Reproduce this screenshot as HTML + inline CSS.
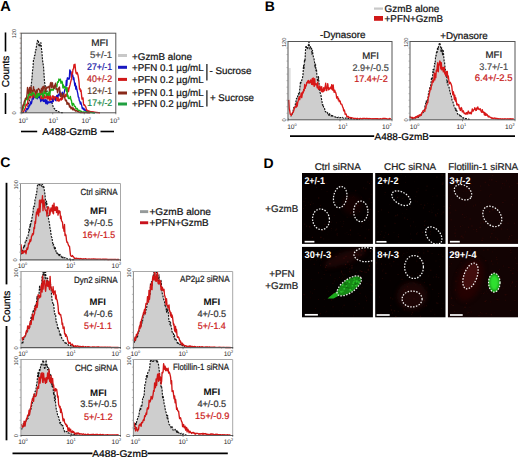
<!DOCTYPE html>
<html><head><meta charset="utf-8"><style>
html,body{margin:0;padding:0;background:#fff;}
svg{display:block;}
text{font-family:'Liberation Sans',sans-serif;text-rendering:geometricPrecision;}
</style></head><body>
<svg width="520" height="457" viewBox="0 0 520 457">
<rect width="520" height="457" fill="#fff"/>
<text x="0.20" y="10.60" font-size="14.6" fill="#000" font-weight="bold" >A</text>
<path d="M22.00,112.80 L22.50,112.75 L23.00,112.68 L23.50,112.55 L24.00,112.46 L24.50,112.34 L25.00,112.26 L25.50,112.20 L26.00,111.96 L26.50,111.88 L27.00,110.52 L27.50,107.64 L28.00,106.51 L28.50,103.21 L29.00,101.98 L29.50,99.81 L30.00,94.16 L30.50,94.34 L31.00,86.98 L31.50,82.57 L32.00,78.27 L32.50,71.23 L33.00,67.51 L33.50,59.57 L34.00,59.44 L34.50,55.55 L35.00,55.21 L35.50,49.91 L36.00,49.92 L36.50,45.63 L37.00,43.50 L37.50,40.42 L38.00,42.02 L38.50,41.47 L39.00,46.57 L39.50,44.15 L40.00,45.85 L40.50,43.03 L41.00,42.77 L41.50,49.01 L42.00,52.91 L42.50,60.07 L43.00,63.29 L43.50,66.56 L44.00,73.88 L44.50,81.70 L45.00,84.39 L45.50,89.53 L46.00,90.02 L46.50,91.11 L47.00,90.82 L47.50,94.32 L48.00,95.64 L48.50,96.69 L49.00,96.01 L49.50,99.78 L50.00,100.83 L50.50,101.42 L51.00,102.36 L51.50,103.12 L52.00,102.69 L52.50,103.92 L53.00,106.28 L53.50,107.18 L54.00,108.12 L54.50,109.01 L55.00,109.16 L55.50,110.39 L56.00,110.72 L56.50,110.49 L57.00,110.70 L57.50,111.01 L58.00,111.65 L58.50,111.78 L59.00,112.04 L59.50,112.36 L60.00,112.49 L60.50,112.49 L61.00,112.53 L61.50,112.60 L62.00,112.63 L62.50,112.69 L63.00,112.74 L63.50,112.78 L64.00,112.80 L64.00,112.80 L22.00,112.80 Z" fill="#cecece" stroke="none"/>
<path d="M22.00,112.80 L22.50,112.75 L23.00,112.68 L23.50,112.55 L24.00,112.46 L24.50,112.34 L25.00,112.26 L25.50,112.20 L26.00,111.96 L26.50,111.88 L27.00,110.52 L27.50,107.64 L28.00,106.51 L28.50,103.21 L29.00,101.98 L29.50,99.81 L30.00,94.16 L30.50,94.34 L31.00,86.98 L31.50,82.57 L32.00,78.27 L32.50,71.23 L33.00,67.51 L33.50,59.57 L34.00,59.44 L34.50,55.55 L35.00,55.21 L35.50,49.91 L36.00,49.92 L36.50,45.63 L37.00,43.50 L37.50,40.42 L38.00,42.02 L38.50,41.47 L39.00,46.57 L39.50,44.15 L40.00,45.85 L40.50,43.03 L41.00,42.77 L41.50,49.01 L42.00,52.91 L42.50,60.07 L43.00,63.29 L43.50,66.56 L44.00,73.88 L44.50,81.70 L45.00,84.39 L45.50,89.53 L46.00,90.02 L46.50,91.11 L47.00,90.82 L47.50,94.32 L48.00,95.64 L48.50,96.69 L49.00,96.01 L49.50,99.78 L50.00,100.83 L50.50,101.42 L51.00,102.36 L51.50,103.12 L52.00,102.69 L52.50,103.92 L53.00,106.28 L53.50,107.18 L54.00,108.12 L54.50,109.01 L55.00,109.16 L55.50,110.39 L56.00,110.72 L56.50,110.49 L57.00,110.70 L57.50,111.01 L58.00,111.65 L58.50,111.78 L59.00,112.04 L59.50,112.36 L60.00,112.49 L60.50,112.49 L61.00,112.53 L61.50,112.60 L62.00,112.63 L62.50,112.69 L63.00,112.74 L63.50,112.78 L64.00,112.80" fill="none" stroke="#151515" stroke-width="1.15" stroke-dasharray="2 1.1" stroke-linejoin="round"/>
<path d="M24.80,111.64 L25.30,111.07 L25.80,110.74 L26.30,109.65 L26.80,108.55 L27.30,108.39 L27.80,109.11 L28.30,108.16 L28.80,107.48 L29.30,104.97 L29.80,105.68 L30.30,103.75 L30.80,101.79 L31.30,103.84 L31.80,101.91 L32.30,97.73 L32.80,98.68 L33.30,99.06 L33.80,95.03 L34.30,97.65 L34.80,94.80 L35.30,94.04 L35.80,97.92 L36.30,95.26 L36.80,96.98 L37.30,98.76 L37.80,97.03 L38.30,97.56 L38.80,97.37 L39.30,94.28 L39.80,97.88 L40.30,98.94 L40.80,101.58 L41.30,99.04 L41.80,100.30 L42.30,99.29 L42.80,99.42 L43.30,101.28 L43.80,99.61 L44.30,101.62 L44.80,100.63 L45.30,99.59 L45.80,103.51 L46.30,102.96 L46.80,99.98 L47.30,104.16 L47.80,101.93 L48.30,102.99 L48.80,101.79 L49.30,102.61 L49.80,102.53 L50.30,101.66 L50.80,101.94 L51.30,102.83 L51.80,101.28 L52.30,102.00 L52.80,98.48 L53.30,101.49 L53.80,97.76 L54.30,97.99 L54.80,96.84 L55.30,99.73 L55.80,100.57 L56.30,96.69 L56.80,95.37 L57.30,96.07 L57.80,98.64 L58.30,94.30 L58.80,95.08 L59.30,94.79 L59.80,90.94 L60.30,96.13 L60.80,94.97 L61.30,95.91 L61.80,95.99 L62.30,92.10 L62.80,96.00 L63.30,96.06 L63.80,93.73 L64.30,92.15 L64.80,89.56 L65.30,88.46 L65.80,88.02 L66.30,80.47 L66.80,85.36 L67.30,78.07 L67.80,77.80 L68.30,78.69 L68.80,79.26 L69.30,78.92 L69.80,69.82 L70.30,71.05 L70.80,71.43 L71.30,77.29 L71.80,76.04 L72.30,73.92 L72.80,75.45 L73.30,79.65 L73.80,77.56 L74.30,81.69 L74.80,85.75 L75.30,83.07 L75.80,89.19 L76.30,86.11 L76.80,89.28 L77.30,91.38 L77.80,93.62 L78.30,97.21 L78.80,97.38 L79.30,100.76 L79.80,101.23 L80.30,103.95 L80.80,102.10 L81.30,104.12 L81.80,105.87 L82.30,108.68 L82.80,108.03 L83.30,109.32 L83.80,108.21 L84.30,110.24 L84.80,109.47 L85.30,110.03 L85.80,110.91 L86.30,111.04 L86.80,111.29 L87.30,111.68 L87.80,111.57 L88.30,111.09 L88.80,111.44 L89.30,111.72 L89.80,111.79 L90.30,112.03 L90.80,112.03 L91.30,111.99 L91.80,112.18 L92.30,112.47 L92.80,112.45 L93.30,112.61 L93.80,112.70 L94.30,112.73 L94.80,112.78" fill="none" stroke="#1010c8" stroke-width="1.35" stroke-linejoin="round"/>
<path d="M23.00,112.06 L23.50,111.52 L24.00,110.71 L24.50,110.02 L25.00,108.48 L25.50,108.24 L26.00,104.23 L26.50,104.83 L27.00,105.22 L27.50,103.36 L28.00,99.89 L28.50,99.21 L29.00,96.06 L29.50,96.42 L30.00,97.84 L30.50,97.14 L31.00,95.62 L31.50,92.41 L32.00,93.57 L32.50,97.71 L33.00,94.14 L33.50,95.53 L34.00,93.86 L34.50,96.46 L35.00,97.56 L35.50,94.81 L36.00,91.73 L36.50,93.39 L37.00,94.84 L37.50,97.40 L38.00,94.86 L38.50,93.60 L39.00,93.46 L39.50,94.81 L40.00,95.31 L40.50,91.87 L41.00,98.55 L41.50,97.68 L42.00,98.80 L42.50,96.02 L43.00,95.63 L43.50,98.61 L44.00,94.97 L44.50,95.38 L45.00,98.05 L45.50,96.77 L46.00,97.87 L46.50,96.85 L47.00,95.81 L47.50,98.92 L48.00,93.57 L48.50,98.41 L49.00,97.09 L49.50,100.01 L50.00,95.41 L50.50,96.16 L51.00,99.91 L51.50,99.25 L52.00,98.58 L52.50,95.82 L53.00,95.83 L53.50,96.36 L54.00,99.71 L54.50,99.47 L55.00,96.94 L55.50,97.16 L56.00,97.17 L56.50,97.50 L57.00,100.80 L57.50,99.07 L58.00,97.56 L58.50,101.06 L59.00,99.07 L59.50,100.82 L60.00,100.10 L60.50,98.46 L61.00,97.84 L61.50,99.97 L62.00,97.55 L62.50,99.06 L63.00,95.56 L63.50,96.21 L64.00,96.68 L64.50,97.04 L65.00,94.95 L65.50,96.55 L66.00,94.21 L66.50,96.12 L67.00,95.43 L67.50,91.34 L68.00,87.88 L68.50,91.68 L69.00,88.73 L69.50,86.78 L70.00,84.94 L70.50,82.69 L71.00,80.81 L71.50,78.66 L72.00,72.24 L72.50,73.55 L73.00,69.18 L73.50,68.83 L74.00,64.61 L74.50,67.01 L75.00,64.16 L75.50,69.81 L76.00,72.87 L76.50,73.85 L77.00,72.38 L77.50,73.57 L78.00,75.22 L78.50,78.06 L79.00,81.96 L79.50,89.19 L80.00,88.54 L80.50,91.40 L81.00,90.13 L81.50,94.67 L82.00,99.19 L82.50,98.70 L83.00,97.92 L83.50,104.05 L84.00,105.20 L84.50,104.82 L85.00,105.90 L85.50,106.24 L86.00,107.66 L86.50,110.25 L87.00,109.84 L87.50,111.22 L88.00,111.24 L88.50,110.99 L89.00,110.82 L89.50,111.73 L90.00,111.49 L90.50,111.60 L91.00,111.67 L91.50,112.11 L92.00,111.86 L92.50,111.79 L93.00,111.95 L93.50,111.84 L94.00,112.14 L94.50,112.13 L95.00,112.15 L95.50,112.38 L96.00,112.45 L96.50,112.33 L97.00,112.51 L97.50,112.54 L98.00,112.67 L98.50,112.70 L99.00,112.72 L99.50,112.76 L100.00,112.80" fill="none" stroke="#d81818" stroke-width="1.35" stroke-linejoin="round"/>
<path d="M22.40,110.23 L22.90,109.69 L23.40,107.75 L23.90,106.75 L24.40,104.27 L24.90,104.10 L25.40,99.83 L25.90,99.82 L26.40,99.32 L26.90,97.08 L27.40,99.89 L27.90,98.37 L28.40,93.83 L28.90,95.68 L29.40,91.66 L29.90,93.34 L30.40,95.06 L30.90,94.99 L31.40,94.49 L31.90,95.54 L32.40,91.07 L32.90,92.15 L33.40,93.77 L33.90,93.37 L34.40,94.13 L34.90,95.44 L35.40,97.24 L35.90,97.42 L36.40,97.80 L36.90,93.33 L37.40,97.77 L37.90,95.68 L38.40,93.79 L38.90,95.82 L39.40,93.09 L39.90,95.10 L40.40,94.92 L40.90,94.12 L41.40,94.35 L41.90,92.29 L42.40,93.62 L42.90,97.02 L43.40,96.95 L43.90,91.64 L44.40,91.30 L44.90,93.33 L45.40,88.27 L45.90,92.53 L46.40,95.71 L46.90,93.06 L47.40,93.95 L47.90,93.31 L48.40,95.38 L48.90,92.30 L49.40,91.06 L49.90,95.30 L50.40,89.96 L50.90,89.28 L51.40,89.08 L51.90,90.62 L52.40,89.32 L52.90,89.35 L53.40,90.14 L53.90,86.91 L54.40,88.67 L54.90,86.87 L55.40,86.51 L55.90,85.46 L56.40,84.94 L56.90,86.85 L57.40,82.41 L57.90,81.61 L58.40,82.16 L58.90,78.99 L59.40,80.11 L59.90,80.62 L60.40,79.11 L60.90,83.28 L61.40,82.60 L61.90,81.14 L62.40,82.56 L62.90,87.88 L63.40,84.89 L63.90,87.98 L64.40,86.53 L64.90,86.76 L65.40,87.63 L65.90,89.82 L66.40,91.22 L66.90,87.43 L67.40,96.61 L67.90,95.17 L68.40,98.47 L68.90,98.10 L69.40,98.48 L69.90,97.60 L70.40,96.49 L70.90,99.94 L71.40,100.00 L71.90,103.90 L72.40,105.57 L72.90,103.42 L73.40,103.48 L73.90,104.40 L74.40,106.34 L74.90,106.33 L75.40,106.51 L75.90,108.97 L76.40,108.45 L76.90,108.32 L77.40,108.75 L77.90,110.50 L78.40,110.19 L78.90,110.95 L79.40,110.50 L79.90,110.49 L80.40,111.12 L80.90,111.62 L81.40,111.30 L81.90,111.96 L82.40,112.17 L82.90,112.16 L83.40,112.19 L83.90,111.81 L84.40,112.13 L84.90,112.26 L85.40,111.94 L85.90,112.07 L86.40,112.11 L86.90,112.25 L87.40,112.25 L87.90,112.31 L88.40,112.44 L88.90,112.28 L89.40,112.35 L89.90,112.41 L90.40,112.46 L90.90,112.50 L91.40,112.66 L91.90,112.68 L92.40,112.64 L92.90,112.70 L93.40,112.72 L93.90,112.75 L94.40,112.78 L94.90,112.80" fill="none" stroke="#18b018" stroke-width="1.35" stroke-linejoin="round"/>
<path d="M21.50,112.25 L22.00,111.36 L22.50,107.70 L23.00,104.92 L23.50,105.73 L24.00,102.92 L24.50,101.00 L25.00,99.94 L25.50,98.23 L26.00,98.52 L26.50,98.36 L27.00,94.03 L27.50,87.52 L28.00,90.79 L28.50,93.69 L29.00,91.33 L29.50,87.51 L30.00,87.69 L30.50,92.70 L31.00,86.91 L31.50,90.53 L32.00,91.00 L32.50,90.35 L33.00,91.80 L33.50,86.66 L34.00,90.55 L34.50,89.62 L35.00,92.40 L35.50,91.99 L36.00,92.45 L36.50,89.83 L37.00,92.87 L37.50,90.26 L38.00,89.39 L38.50,88.55 L39.00,89.35 L39.50,89.73 L40.00,92.29 L40.50,90.95 L41.00,91.16 L41.50,88.46 L42.00,92.78 L42.50,86.95 L43.00,90.86 L43.50,87.15 L44.00,86.12 L44.50,87.60 L45.00,88.79 L45.50,91.64 L46.00,87.63 L46.50,89.16 L47.00,86.80 L47.50,87.82 L48.00,87.33 L48.50,86.66 L49.00,86.22 L49.50,90.89 L50.00,86.19 L50.50,82.97 L51.00,82.37 L51.50,87.47 L52.00,83.61 L52.50,82.74 L53.00,87.75 L53.50,88.55 L54.00,88.10 L54.50,85.21 L55.00,86.43 L55.50,83.08 L56.00,89.24 L56.50,88.23 L57.00,88.82 L57.50,92.70 L58.00,91.27 L58.50,88.21 L59.00,87.74 L59.50,87.07 L60.00,93.07 L60.50,96.41 L61.00,93.17 L61.50,94.01 L62.00,96.64 L62.50,97.50 L63.00,96.51 L63.50,93.11 L64.00,96.53 L64.50,96.73 L65.00,98.84 L65.50,100.86 L66.00,100.22 L66.50,100.21 L67.00,104.33 L67.50,102.54 L68.00,102.77 L68.50,104.50 L69.00,103.42 L69.50,107.11 L70.00,105.88 L70.50,106.94 L71.00,108.74 L71.50,107.82 L72.00,107.08 L72.50,109.72 L73.00,108.35 L73.50,108.01 L74.00,110.03 L74.50,109.30 L75.00,110.05 L75.50,111.10 L76.00,110.97 L76.50,110.31 L77.00,111.10 L77.50,111.33 L78.00,111.67 L78.50,111.78 L79.00,112.21 L79.50,112.24 L80.00,112.46 L80.50,112.48 L81.00,112.60 L81.50,112.45 L82.00,112.59 L82.50,112.51 L83.00,112.59 L83.50,112.58 L84.00,112.61 L84.50,112.66 L85.00,112.64 L85.50,112.64 L86.00,112.66 L86.50,112.68 L87.00,112.74 L87.50,112.75 L88.00,112.77 L88.50,112.77 L89.00,112.78 L89.50,112.79 L90.00,112.80" fill="none" stroke="#8a2a1a" stroke-width="1.35" stroke-linejoin="round"/>
<rect x="21.20" y="33.20" width="94.60" height="79.60" fill="none" stroke="#555" stroke-width="1" />
<line x1="19.70" y1="33.20" x2="21.20" y2="33.20" stroke="#7a5a4a" stroke-width="0.6" />
<line x1="19.70" y1="38.18" x2="21.20" y2="38.18" stroke="#7a5a4a" stroke-width="0.6" />
<line x1="19.70" y1="43.15" x2="21.20" y2="43.15" stroke="#7a5a4a" stroke-width="0.6" />
<line x1="19.70" y1="48.12" x2="21.20" y2="48.12" stroke="#7a5a4a" stroke-width="0.6" />
<line x1="19.70" y1="53.10" x2="21.20" y2="53.10" stroke="#7a5a4a" stroke-width="0.6" />
<line x1="19.70" y1="58.08" x2="21.20" y2="58.08" stroke="#7a5a4a" stroke-width="0.6" />
<line x1="19.70" y1="63.05" x2="21.20" y2="63.05" stroke="#7a5a4a" stroke-width="0.6" />
<line x1="19.70" y1="68.03" x2="21.20" y2="68.03" stroke="#7a5a4a" stroke-width="0.6" />
<line x1="19.70" y1="73.00" x2="21.20" y2="73.00" stroke="#7a5a4a" stroke-width="0.6" />
<line x1="19.70" y1="77.97" x2="21.20" y2="77.97" stroke="#7a5a4a" stroke-width="0.6" />
<line x1="19.70" y1="82.95" x2="21.20" y2="82.95" stroke="#7a5a4a" stroke-width="0.6" />
<line x1="19.70" y1="87.92" x2="21.20" y2="87.92" stroke="#7a5a4a" stroke-width="0.6" />
<line x1="19.70" y1="92.90" x2="21.20" y2="92.90" stroke="#7a5a4a" stroke-width="0.6" />
<line x1="19.70" y1="97.88" x2="21.20" y2="97.88" stroke="#7a5a4a" stroke-width="0.6" />
<line x1="19.70" y1="102.85" x2="21.20" y2="102.85" stroke="#7a5a4a" stroke-width="0.6" />
<line x1="19.70" y1="107.83" x2="21.20" y2="107.83" stroke="#7a5a4a" stroke-width="0.6" />
<line x1="19.70" y1="112.80" x2="21.20" y2="112.80" stroke="#7a5a4a" stroke-width="0.6" />
<text x="16.30" y="38.30" font-size="5.6" fill="#333" transform="rotate(-90 16.30 38.30)" >120</text>
<text x="16.30" y="114.60" font-size="5.6" fill="#333" transform="rotate(-90 16.30 114.60)" >0</text>
<text x="18.40" y="123.20" font-size="6.6" fill="#2a2a2a" >10</text>
<text x="25.80" y="119.80" font-size="3.9" fill="#2a2a2a" >0</text>
<line x1="21.20" y1="112.80" x2="21.20" y2="114.30" stroke="#2a2a2a" stroke-width="0.5" />
<text x="48.53" y="123.20" font-size="6.6" fill="#2a2a2a" >10</text>
<text x="55.93" y="119.80" font-size="3.9" fill="#2a2a2a" >1</text>
<line x1="52.73" y1="112.80" x2="52.73" y2="114.30" stroke="#2a2a2a" stroke-width="0.5" />
<text x="81.47" y="123.20" font-size="6.6" fill="#2a2a2a" >10</text>
<text x="88.87" y="119.80" font-size="3.9" fill="#2a2a2a" >2</text>
<line x1="84.27" y1="112.80" x2="84.27" y2="114.30" stroke="#2a2a2a" stroke-width="0.5" />
<text x="109.80" y="123.20" font-size="6.6" fill="#2a2a2a" >10</text>
<text x="117.20" y="119.80" font-size="3.9" fill="#2a2a2a" >3</text>
<line x1="115.80" y1="112.80" x2="115.80" y2="114.30" stroke="#2a2a2a" stroke-width="0.5" />
<text x="91.20" y="46.40" font-size="9.6" fill="#222" textLength="17.20" lengthAdjust="spacingAndGlyphs" stroke="#222" stroke-width="0.22">MFI</text>
<text x="90.00" y="58.20" font-size="9.6" fill="#4a4a4a" textLength="22.20" lengthAdjust="spacingAndGlyphs" stroke="#4a4a4a" stroke-width="0.22">5+/-1</text>
<text x="87.00" y="70.30" font-size="9.6" fill="#2020a8" textLength="25.20" lengthAdjust="spacingAndGlyphs" stroke="#2020a8" stroke-width="0.22">27+/-1</text>
<text x="87.00" y="82.30" font-size="9.6" fill="#c02828" textLength="25.20" lengthAdjust="spacingAndGlyphs" stroke="#c02828" stroke-width="0.22">40+/-2</text>
<text x="87.30" y="94.10" font-size="9.6" fill="#5a3828" textLength="24.90" lengthAdjust="spacingAndGlyphs" stroke="#5a3828" stroke-width="0.22">12+/-1</text>
<text x="87.30" y="105.80" font-size="9.6" fill="#208a48" textLength="24.90" lengthAdjust="spacingAndGlyphs" stroke="#208a48" stroke-width="0.22">17+/-2</text>
<rect x="118.00" y="54.00" width="9.00" height="3.00" fill="#c8c8c8" stroke="none" stroke-width="1" />
<rect x="118.00" y="65.80" width="9.00" height="3.00" fill="#1818c0" stroke="none" stroke-width="1" />
<rect x="118.00" y="77.90" width="9.00" height="3.00" fill="#d01818" stroke="none" stroke-width="1" />
<rect x="118.00" y="91.50" width="9.00" height="3.00" fill="#8a2a1a" stroke="none" stroke-width="1" />
<rect x="118.00" y="102.50" width="9.00" height="3.00" fill="#20a040" stroke="none" stroke-width="1" />
<text x="132.00" y="59.80" font-size="9.8" fill="#111" textLength="60.00" lengthAdjust="spacingAndGlyphs" stroke="#111" stroke-width="0.22">+GzmB alone</text>
<text x="132.00" y="70.90" font-size="9.8" fill="#111" textLength="71.70" lengthAdjust="spacingAndGlyphs" stroke="#111" stroke-width="0.22">+PFN 0.1 µg/mL</text>
<text x="132.00" y="83.00" font-size="9.8" fill="#111" textLength="71.70" lengthAdjust="spacingAndGlyphs" stroke="#111" stroke-width="0.22">+PFN 0.2 µg/mL</text>
<text x="132.00" y="96.00" font-size="9.8" fill="#111" textLength="71.70" lengthAdjust="spacingAndGlyphs" stroke="#111" stroke-width="0.22">+PFN 0.1 µg/mL</text>
<text x="132.00" y="107.30" font-size="9.8" fill="#111" textLength="71.70" lengthAdjust="spacingAndGlyphs" stroke="#111" stroke-width="0.22">+PFN 0.2 µg/mL</text>
<line x1="206.90" y1="64.00" x2="206.90" y2="80.50" stroke="#111" stroke-width="1.2" />
<line x1="206.90" y1="90.30" x2="206.90" y2="106.40" stroke="#111" stroke-width="1.2" />
<text x="209.40" y="74.20" font-size="9.8" fill="#111" textLength="42.00" lengthAdjust="spacingAndGlyphs" stroke="#111" stroke-width="0.22">- Sucrose</text>
<text x="210.00" y="100.60" font-size="9.8" fill="#111" textLength="44.00" lengthAdjust="spacingAndGlyphs" stroke="#111" stroke-width="0.22">+ Sucrose</text>
<text x="9.00" y="71.50" font-size="10" fill="#000" text-anchor="middle" transform="rotate(-90 9.00 71.50)" stroke="#000" stroke-width="0.22">Counts</text>
<line x1="5.50" y1="32.50" x2="5.50" y2="51.50" stroke="#000" stroke-width="1.6" />
<line x1="5.50" y1="93.00" x2="5.50" y2="114.00" stroke="#000" stroke-width="1.6" />
<text x="42.30" y="135.00" font-size="10.0" fill="#000" textLength="55.00" lengthAdjust="spacingAndGlyphs" stroke="#000" stroke-width="0.22">A488-GzmB</text>
<line x1="21.00" y1="131.50" x2="37.20" y2="131.50" stroke="#000" stroke-width="1.6" />
<line x1="100.50" y1="131.50" x2="114.00" y2="131.50" stroke="#000" stroke-width="1.6" />
<text x="264.80" y="11.20" font-size="14" fill="#000" font-weight="bold" >B</text>
<rect x="374.00" y="7.50" width="9.00" height="2.20" fill="#c8c8c8" stroke="none" stroke-width="1" />
<rect x="374.00" y="16.00" width="9.00" height="4.80" fill="#d01818" stroke="none" stroke-width="1" />
<text x="384.60" y="11.60" font-size="9.8" fill="#111" textLength="54.60" lengthAdjust="spacingAndGlyphs" stroke="#111" stroke-width="0.22">GzmB alone</text>
<text x="384.60" y="21.60" font-size="9.8" fill="#111" textLength="58.40" lengthAdjust="spacingAndGlyphs" stroke="#111" stroke-width="0.22">+PFN+GzmB</text>
<text x="320.00" y="37.50" font-size="9.8" fill="#111" textLength="45.50" lengthAdjust="spacingAndGlyphs" stroke="#111" stroke-width="0.22">-Dynasore</text>
<text x="440.20" y="38.50" font-size="9.8" fill="#111" textLength="47.50" lengthAdjust="spacingAndGlyphs" stroke="#111" stroke-width="0.22">+Dynasore</text>
<path d="M288.50,119.49 L289.00,118.68 L289.50,118.33 L290.00,117.15 L290.50,116.36 L291.00,115.82 L291.50,114.53 L292.00,114.28 L292.50,113.31 L293.00,111.54 L293.50,108.62 L294.00,107.26 L294.50,108.65 L295.00,106.69 L295.50,103.41 L296.00,101.73 L296.50,98.30 L297.00,98.67 L297.50,96.84 L298.00,95.00 L298.50,93.60 L299.00,94.72 L299.50,91.86 L300.00,86.67 L300.50,81.52 L301.00,82.91 L301.50,81.21 L302.00,79.53 L302.50,77.98 L303.00,74.87 L303.50,65.48 L304.00,68.49 L304.50,59.52 L305.00,61.48 L305.50,50.22 L306.00,45.71 L306.50,47.25 L307.00,47.77 L307.50,49.15 L308.00,47.57 L308.50,44.31 L309.00,42.10 L309.50,46.92 L310.00,49.31 L310.50,46.70 L311.00,47.31 L311.50,47.55 L312.00,54.23 L312.50,50.34 L313.00,55.26 L313.50,57.28 L314.00,58.74 L314.50,61.96 L315.00,67.51 L315.50,64.12 L316.00,70.61 L316.50,68.94 L317.00,77.27 L317.50,80.44 L318.00,80.81 L318.50,76.68 L319.00,83.10 L319.50,86.85 L320.00,92.35 L320.50,93.70 L321.00,95.47 L321.50,99.06 L322.00,101.56 L322.50,105.27 L323.00,104.55 L323.50,106.79 L324.00,108.07 L324.50,108.04 L325.00,111.20 L325.50,111.44 L326.00,112.16 L326.50,111.76 L327.00,112.10 L327.50,112.32 L328.00,114.84 L328.50,114.51 L329.00,115.39 L329.50,113.51 L330.00,115.20 L330.50,115.20 L331.00,115.95 L331.50,115.48 L332.00,116.83 L332.50,115.51 L333.00,116.31 L333.50,116.66 L334.00,116.97 L334.50,116.81 L335.00,116.85 L335.50,117.07 L336.00,117.33 L336.50,116.71 L337.00,117.23 L337.50,117.58 L338.00,117.63 L338.50,117.21 L339.00,117.69 L339.50,117.82 L340.00,117.57 L340.50,117.65 L341.00,117.45 L341.50,117.68 L342.00,117.75 L342.50,117.32 L343.00,117.88 L343.50,118.24 L344.00,118.19 L344.50,118.12 L345.00,117.91 L345.50,118.24 L346.00,118.19 L346.50,118.15 L347.00,118.47 L347.50,118.03 L348.00,118.51 L348.50,118.11 L349.00,118.50 L349.50,118.46 L350.00,118.35 L350.50,118.64 L351.00,118.56 L351.50,118.66 L352.00,118.86 L352.50,118.58 L353.00,118.53 L353.50,118.73 L354.00,118.94 L354.50,118.82 L355.00,118.89 L355.50,119.19 L356.00,119.17 L356.50,119.17 L357.00,119.34 L357.50,119.26 L358.00,119.38 L358.50,119.35 L359.00,119.43 L359.50,119.52 L360.00,119.55 L360.00,119.80 L288.50,119.80 Z" fill="#cecece" stroke="none"/>
<path d="M288.50,119.49 L289.00,118.68 L289.50,118.33 L290.00,117.15 L290.50,116.36 L291.00,115.82 L291.50,114.53 L292.00,114.28 L292.50,113.31 L293.00,111.54 L293.50,108.62 L294.00,107.26 L294.50,108.65 L295.00,106.69 L295.50,103.41 L296.00,101.73 L296.50,98.30 L297.00,98.67 L297.50,96.84 L298.00,95.00 L298.50,93.60 L299.00,94.72 L299.50,91.86 L300.00,86.67 L300.50,81.52 L301.00,82.91 L301.50,81.21 L302.00,79.53 L302.50,77.98 L303.00,74.87 L303.50,65.48 L304.00,68.49 L304.50,59.52 L305.00,61.48 L305.50,50.22 L306.00,45.71 L306.50,47.25 L307.00,47.77 L307.50,49.15 L308.00,47.57 L308.50,44.31 L309.00,42.10 L309.50,46.92 L310.00,49.31 L310.50,46.70 L311.00,47.31 L311.50,47.55 L312.00,54.23 L312.50,50.34 L313.00,55.26 L313.50,57.28 L314.00,58.74 L314.50,61.96 L315.00,67.51 L315.50,64.12 L316.00,70.61 L316.50,68.94 L317.00,77.27 L317.50,80.44 L318.00,80.81 L318.50,76.68 L319.00,83.10 L319.50,86.85 L320.00,92.35 L320.50,93.70 L321.00,95.47 L321.50,99.06 L322.00,101.56 L322.50,105.27 L323.00,104.55 L323.50,106.79 L324.00,108.07 L324.50,108.04 L325.00,111.20 L325.50,111.44 L326.00,112.16 L326.50,111.76 L327.00,112.10 L327.50,112.32 L328.00,114.84 L328.50,114.51 L329.00,115.39 L329.50,113.51 L330.00,115.20 L330.50,115.20 L331.00,115.95 L331.50,115.48 L332.00,116.83 L332.50,115.51 L333.00,116.31 L333.50,116.66 L334.00,116.97 L334.50,116.81 L335.00,116.85 L335.50,117.07 L336.00,117.33 L336.50,116.71 L337.00,117.23 L337.50,117.58 L338.00,117.63 L338.50,117.21 L339.00,117.69 L339.50,117.82 L340.00,117.57 L340.50,117.65 L341.00,117.45 L341.50,117.68 L342.00,117.75 L342.50,117.32 L343.00,117.88 L343.50,118.24 L344.00,118.19 L344.50,118.12 L345.00,117.91 L345.50,118.24 L346.00,118.19 L346.50,118.15 L347.00,118.47 L347.50,118.03 L348.00,118.51 L348.50,118.11 L349.00,118.50 L349.50,118.46 L350.00,118.35 L350.50,118.64 L351.00,118.56 L351.50,118.66 L352.00,118.86 L352.50,118.58 L353.00,118.53 L353.50,118.73 L354.00,118.94 L354.50,118.82 L355.00,118.89 L355.50,119.19 L356.00,119.17 L356.50,119.17 L357.00,119.34 L357.50,119.26 L358.00,119.38 L358.50,119.35 L359.00,119.43 L359.50,119.52 L360.00,119.55" fill="none" stroke="#151515" stroke-width="1.15" stroke-dasharray="2 1.1" stroke-linejoin="round"/>
<rect x="288.50" y="68.00" width="2.20" height="52.00" fill="#dedede" stroke="none" stroke-width="1" />
<path d="M288.70,99.86 L289.20,108.61 L289.70,110.72 L290.20,114.08 L290.70,114.54 L291.20,115.48 L291.70,114.41 L292.20,113.27 L292.70,112.39 L293.20,112.30 L293.70,110.80 L294.20,109.06 L294.70,107.11 L295.20,106.88 L295.70,106.14 L296.20,107.26 L296.70,102.67 L297.20,106.10 L297.70,102.58 L298.20,100.74 L298.70,98.55 L299.20,96.55 L299.70,99.70 L300.20,96.65 L300.70,96.44 L301.20,93.01 L301.70,97.69 L302.20,94.81 L302.70,91.88 L303.20,92.99 L303.70,89.44 L304.20,90.75 L304.70,84.54 L305.20,88.40 L305.70,85.78 L306.20,85.80 L306.70,82.67 L307.20,82.41 L307.70,80.94 L308.20,83.02 L308.70,80.48 L309.20,81.30 L309.70,82.99 L310.20,82.70 L310.70,80.01 L311.20,81.44 L311.70,84.44 L312.20,78.64 L312.70,84.62 L313.20,77.93 L313.70,83.43 L314.20,86.40 L314.70,78.78 L315.20,84.99 L315.70,84.22 L316.20,83.80 L316.70,84.99 L317.20,87.74 L317.70,82.14 L318.20,88.10 L318.70,89.46 L319.20,88.56 L319.70,85.95 L320.20,86.79 L320.70,89.86 L321.20,91.20 L321.70,86.69 L322.20,91.85 L322.70,89.37 L323.20,91.69 L323.70,87.74 L324.20,90.95 L324.70,88.48 L325.20,86.78 L325.70,83.06 L326.20,90.41 L326.70,90.50 L327.20,88.12 L327.70,83.57 L328.20,86.97 L328.70,89.76 L329.20,89.31 L329.70,88.52 L330.20,87.30 L330.70,87.15 L331.20,88.92 L331.70,84.67 L332.20,89.55 L332.70,90.13 L333.20,84.89 L333.70,90.39 L334.20,92.40 L334.70,90.22 L335.20,91.99 L335.70,92.56 L336.20,94.50 L336.70,98.12 L337.20,97.31 L337.70,96.78 L338.20,99.94 L338.70,98.78 L339.20,101.58 L339.70,100.60 L340.20,101.12 L340.70,103.81 L341.20,104.05 L341.70,104.10 L342.20,105.39 L342.70,107.16 L343.20,107.83 L343.70,110.80 L344.20,109.86 L344.70,111.29 L345.20,114.31 L345.70,113.94 L346.20,114.20 L346.70,116.38 L347.20,117.05 L347.70,116.53 L348.20,116.44 L348.70,117.33 L349.20,117.72 L349.70,117.48 L350.20,117.83 L350.70,117.47 L351.20,117.87 L351.70,117.61 L352.20,117.92 L352.70,118.04 L353.20,118.18 L353.70,118.31 L354.20,118.72 L354.70,118.33 L355.20,118.40 L355.70,118.43 L356.20,118.93 L356.70,118.62 L357.20,118.30 L357.70,118.84 L358.20,118.87 L358.70,118.83 L359.20,118.52 L359.70,118.78 L360.20,118.49 L360.70,118.38 L361.20,118.87 L361.70,118.85 L362.20,118.44 L362.70,118.89 L363.20,118.32 L363.70,118.51 L364.20,118.32 L364.70,118.43 L365.20,118.42 L365.70,118.79 L366.20,118.52 L366.70,118.45 L367.20,118.45 L367.70,118.54 L368.20,118.90 L368.70,118.74 L369.20,118.42 L369.70,118.80 L370.20,118.70 L370.70,118.65 L371.20,118.70 L371.70,118.79 L372.20,118.88 L372.70,118.70 L373.20,118.79 L373.70,118.68 L374.20,118.79 L374.70,118.64 L375.20,118.66 L375.70,118.73 L376.20,118.86 L376.70,118.59 L377.20,118.99 L377.70,118.73 L378.20,118.95 L378.70,118.86 L379.20,119.02 L379.70,118.86 L380.20,118.71 L380.70,118.70 L381.20,118.82 L381.70,118.91 L382.20,118.96 L382.70,118.54 L383.20,118.51 L383.70,118.54 L384.20,118.53 L384.70,118.51 L385.20,118.49 L385.70,118.63 L386.20,118.56 L386.70,118.89 L387.20,118.85 L387.70,119.06 L388.20,119.06 L388.70,118.94 L389.20,119.05 L389.70,118.52 L390.20,118.64 L390.70,119.04" fill="none" stroke="#d81818" stroke-width="1.35" stroke-linejoin="round"/>
<path d="M411.60,118.81 L412.10,118.90 L412.60,118.81 L413.10,118.78 L413.60,118.28 L414.10,118.14 L414.60,117.90 L415.10,117.77 L415.60,118.02 L416.10,117.30 L416.60,117.52 L417.10,117.05 L417.60,116.99 L418.10,117.03 L418.60,117.43 L419.10,116.93 L419.60,115.57 L420.10,115.29 L420.60,114.22 L421.10,115.10 L421.60,114.25 L422.10,113.58 L422.60,113.08 L423.10,112.45 L423.60,111.79 L424.10,110.62 L424.60,108.64 L425.10,105.68 L425.60,103.80 L426.10,101.01 L426.60,102.39 L427.10,100.94 L427.60,99.50 L428.10,97.02 L428.60,92.26 L429.10,91.36 L429.60,88.82 L430.10,86.77 L430.60,85.92 L431.10,82.14 L431.60,77.30 L432.10,79.95 L432.60,75.65 L433.10,69.22 L433.60,72.50 L434.10,68.47 L434.60,63.42 L435.10,63.94 L435.60,56.12 L436.10,55.87 L436.60,51.14 L437.10,52.36 L437.60,47.27 L438.10,49.49 L438.60,45.93 L439.10,44.41 L439.60,42.71 L440.10,44.20 L440.60,46.21 L441.10,52.29 L441.60,47.74 L442.10,48.81 L442.60,55.42 L443.10,49.59 L443.60,54.64 L444.10,60.79 L444.60,62.73 L445.10,68.31 L445.60,71.19 L446.10,75.50 L446.60,74.73 L447.10,82.64 L447.60,80.30 L448.10,85.46 L448.60,86.37 L449.10,87.37 L449.60,90.09 L450.10,92.00 L450.60,94.36 L451.10,95.29 L451.60,97.29 L452.10,100.32 L452.60,101.13 L453.10,102.54 L453.60,104.31 L454.10,106.18 L454.60,106.91 L455.10,108.18 L455.60,110.47 L456.10,108.85 L456.60,110.13 L457.10,111.72 L457.60,114.25 L458.10,114.19 L458.60,113.98 L459.10,114.33 L459.60,115.02 L460.10,116.40 L460.60,115.52 L461.10,116.43 L461.60,116.68 L462.10,117.04 L462.60,117.84 L463.10,117.56 L463.60,118.17 L464.10,118.19 L464.60,118.47 L465.10,118.29 L465.60,118.66 L466.10,118.51 L466.60,118.73 L467.10,118.89 L467.60,119.11 L468.10,119.24 L468.60,119.16 L469.10,119.29 L469.60,119.45 L469.60,119.80 L411.60,119.80 Z" fill="#cecece" stroke="none"/>
<path d="M411.60,118.81 L412.10,118.90 L412.60,118.81 L413.10,118.78 L413.60,118.28 L414.10,118.14 L414.60,117.90 L415.10,117.77 L415.60,118.02 L416.10,117.30 L416.60,117.52 L417.10,117.05 L417.60,116.99 L418.10,117.03 L418.60,117.43 L419.10,116.93 L419.60,115.57 L420.10,115.29 L420.60,114.22 L421.10,115.10 L421.60,114.25 L422.10,113.58 L422.60,113.08 L423.10,112.45 L423.60,111.79 L424.10,110.62 L424.60,108.64 L425.10,105.68 L425.60,103.80 L426.10,101.01 L426.60,102.39 L427.10,100.94 L427.60,99.50 L428.10,97.02 L428.60,92.26 L429.10,91.36 L429.60,88.82 L430.10,86.77 L430.60,85.92 L431.10,82.14 L431.60,77.30 L432.10,79.95 L432.60,75.65 L433.10,69.22 L433.60,72.50 L434.10,68.47 L434.60,63.42 L435.10,63.94 L435.60,56.12 L436.10,55.87 L436.60,51.14 L437.10,52.36 L437.60,47.27 L438.10,49.49 L438.60,45.93 L439.10,44.41 L439.60,42.71 L440.10,44.20 L440.60,46.21 L441.10,52.29 L441.60,47.74 L442.10,48.81 L442.60,55.42 L443.10,49.59 L443.60,54.64 L444.10,60.79 L444.60,62.73 L445.10,68.31 L445.60,71.19 L446.10,75.50 L446.60,74.73 L447.10,82.64 L447.60,80.30 L448.10,85.46 L448.60,86.37 L449.10,87.37 L449.60,90.09 L450.10,92.00 L450.60,94.36 L451.10,95.29 L451.60,97.29 L452.10,100.32 L452.60,101.13 L453.10,102.54 L453.60,104.31 L454.10,106.18 L454.60,106.91 L455.10,108.18 L455.60,110.47 L456.10,108.85 L456.60,110.13 L457.10,111.72 L457.60,114.25 L458.10,114.19 L458.60,113.98 L459.10,114.33 L459.60,115.02 L460.10,116.40 L460.60,115.52 L461.10,116.43 L461.60,116.68 L462.10,117.04 L462.60,117.84 L463.10,117.56 L463.60,118.17 L464.10,118.19 L464.60,118.47 L465.10,118.29 L465.60,118.66 L466.10,118.51 L466.60,118.73 L467.10,118.89 L467.60,119.11 L468.10,119.24 L468.60,119.16 L469.10,119.29 L469.60,119.45" fill="none" stroke="#151515" stroke-width="1.15" stroke-dasharray="2 1.1" stroke-linejoin="round"/>
<path d="M409.80,116.37 L410.30,117.41 L410.80,117.45 L411.30,118.00 L411.80,117.28 L412.30,117.45 L412.80,118.14 L413.30,118.15 L413.80,117.70 L414.30,117.99 L414.80,117.48 L415.30,117.79 L415.80,116.63 L416.30,116.52 L416.80,117.43 L417.30,116.21 L417.80,115.75 L418.30,116.67 L418.80,116.11 L419.30,114.78 L419.80,115.59 L420.30,115.76 L420.80,114.19 L421.30,115.07 L421.80,112.75 L422.30,112.71 L422.80,111.01 L423.30,110.66 L423.80,110.70 L424.30,110.24 L424.80,111.51 L425.30,107.78 L425.80,108.64 L426.30,104.58 L426.80,104.57 L427.30,102.37 L427.80,102.49 L428.30,97.49 L428.80,96.26 L429.30,93.73 L429.80,91.33 L430.30,88.09 L430.80,89.57 L431.30,86.28 L431.80,85.13 L432.30,81.06 L432.80,80.28 L433.30,82.05 L433.80,80.30 L434.30,72.93 L434.80,79.84 L435.30,73.70 L435.80,77.65 L436.30,70.11 L436.80,71.37 L437.30,66.14 L437.80,62.70 L438.30,71.71 L438.80,64.38 L439.30,64.74 L439.80,61.02 L440.30,62.29 L440.80,68.90 L441.30,62.61 L441.80,69.90 L442.30,68.89 L442.80,67.49 L443.30,71.85 L443.80,67.96 L444.30,67.11 L444.80,73.87 L445.30,73.33 L445.80,76.04 L446.30,71.32 L446.80,74.54 L447.30,71.51 L447.80,78.23 L448.30,75.90 L448.80,80.04 L449.30,83.85 L449.80,82.44 L450.30,82.29 L450.80,83.68 L451.30,84.60 L451.80,86.47 L452.30,91.13 L452.80,94.76 L453.30,91.61 L453.80,94.08 L454.30,99.29 L454.80,95.08 L455.30,101.00 L455.80,97.75 L456.30,101.10 L456.80,104.92 L457.30,103.88 L457.80,104.77 L458.30,105.81 L458.80,104.53 L459.30,108.47 L459.80,107.96 L460.30,110.46 L460.80,109.82 L461.30,107.55 L461.80,108.85 L462.30,111.85 L462.80,111.92 L463.30,110.79 L463.80,112.34 L464.30,113.65 L464.80,113.46 L465.30,113.34 L465.80,114.29 L466.30,112.69 L466.80,113.81 L467.30,112.39 L467.80,114.05 L468.30,111.05 L468.80,112.38 L469.30,112.88 L469.80,113.66 L470.30,112.32 L470.80,113.09 L471.30,113.90 L471.80,111.59 L472.30,108.94 L472.80,111.18 L473.30,111.09 L473.80,109.75 L474.30,109.70 L474.80,107.68 L475.30,108.75 L475.80,110.47 L476.30,110.45 L476.80,107.83 L477.30,109.14 L477.80,107.01 L478.30,108.94 L478.80,108.72 L479.30,109.69 L479.80,109.06 L480.30,108.78 L480.80,110.55 L481.30,111.81 L481.80,112.28 L482.30,109.65 L482.80,112.06 L483.30,112.38 L483.80,112.00 L484.30,114.74 L484.80,112.62 L485.30,115.26 L485.80,113.46 L486.30,115.21 L486.80,114.29 L487.30,114.69 L487.80,116.02 L488.30,116.96 L488.80,116.05 L489.30,116.58 L489.80,117.03 L490.30,117.51 L490.80,117.44 L491.30,117.68 L491.80,118.36 L492.30,118.09 L492.80,117.94 L493.30,118.44 L493.80,118.66 L494.30,118.22 L494.80,117.95 L495.30,118.28 L495.80,118.81 L496.30,118.37 L496.80,118.47 L497.30,118.91 L497.80,118.57 L498.30,119.04 L498.80,118.74 L499.30,118.84 L499.80,118.95 L500.30,118.71 L500.80,119.05 L501.30,118.88 L501.80,119.05 L502.30,119.05 L502.80,118.71 L503.30,119.09 L503.80,119.09 L504.30,118.80 L504.80,118.98 L505.30,118.79 L505.80,118.96 L506.30,119.07 L506.80,118.89 L507.30,118.97 L507.80,118.78 L508.30,119.14 L508.80,119.03 L509.30,119.13 L509.80,118.78 L510.30,119.10 L510.80,118.79 L511.30,119.01 L511.80,118.87 L512.30,119.18 L512.80,118.81 L513.30,118.98 L513.80,118.99" fill="none" stroke="#d81818" stroke-width="1.35" stroke-linejoin="round"/>
<rect x="288.00" y="41.50" width="104.00" height="78.30" fill="none" stroke="#555" stroke-width="1" />
<line x1="286.50" y1="41.50" x2="288.00" y2="41.50" stroke="#888" stroke-width="0.6" />
<line x1="286.50" y1="48.02" x2="288.00" y2="48.02" stroke="#888" stroke-width="0.6" />
<line x1="286.50" y1="54.55" x2="288.00" y2="54.55" stroke="#888" stroke-width="0.6" />
<line x1="286.50" y1="61.08" x2="288.00" y2="61.08" stroke="#888" stroke-width="0.6" />
<line x1="286.50" y1="67.60" x2="288.00" y2="67.60" stroke="#888" stroke-width="0.6" />
<line x1="286.50" y1="74.12" x2="288.00" y2="74.12" stroke="#888" stroke-width="0.6" />
<line x1="286.50" y1="80.65" x2="288.00" y2="80.65" stroke="#888" stroke-width="0.6" />
<line x1="286.50" y1="87.18" x2="288.00" y2="87.18" stroke="#888" stroke-width="0.6" />
<line x1="286.50" y1="93.70" x2="288.00" y2="93.70" stroke="#888" stroke-width="0.6" />
<line x1="286.50" y1="100.22" x2="288.00" y2="100.22" stroke="#888" stroke-width="0.6" />
<line x1="286.50" y1="106.75" x2="288.00" y2="106.75" stroke="#888" stroke-width="0.6" />
<line x1="286.50" y1="113.27" x2="288.00" y2="113.27" stroke="#888" stroke-width="0.6" />
<line x1="286.50" y1="119.80" x2="288.00" y2="119.80" stroke="#888" stroke-width="0.6" />
<text x="286.00" y="47.00" font-size="5.6" fill="#333" transform="rotate(-90 286.00 47.00)" >120</text>
<text x="286.00" y="121.60" font-size="5.6" fill="#333" transform="rotate(-90 286.00 121.60)" >0</text>
<text x="287.20" y="128.90" font-size="6.6" fill="#2a2a2a" >10</text>
<text x="294.60" y="125.50" font-size="3.9" fill="#2a2a2a" >0</text>
<line x1="288.00" y1="119.80" x2="288.00" y2="121.30" stroke="#2a2a2a" stroke-width="0.5" />
<text x="338.00" y="128.90" font-size="6.6" fill="#2a2a2a" >10</text>
<text x="345.40" y="125.50" font-size="3.9" fill="#2a2a2a" >1</text>
<line x1="340.00" y1="119.80" x2="340.00" y2="121.30" stroke="#2a2a2a" stroke-width="0.5" />
<text x="382.10" y="128.90" font-size="6.6" fill="#2a2a2a" >10</text>
<text x="389.50" y="125.50" font-size="3.9" fill="#2a2a2a" >2</text>
<line x1="392.00" y1="119.80" x2="392.00" y2="121.30" stroke="#2a2a2a" stroke-width="0.5" />
<rect x="410.00" y="41.50" width="105.00" height="78.30" fill="none" stroke="#555" stroke-width="1" />
<line x1="408.50" y1="41.50" x2="410.00" y2="41.50" stroke="#888" stroke-width="0.6" />
<line x1="408.50" y1="48.02" x2="410.00" y2="48.02" stroke="#888" stroke-width="0.6" />
<line x1="408.50" y1="54.55" x2="410.00" y2="54.55" stroke="#888" stroke-width="0.6" />
<line x1="408.50" y1="61.08" x2="410.00" y2="61.08" stroke="#888" stroke-width="0.6" />
<line x1="408.50" y1="67.60" x2="410.00" y2="67.60" stroke="#888" stroke-width="0.6" />
<line x1="408.50" y1="74.12" x2="410.00" y2="74.12" stroke="#888" stroke-width="0.6" />
<line x1="408.50" y1="80.65" x2="410.00" y2="80.65" stroke="#888" stroke-width="0.6" />
<line x1="408.50" y1="87.18" x2="410.00" y2="87.18" stroke="#888" stroke-width="0.6" />
<line x1="408.50" y1="93.70" x2="410.00" y2="93.70" stroke="#888" stroke-width="0.6" />
<line x1="408.50" y1="100.22" x2="410.00" y2="100.22" stroke="#888" stroke-width="0.6" />
<line x1="408.50" y1="106.75" x2="410.00" y2="106.75" stroke="#888" stroke-width="0.6" />
<line x1="408.50" y1="113.27" x2="410.00" y2="113.27" stroke="#888" stroke-width="0.6" />
<line x1="408.50" y1="119.80" x2="410.00" y2="119.80" stroke="#888" stroke-width="0.6" />
<text x="408.00" y="47.00" font-size="5.6" fill="#333" transform="rotate(-90 408.00 47.00)" >120</text>
<text x="408.00" y="121.60" font-size="5.6" fill="#333" transform="rotate(-90 408.00 121.60)" >0</text>
<text x="409.80" y="128.90" font-size="6.6" fill="#2a2a2a" >10</text>
<text x="417.20" y="125.50" font-size="3.9" fill="#2a2a2a" >0</text>
<line x1="410.00" y1="119.80" x2="410.00" y2="121.30" stroke="#2a2a2a" stroke-width="0.5" />
<text x="456.50" y="128.90" font-size="6.6" fill="#2a2a2a" >10</text>
<text x="463.90" y="125.50" font-size="3.9" fill="#2a2a2a" >1</text>
<line x1="462.50" y1="119.80" x2="462.50" y2="121.30" stroke="#2a2a2a" stroke-width="0.5" />
<text x="505.00" y="128.90" font-size="6.6" fill="#2a2a2a" >10</text>
<text x="512.40" y="125.50" font-size="3.9" fill="#2a2a2a" >2</text>
<line x1="515.00" y1="119.80" x2="515.00" y2="121.30" stroke="#2a2a2a" stroke-width="0.5" />
<text x="362.30" y="58.80" font-size="9.6" fill="#1a1a1a" textLength="16.60" lengthAdjust="spacingAndGlyphs" stroke="#1a1a1a" stroke-width="0.22">MFI</text>
<text x="485.60" y="57.90" font-size="9.6" fill="#1a1a1a" textLength="16.60" lengthAdjust="spacingAndGlyphs" stroke="#1a1a1a" stroke-width="0.22">MFI</text>
<text x="352.40" y="70.50" font-size="9.6" fill="#4a4a4a" textLength="36.40" lengthAdjust="spacingAndGlyphs" stroke="#4a4a4a" stroke-width="0.22">2.9+/-0.5</text>
<text x="354.20" y="82.10" font-size="9.6" fill="#c82020" textLength="33.50" lengthAdjust="spacingAndGlyphs" stroke="#c82020" stroke-width="0.22">17.4+/-2</text>
<text x="479.30" y="69.60" font-size="9.6" fill="#4a4a4a" textLength="28.70" lengthAdjust="spacingAndGlyphs" stroke="#4a4a4a" stroke-width="0.22">3.7+/-1</text>
<text x="474.80" y="80.90" font-size="9.6" fill="#c82020" textLength="37.70" lengthAdjust="spacingAndGlyphs" stroke="#c82020" stroke-width="0.22">6.4+/-2.5</text>
<line x1="290.00" y1="136.20" x2="515.00" y2="136.20" stroke="#000" stroke-width="1.8" />
<rect x="374.20" y="131.00" width="55.20" height="11.00" fill="#fff" stroke="none" stroke-width="1" />
<text x="374.60" y="139.80" font-size="9.8" fill="#000" textLength="54.30" lengthAdjust="spacingAndGlyphs" stroke="#000" stroke-width="0.22">A488-GzmB</text>
<text x="0.20" y="167.20" font-size="14" fill="#000" font-weight="bold" >C</text>
<path d="M21.00,254.09 L21.50,253.85 L22.00,253.34 L22.50,251.44 L23.00,249.02 L23.50,247.32 L24.00,245.51 L24.50,247.48 L25.00,243.18 L25.50,241.20 L26.00,240.12 L26.50,240.85 L27.00,237.05 L27.50,236.57 L28.00,235.99 L28.50,233.77 L29.00,228.88 L29.50,230.76 L30.00,224.53 L30.50,226.14 L31.00,221.03 L31.50,222.51 L32.00,217.81 L32.50,214.97 L33.00,212.86 L33.50,206.34 L34.00,206.39 L34.50,206.48 L35.00,199.75 L35.50,198.93 L36.00,194.64 L36.50,194.45 L37.00,189.76 L37.50,185.14 L38.00,185.43 L38.50,185.80 L39.00,184.00 L39.50,185.71 L40.00,184.00 L40.50,184.00 L41.00,184.84 L41.50,186.14 L42.00,184.00 L42.50,184.00 L43.00,187.15 L43.50,185.82 L44.00,187.63 L44.50,191.66 L45.00,194.38 L45.50,200.94 L46.00,205.07 L46.50,201.09 L47.00,204.70 L47.50,213.21 L48.00,213.13 L48.50,218.61 L49.00,221.06 L49.50,223.67 L50.00,228.08 L50.50,229.52 L51.00,234.19 L51.50,237.00 L52.00,237.70 L52.50,241.47 L53.00,245.21 L53.50,244.40 L54.00,246.04 L54.50,249.36 L55.00,246.70 L55.50,248.93 L56.00,251.38 L56.50,253.22 L57.00,252.65 L57.50,254.36 L58.00,253.83 L58.50,254.95 L59.00,253.75 L59.50,256.22 L60.00,254.31 L60.50,256.09 L61.00,255.97 L61.50,257.13 L62.00,256.40 L62.50,257.73 L63.00,256.68 L63.50,257.75 L64.00,257.84 L64.50,257.79 L65.00,257.67 L65.50,258.09 L66.00,258.36 L66.50,258.41 L67.00,258.57 L67.50,259.06 L68.00,259.02 L68.50,258.94 L69.00,259.13 L69.50,259.18 L70.00,259.07 L70.50,259.28 L71.00,259.35 L71.50,259.32 L72.00,259.44 L72.50,259.59 L73.00,259.62 L73.50,259.65 L74.00,259.72 L74.50,259.77 L75.00,259.80 L75.00,259.80 L21.00,259.80 Z" fill="#cecece" stroke="none"/>
<path d="M21.00,254.09 L21.50,253.85 L22.00,253.34 L22.50,251.44 L23.00,249.02 L23.50,247.32 L24.00,245.51 L24.50,247.48 L25.00,243.18 L25.50,241.20 L26.00,240.12 L26.50,240.85 L27.00,237.05 L27.50,236.57 L28.00,235.99 L28.50,233.77 L29.00,228.88 L29.50,230.76 L30.00,224.53 L30.50,226.14 L31.00,221.03 L31.50,222.51 L32.00,217.81 L32.50,214.97 L33.00,212.86 L33.50,206.34 L34.00,206.39 L34.50,206.48 L35.00,199.75 L35.50,198.93 L36.00,194.64 L36.50,194.45 L37.00,189.76 L37.50,185.14 L38.00,185.43 L38.50,185.80 L39.00,184.00 L39.50,185.71 L40.00,184.00 L40.50,184.00 L41.00,184.84 L41.50,186.14 L42.00,184.00 L42.50,184.00 L43.00,187.15 L43.50,185.82 L44.00,187.63 L44.50,191.66 L45.00,194.38 L45.50,200.94 L46.00,205.07 L46.50,201.09 L47.00,204.70 L47.50,213.21 L48.00,213.13 L48.50,218.61 L49.00,221.06 L49.50,223.67 L50.00,228.08 L50.50,229.52 L51.00,234.19 L51.50,237.00 L52.00,237.70 L52.50,241.47 L53.00,245.21 L53.50,244.40 L54.00,246.04 L54.50,249.36 L55.00,246.70 L55.50,248.93 L56.00,251.38 L56.50,253.22 L57.00,252.65 L57.50,254.36 L58.00,253.83 L58.50,254.95 L59.00,253.75 L59.50,256.22 L60.00,254.31 L60.50,256.09 L61.00,255.97 L61.50,257.13 L62.00,256.40 L62.50,257.73 L63.00,256.68 L63.50,257.75 L64.00,257.84 L64.50,257.79 L65.00,257.67 L65.50,258.09 L66.00,258.36 L66.50,258.41 L67.00,258.57 L67.50,259.06 L68.00,259.02 L68.50,258.94 L69.00,259.13 L69.50,259.18 L70.00,259.07 L70.50,259.28 L71.00,259.35 L71.50,259.32 L72.00,259.44 L72.50,259.59 L73.00,259.62 L73.50,259.65 L74.00,259.72 L74.50,259.77 L75.00,259.80" fill="none" stroke="#151515" stroke-width="1.15" stroke-dasharray="2 1.1" stroke-linejoin="round"/>
<path d="M21.00,244.25 L21.50,249.96 L22.00,253.53 L22.50,251.53 L23.00,253.35 L23.50,251.81 L24.00,250.77 L24.50,251.67 L25.00,252.23 L25.50,250.68 L26.00,253.73 L26.50,250.16 L27.00,247.86 L27.50,249.45 L28.00,247.65 L28.50,243.27 L29.00,244.09 L29.50,242.59 L30.00,239.68 L30.50,241.51 L31.00,240.27 L31.50,236.32 L32.00,235.77 L32.50,233.63 L33.00,234.81 L33.50,233.62 L34.00,227.53 L34.50,228.70 L35.00,221.47 L35.50,223.25 L36.00,216.86 L36.50,212.12 L37.00,214.08 L37.50,209.64 L38.00,208.74 L38.50,215.90 L39.00,210.57 L39.50,200.14 L40.00,211.96 L40.50,203.01 L41.00,199.96 L41.50,201.09 L42.00,202.71 L42.50,195.67 L43.00,210.64 L43.50,201.23 L44.00,199.98 L44.50,205.97 L45.00,209.20 L45.50,210.26 L46.00,210.82 L46.50,211.35 L47.00,216.07 L47.50,207.93 L48.00,207.27 L48.50,206.85 L49.00,208.82 L49.50,215.44 L50.00,214.16 L50.50,210.49 L51.00,207.82 L51.50,208.65 L52.00,211.62 L52.50,205.11 L53.00,213.15 L53.50,213.69 L54.00,203.11 L54.50,210.38 L55.00,207.91 L55.50,210.44 L56.00,206.68 L56.50,212.52 L57.00,206.99 L57.50,207.67 L58.00,215.15 L58.50,212.51 L59.00,210.69 L59.50,212.76 L60.00,211.30 L60.50,218.47 L61.00,216.04 L61.50,220.87 L62.00,221.20 L62.50,222.39 L63.00,228.08 L63.50,227.04 L64.00,231.28 L64.50,224.42 L65.00,235.58 L65.50,234.20 L66.00,235.51 L66.50,240.36 L67.00,242.40 L67.50,242.09 L68.00,243.81 L68.50,245.37 L69.00,246.16 L69.50,246.42 L70.00,250.85 L70.50,255.06 L71.00,255.91 L71.50,256.42 L72.00,256.23 L72.50,255.57 L73.00,256.68 L73.50,256.77 L74.00,257.55 L74.50,258.65 L75.00,258.28 L75.50,258.61 L76.00,258.40 L76.50,258.26 L77.00,258.80 L77.50,258.61 L78.00,258.38 L78.50,258.53 L79.00,258.82 L79.50,259.06 L80.00,258.48 L80.50,258.57 L81.00,259.02 L81.50,258.83 L82.00,258.79 L82.50,259.24 L83.00,259.07 L83.50,258.81 L84.00,259.27 L84.50,258.98 L85.00,258.74 L85.50,258.75 L86.00,258.83 L86.50,259.26 L87.00,259.14 L87.50,259.20 L88.00,259.15 L88.50,259.20 L89.00,258.97 L89.50,259.02 L90.00,259.05 L90.50,259.21 L91.00,259.02 L91.50,259.24 L92.00,258.96 L92.50,259.10 L93.00,259.15 L93.50,258.92 L94.00,258.93 L94.50,259.22 L95.00,258.99 L95.50,259.14 L96.00,259.37 L96.50,259.24 L97.00,259.26 L97.50,259.25 L98.00,259.10 L98.50,259.07 L99.00,259.12 L99.50,259.09 L100.00,259.11 L100.50,259.25 L101.00,259.28 L101.50,259.36 L102.00,259.30 L102.50,259.13 L103.00,259.25 L103.50,259.25 L104.00,259.18 L104.50,259.49 L105.00,259.22 L105.50,259.41 L106.00,259.23 L106.50,259.35 L107.00,259.26 L107.50,259.51 L108.00,259.44 L108.50,259.49 L109.00,259.55 L109.50,259.34 L110.00,259.38 L110.50,259.42 L111.00,259.48 L111.50,259.53 L112.00,259.44 L112.50,259.41 L113.00,259.54 L113.50,259.37 L114.00,259.46 L114.50,259.37 L115.00,259.49 L115.50,259.45 L116.00,259.36 L116.50,259.55 L117.00,259.59 L117.50,259.48 L118.00,259.38 L118.50,259.60 L119.00,259.46" fill="none" stroke="#d01616" stroke-width="1.35" stroke-linejoin="round"/>
<line x1="20.50" y1="183.50" x2="120.50" y2="183.50" stroke="#a8a8a8" stroke-width="1" />
<line x1="120.50" y1="183.50" x2="120.50" y2="259.80" stroke="#a8a8a8" stroke-width="1" />
<line x1="20.50" y1="183.50" x2="20.50" y2="259.80" stroke="#8a8a8a" stroke-width="1" />
<line x1="20.00" y1="259.80" x2="121.00" y2="259.80" stroke="#5a5a5a" stroke-width="1.2" />
<line x1="19.00" y1="183.50" x2="20.50" y2="183.50" stroke="#999" stroke-width="0.6" />
<line x1="19.00" y1="191.13" x2="20.50" y2="191.13" stroke="#999" stroke-width="0.6" />
<line x1="19.00" y1="198.76" x2="20.50" y2="198.76" stroke="#999" stroke-width="0.6" />
<line x1="19.00" y1="206.39" x2="20.50" y2="206.39" stroke="#999" stroke-width="0.6" />
<line x1="19.00" y1="214.02" x2="20.50" y2="214.02" stroke="#999" stroke-width="0.6" />
<line x1="19.00" y1="221.65" x2="20.50" y2="221.65" stroke="#999" stroke-width="0.6" />
<line x1="19.00" y1="229.28" x2="20.50" y2="229.28" stroke="#999" stroke-width="0.6" />
<line x1="19.00" y1="236.91" x2="20.50" y2="236.91" stroke="#999" stroke-width="0.6" />
<line x1="19.00" y1="244.54" x2="20.50" y2="244.54" stroke="#999" stroke-width="0.6" />
<line x1="19.00" y1="252.17" x2="20.50" y2="252.17" stroke="#999" stroke-width="0.6" />
<line x1="19.00" y1="259.80" x2="20.50" y2="259.80" stroke="#999" stroke-width="0.6" />
<text x="17.90" y="189.50" font-size="5.6" fill="#333" transform="rotate(-90 17.90 189.50)" >100</text>
<text x="17.30" y="261.60" font-size="5.6" fill="#333" transform="rotate(-90 17.30 261.60)" >0</text>
<text x="17.70" y="268.40" font-size="6.6" fill="#2a2a2a" >10</text>
<text x="25.10" y="265.00" font-size="3.9" fill="#2a2a2a" >0</text>
<line x1="20.50" y1="259.80" x2="20.50" y2="261.30" stroke="#2a2a2a" stroke-width="0.5" />
<text x="65.90" y="268.40" font-size="6.6" fill="#2a2a2a" >10</text>
<text x="73.30" y="265.00" font-size="3.9" fill="#2a2a2a" >1</text>
<line x1="70.50" y1="259.80" x2="70.50" y2="261.30" stroke="#2a2a2a" stroke-width="0.5" />
<text x="111.50" y="268.40" font-size="6.6" fill="#2a2a2a" >10</text>
<text x="118.90" y="265.00" font-size="3.9" fill="#2a2a2a" >2</text>
<line x1="120.50" y1="259.80" x2="120.50" y2="261.30" stroke="#2a2a2a" stroke-width="0.5" />
<text x="80.50" y="194.60" font-size="9.0" fill="#222" textLength="37.10" lengthAdjust="spacingAndGlyphs" stroke="#222" stroke-width="0.22">Ctrl siRNA</text>
<text x="90.10" y="214.40" font-size="9.4" fill="#111" font-weight="bold" textLength="16.70" lengthAdjust="spacingAndGlyphs" >MFI</text>
<text x="84.00" y="225.80" font-size="9.4" fill="#333" textLength="28.90" lengthAdjust="spacingAndGlyphs" stroke="#333" stroke-width="0.22">3+/-0.5</text>
<text x="82.60" y="238.00" font-size="9.4" fill="#cc2020" textLength="32.60" lengthAdjust="spacingAndGlyphs" stroke="#cc2020" stroke-width="0.22">16+/-1.5</text>
<path d="M21.60,343.78 L22.10,342.11 L22.60,343.28 L23.10,341.98 L23.60,339.29 L24.10,337.53 L24.60,337.18 L25.10,336.01 L25.60,334.32 L26.10,333.07 L26.60,332.88 L27.10,331.61 L27.60,331.12 L28.10,330.43 L28.60,327.69 L29.10,328.55 L29.60,327.59 L30.10,323.07 L30.60,321.14 L31.10,317.16 L31.60,318.54 L32.10,314.60 L32.60,313.33 L33.10,310.96 L33.60,309.89 L34.10,311.49 L34.60,307.12 L35.10,305.66 L35.60,306.53 L36.10,305.02 L36.60,301.26 L37.10,296.35 L37.60,301.12 L38.10,297.93 L38.60,294.38 L39.10,292.96 L39.60,285.46 L40.10,289.85 L40.60,289.58 L41.10,288.02 L41.60,286.78 L42.10,276.78 L42.60,280.13 L43.10,272.00 L43.60,274.88 L44.10,272.00 L44.60,272.00 L45.10,278.21 L45.60,272.00 L46.10,279.11 L46.60,282.59 L47.10,280.70 L47.60,277.97 L48.10,282.41 L48.60,281.81 L49.10,285.99 L49.60,283.94 L50.10,282.16 L50.60,284.47 L51.10,289.21 L51.60,295.15 L52.10,300.27 L52.60,302.20 L53.10,304.61 L53.60,304.31 L54.10,308.98 L54.60,314.20 L55.10,313.97 L55.60,314.02 L56.10,321.98 L56.60,321.94 L57.10,323.58 L57.60,328.30 L58.10,327.11 L58.60,328.89 L59.10,330.47 L59.60,333.06 L60.10,335.31 L60.60,334.07 L61.10,335.72 L61.60,337.84 L62.10,338.97 L62.60,339.63 L63.10,340.57 L63.60,340.60 L64.10,341.11 L64.60,341.97 L65.10,342.66 L65.60,344.29 L66.10,342.95 L66.60,343.44 L67.10,343.62 L67.60,343.85 L68.10,345.08 L68.60,345.11 L69.10,345.47 L69.60,345.98 L70.10,345.69 L70.60,345.51 L71.10,345.84 L71.60,346.22 L72.10,346.43 L72.60,346.63 L73.10,346.41 L73.60,346.32 L74.10,346.64 L74.60,346.93 L75.10,346.72 L75.60,347.10 L76.10,347.17 L76.60,347.16 L77.10,347.24 L77.60,347.28 L78.10,347.39 L78.60,347.49 L79.10,347.61 L79.60,347.67 L79.60,347.70 L21.60,347.70 Z" fill="#cecece" stroke="none"/>
<path d="M21.60,343.78 L22.10,342.11 L22.60,343.28 L23.10,341.98 L23.60,339.29 L24.10,337.53 L24.60,337.18 L25.10,336.01 L25.60,334.32 L26.10,333.07 L26.60,332.88 L27.10,331.61 L27.60,331.12 L28.10,330.43 L28.60,327.69 L29.10,328.55 L29.60,327.59 L30.10,323.07 L30.60,321.14 L31.10,317.16 L31.60,318.54 L32.10,314.60 L32.60,313.33 L33.10,310.96 L33.60,309.89 L34.10,311.49 L34.60,307.12 L35.10,305.66 L35.60,306.53 L36.10,305.02 L36.60,301.26 L37.10,296.35 L37.60,301.12 L38.10,297.93 L38.60,294.38 L39.10,292.96 L39.60,285.46 L40.10,289.85 L40.60,289.58 L41.10,288.02 L41.60,286.78 L42.10,276.78 L42.60,280.13 L43.10,272.00 L43.60,274.88 L44.10,272.00 L44.60,272.00 L45.10,278.21 L45.60,272.00 L46.10,279.11 L46.60,282.59 L47.10,280.70 L47.60,277.97 L48.10,282.41 L48.60,281.81 L49.10,285.99 L49.60,283.94 L50.10,282.16 L50.60,284.47 L51.10,289.21 L51.60,295.15 L52.10,300.27 L52.60,302.20 L53.10,304.61 L53.60,304.31 L54.10,308.98 L54.60,314.20 L55.10,313.97 L55.60,314.02 L56.10,321.98 L56.60,321.94 L57.10,323.58 L57.60,328.30 L58.10,327.11 L58.60,328.89 L59.10,330.47 L59.60,333.06 L60.10,335.31 L60.60,334.07 L61.10,335.72 L61.60,337.84 L62.10,338.97 L62.60,339.63 L63.10,340.57 L63.60,340.60 L64.10,341.11 L64.60,341.97 L65.10,342.66 L65.60,344.29 L66.10,342.95 L66.60,343.44 L67.10,343.62 L67.60,343.85 L68.10,345.08 L68.60,345.11 L69.10,345.47 L69.60,345.98 L70.10,345.69 L70.60,345.51 L71.10,345.84 L71.60,346.22 L72.10,346.43 L72.60,346.63 L73.10,346.41 L73.60,346.32 L74.10,346.64 L74.60,346.93 L75.10,346.72 L75.60,347.10 L76.10,347.17 L76.60,347.16 L77.10,347.24 L77.60,347.28 L78.10,347.39 L78.60,347.49 L79.10,347.61 L79.60,347.67" fill="none" stroke="#151515" stroke-width="1.15" stroke-dasharray="2 1.1" stroke-linejoin="round"/>
<path d="M21.60,337.89 L22.10,337.74 L22.60,340.10 L23.10,337.85 L23.60,336.97 L24.10,337.24 L24.60,336.51 L25.10,335.53 L25.60,335.38 L26.10,331.88 L26.60,330.35 L27.10,332.07 L27.60,326.38 L28.10,325.71 L28.60,327.19 L29.10,328.79 L29.60,327.22 L30.10,321.79 L30.60,323.41 L31.10,324.48 L31.60,319.50 L32.10,318.26 L32.60,314.00 L33.10,319.88 L33.60,315.86 L34.10,314.77 L34.60,313.56 L35.10,306.77 L35.60,310.09 L36.10,306.80 L36.60,302.56 L37.10,307.25 L37.60,304.61 L38.10,294.70 L38.60,295.10 L39.10,295.24 L39.60,297.90 L40.10,295.97 L40.60,296.89 L41.10,286.43 L41.60,284.23 L42.10,292.01 L42.60,275.86 L43.10,289.18 L43.60,282.00 L44.10,283.54 L44.60,280.10 L45.10,288.03 L45.60,291.27 L46.10,286.68 L46.60,282.41 L47.10,280.07 L47.60,286.21 L48.10,286.35 L48.60,281.64 L49.10,287.55 L49.60,289.49 L50.10,276.31 L50.60,286.34 L51.10,287.01 L51.60,290.22 L52.10,290.37 L52.60,292.64 L53.10,286.71 L53.60,294.64 L54.10,291.48 L54.60,291.81 L55.10,290.91 L55.60,298.73 L56.10,294.93 L56.60,299.59 L57.10,299.82 L57.60,302.98 L58.10,306.38 L58.60,313.47 L59.10,312.67 L59.60,314.65 L60.10,314.35 L60.60,314.39 L61.10,316.94 L61.60,319.10 L62.10,324.55 L62.60,323.20 L63.10,328.52 L63.60,327.54 L64.10,327.08 L64.60,333.90 L65.10,333.39 L65.60,336.28 L66.10,334.74 L66.60,336.06 L67.10,336.80 L67.60,339.90 L68.10,341.22 L68.60,343.32 L69.10,343.43 L69.60,342.64 L70.10,342.50 L70.60,344.15 L71.10,344.84 L71.60,344.68 L72.10,344.09 L72.60,345.35 L73.10,345.72 L73.60,345.46 L74.10,346.16 L74.60,346.30 L75.10,346.74 L75.60,345.67 L76.10,346.75 L76.60,346.51 L77.10,345.88 L77.60,345.95 L78.10,346.20 L78.60,346.48 L79.10,346.48 L79.60,346.35 L80.10,346.80 L80.60,346.52 L81.10,346.62 L81.60,346.75 L82.10,346.89 L82.60,346.37 L83.10,346.35 L83.60,346.69 L84.10,346.99 L84.60,347.06 L85.10,346.84 L85.60,346.62 L86.10,346.97 L86.60,347.12 L87.10,347.08 L87.60,346.76 L88.10,346.71 L88.60,346.97 L89.10,346.86 L89.60,346.91 L90.10,347.14 L90.60,347.16 L91.10,347.06 L91.60,347.24 L92.10,347.14 L92.60,346.86 L93.10,346.99 L93.60,346.95 L94.10,347.30 L94.60,347.03 L95.10,346.97 L95.60,347.25 L96.10,347.31 L96.60,347.04 L97.10,347.01 L97.60,347.04 L98.10,346.93 L98.60,347.20 L99.10,346.94 L99.60,347.37 L100.10,347.30 L100.60,347.13 L101.10,347.22 L101.60,347.33 L102.10,347.06 L102.60,347.29 L103.10,347.36 L103.60,347.25 L104.10,347.38 L104.60,347.18 L105.10,347.11 L105.60,347.20 L106.10,347.45 L106.60,347.26 L107.10,347.26 L107.60,347.20 L108.10,347.31 L108.60,347.28 L109.10,347.35 L109.60,347.24 L110.10,347.28 L110.60,347.27 L111.10,347.50 L111.60,347.47 L112.10,347.35 L112.60,347.38 L113.10,347.37 L113.60,347.43 L114.10,347.45 L114.60,347.49 L115.10,347.48 L115.60,347.38 L116.10,347.49 L116.60,347.39 L117.10,347.47 L117.60,347.41 L118.10,347.47 L118.60,347.44" fill="none" stroke="#d01616" stroke-width="1.35" stroke-linejoin="round"/>
<line x1="21.00" y1="271.50" x2="120.50" y2="271.50" stroke="#a8a8a8" stroke-width="1" />
<line x1="120.50" y1="271.50" x2="120.50" y2="347.70" stroke="#a8a8a8" stroke-width="1" />
<line x1="21.00" y1="271.50" x2="21.00" y2="347.70" stroke="#8a8a8a" stroke-width="1" />
<line x1="20.50" y1="347.70" x2="121.00" y2="347.70" stroke="#5a5a5a" stroke-width="1.2" />
<line x1="19.50" y1="271.50" x2="21.00" y2="271.50" stroke="#999" stroke-width="0.6" />
<line x1="19.50" y1="279.12" x2="21.00" y2="279.12" stroke="#999" stroke-width="0.6" />
<line x1="19.50" y1="286.74" x2="21.00" y2="286.74" stroke="#999" stroke-width="0.6" />
<line x1="19.50" y1="294.36" x2="21.00" y2="294.36" stroke="#999" stroke-width="0.6" />
<line x1="19.50" y1="301.98" x2="21.00" y2="301.98" stroke="#999" stroke-width="0.6" />
<line x1="19.50" y1="309.60" x2="21.00" y2="309.60" stroke="#999" stroke-width="0.6" />
<line x1="19.50" y1="317.22" x2="21.00" y2="317.22" stroke="#999" stroke-width="0.6" />
<line x1="19.50" y1="324.84" x2="21.00" y2="324.84" stroke="#999" stroke-width="0.6" />
<line x1="19.50" y1="332.46" x2="21.00" y2="332.46" stroke="#999" stroke-width="0.6" />
<line x1="19.50" y1="340.08" x2="21.00" y2="340.08" stroke="#999" stroke-width="0.6" />
<line x1="19.50" y1="347.70" x2="21.00" y2="347.70" stroke="#999" stroke-width="0.6" />
<text x="18.40" y="277.50" font-size="5.6" fill="#333" transform="rotate(-90 18.40 277.50)" >100</text>
<text x="17.80" y="349.50" font-size="5.6" fill="#333" transform="rotate(-90 17.80 349.50)" >0</text>
<text x="18.20" y="356.30" font-size="6.6" fill="#2a2a2a" >10</text>
<text x="25.60" y="352.90" font-size="3.9" fill="#2a2a2a" >0</text>
<line x1="21.00" y1="347.70" x2="21.00" y2="349.20" stroke="#2a2a2a" stroke-width="0.5" />
<text x="66.15" y="356.30" font-size="6.6" fill="#2a2a2a" >10</text>
<text x="73.55" y="352.90" font-size="3.9" fill="#2a2a2a" >1</text>
<line x1="70.75" y1="347.70" x2="70.75" y2="349.20" stroke="#2a2a2a" stroke-width="0.5" />
<text x="111.50" y="356.30" font-size="6.6" fill="#2a2a2a" >10</text>
<text x="118.90" y="352.90" font-size="3.9" fill="#2a2a2a" >2</text>
<line x1="120.50" y1="347.70" x2="120.50" y2="349.20" stroke="#2a2a2a" stroke-width="0.5" />
<text x="73.90" y="282.60" font-size="9.0" fill="#222" textLength="43.70" lengthAdjust="spacingAndGlyphs" stroke="#222" stroke-width="0.22">Dyn2 siRNA</text>
<text x="89.60" y="305.00" font-size="9.4" fill="#111" font-weight="bold" textLength="16.30" lengthAdjust="spacingAndGlyphs" >MFI</text>
<text x="83.70" y="317.30" font-size="9.4" fill="#333" textLength="28.90" lengthAdjust="spacingAndGlyphs" stroke="#333" stroke-width="0.22">4+/-0.6</text>
<text x="84.00" y="329.00" font-size="9.4" fill="#cc2020" textLength="28.00" lengthAdjust="spacingAndGlyphs" stroke="#cc2020" stroke-width="0.22">5+/-1.1</text>
<path d="M134.00,341.52 L134.50,342.19 L135.00,339.74 L135.50,340.35 L136.00,338.00 L136.50,336.48 L137.00,337.05 L137.50,337.17 L138.00,333.86 L138.50,331.06 L139.00,331.49 L139.50,328.57 L140.00,325.98 L140.50,324.47 L141.00,325.85 L141.50,320.81 L142.00,323.13 L142.50,321.55 L143.00,317.62 L143.50,314.29 L144.00,314.97 L144.50,312.61 L145.00,311.63 L145.50,313.10 L146.00,309.59 L146.50,309.30 L147.00,304.60 L147.50,302.65 L148.00,301.15 L148.50,301.14 L149.00,296.75 L149.50,294.50 L150.00,295.18 L150.50,283.18 L151.00,289.38 L151.50,281.61 L152.00,286.32 L152.50,280.81 L153.00,277.19 L153.50,274.59 L154.00,272.00 L154.50,272.00 L155.00,272.00 L155.50,272.00 L156.00,272.00 L156.50,272.00 L157.00,277.56 L157.50,275.66 L158.00,279.90 L158.50,281.06 L159.00,274.87 L159.50,282.69 L160.00,283.88 L160.50,286.24 L161.00,280.38 L161.50,285.11 L162.00,292.09 L162.50,294.70 L163.00,296.23 L163.50,299.11 L164.00,300.10 L164.50,301.23 L165.00,305.73 L165.50,304.75 L166.00,307.30 L166.50,312.21 L167.00,308.20 L167.50,311.71 L168.00,309.67 L168.50,315.28 L169.00,321.40 L169.50,321.22 L170.00,324.56 L170.50,322.18 L171.00,326.05 L171.50,327.45 L172.00,331.50 L172.50,332.79 L173.00,332.52 L173.50,334.10 L174.00,337.14 L174.50,335.07 L175.00,339.62 L175.50,340.17 L176.00,339.30 L176.50,340.78 L177.00,341.40 L177.50,343.92 L178.00,342.71 L178.50,343.62 L179.00,343.22 L179.50,343.31 L180.00,344.68 L180.50,344.38 L181.00,344.95 L181.50,345.53 L182.00,345.11 L182.50,345.39 L183.00,346.21 L183.50,346.60 L184.00,345.88 L184.50,346.28 L185.00,346.73 L185.50,346.69 L186.00,346.86 L186.50,346.69 L187.00,347.01 L187.50,346.70 L188.00,347.00 L188.50,347.23 L189.00,347.20 L189.50,347.32 L190.00,347.42 L190.50,347.50 L191.00,347.61 L191.50,347.66 L192.00,347.70 L192.00,347.70 L134.00,347.70 Z" fill="#cecece" stroke="none"/>
<path d="M134.00,341.52 L134.50,342.19 L135.00,339.74 L135.50,340.35 L136.00,338.00 L136.50,336.48 L137.00,337.05 L137.50,337.17 L138.00,333.86 L138.50,331.06 L139.00,331.49 L139.50,328.57 L140.00,325.98 L140.50,324.47 L141.00,325.85 L141.50,320.81 L142.00,323.13 L142.50,321.55 L143.00,317.62 L143.50,314.29 L144.00,314.97 L144.50,312.61 L145.00,311.63 L145.50,313.10 L146.00,309.59 L146.50,309.30 L147.00,304.60 L147.50,302.65 L148.00,301.15 L148.50,301.14 L149.00,296.75 L149.50,294.50 L150.00,295.18 L150.50,283.18 L151.00,289.38 L151.50,281.61 L152.00,286.32 L152.50,280.81 L153.00,277.19 L153.50,274.59 L154.00,272.00 L154.50,272.00 L155.00,272.00 L155.50,272.00 L156.00,272.00 L156.50,272.00 L157.00,277.56 L157.50,275.66 L158.00,279.90 L158.50,281.06 L159.00,274.87 L159.50,282.69 L160.00,283.88 L160.50,286.24 L161.00,280.38 L161.50,285.11 L162.00,292.09 L162.50,294.70 L163.00,296.23 L163.50,299.11 L164.00,300.10 L164.50,301.23 L165.00,305.73 L165.50,304.75 L166.00,307.30 L166.50,312.21 L167.00,308.20 L167.50,311.71 L168.00,309.67 L168.50,315.28 L169.00,321.40 L169.50,321.22 L170.00,324.56 L170.50,322.18 L171.00,326.05 L171.50,327.45 L172.00,331.50 L172.50,332.79 L173.00,332.52 L173.50,334.10 L174.00,337.14 L174.50,335.07 L175.00,339.62 L175.50,340.17 L176.00,339.30 L176.50,340.78 L177.00,341.40 L177.50,343.92 L178.00,342.71 L178.50,343.62 L179.00,343.22 L179.50,343.31 L180.00,344.68 L180.50,344.38 L181.00,344.95 L181.50,345.53 L182.00,345.11 L182.50,345.39 L183.00,346.21 L183.50,346.60 L184.00,345.88 L184.50,346.28 L185.00,346.73 L185.50,346.69 L186.00,346.86 L186.50,346.69 L187.00,347.01 L187.50,346.70 L188.00,347.00 L188.50,347.23 L189.00,347.20 L189.50,347.32 L190.00,347.42 L190.50,347.50 L191.00,347.61 L191.50,347.66 L192.00,347.70" fill="none" stroke="#151515" stroke-width="1.15" stroke-dasharray="2 1.1" stroke-linejoin="round"/>
<path d="M134.00,341.29 L134.50,340.16 L135.00,337.07 L135.50,340.05 L136.00,336.87 L136.50,334.07 L137.00,335.71 L137.50,334.40 L138.00,331.93 L138.50,331.06 L139.00,328.77 L139.50,326.07 L140.00,328.67 L140.50,321.99 L141.00,326.84 L141.50,319.51 L142.00,318.74 L142.50,316.30 L143.00,314.93 L143.50,312.69 L144.00,311.80 L144.50,309.31 L145.00,314.27 L145.50,307.30 L146.00,303.52 L146.50,304.15 L147.00,303.46 L147.50,296.75 L148.00,296.73 L148.50,302.16 L149.00,290.38 L149.50,299.24 L150.00,293.47 L150.50,285.35 L151.00,289.26 L151.50,282.77 L152.00,289.60 L152.50,279.39 L153.00,276.17 L153.50,279.50 L154.00,280.01 L154.50,272.00 L155.00,272.65 L155.50,281.01 L156.00,276.80 L156.50,281.30 L157.00,274.87 L157.50,272.71 L158.00,282.89 L158.50,283.95 L159.00,283.11 L159.50,280.24 L160.00,283.56 L160.50,281.03 L161.00,289.92 L161.50,286.08 L162.00,290.03 L162.50,287.57 L163.00,290.76 L163.50,289.64 L164.00,289.31 L164.50,295.32 L165.00,296.39 L165.50,299.25 L166.00,304.65 L166.50,298.64 L167.00,305.43 L167.50,305.47 L168.00,308.20 L168.50,306.30 L169.00,304.85 L169.50,311.27 L170.00,311.07 L170.50,315.92 L171.00,312.71 L171.50,317.41 L172.00,314.85 L172.50,316.86 L173.00,321.00 L173.50,325.02 L174.00,324.18 L174.50,330.25 L175.00,331.41 L175.50,326.30 L176.00,332.62 L176.50,329.46 L177.00,335.16 L177.50,337.41 L178.00,336.63 L178.50,337.58 L179.00,337.89 L179.50,340.71 L180.00,340.44 L180.50,342.74 L181.00,342.07 L181.50,344.75 L182.00,344.41 L182.50,343.19 L183.00,345.05 L183.50,344.67 L184.00,345.50 L184.50,345.41 L185.00,346.06 L185.50,345.65 L186.00,345.61 L186.50,346.35 L187.00,346.69 L187.50,346.25 L188.00,346.48 L188.50,346.38 L189.00,346.10 L189.50,345.99 L190.00,346.47 L190.50,346.03 L191.00,346.36 L191.50,346.71 L192.00,346.37 L192.50,346.46 L193.00,346.97 L193.50,346.68 L194.00,346.67 L194.50,346.44 L195.00,346.91 L195.50,346.66 L196.00,346.94 L196.50,347.13 L197.00,347.07 L197.50,346.71 L198.00,347.18 L198.50,347.04 L199.00,346.78 L199.50,346.73 L200.00,346.86 L200.50,347.05 L201.00,347.00 L201.50,346.75 L202.00,347.26 L202.50,346.80 L203.00,347.21 L203.50,347.03 L204.00,347.19 L204.50,347.21 L205.00,347.15 L205.50,347.00 L206.00,347.08 L206.50,346.94 L207.00,346.97 L207.50,346.87 L208.00,347.04 L208.50,347.29 L209.00,347.22 L209.50,346.94 L210.00,347.07 L210.50,347.12 L211.00,347.17 L211.50,347.17 L212.00,347.31 L212.50,347.07 L213.00,347.25 L213.50,347.26 L214.00,347.04 L214.50,347.10 L215.00,347.10 L215.50,347.29 L216.00,347.38 L216.50,347.40 L217.00,347.39 L217.50,347.31 L218.00,347.34 L218.50,347.36 L219.00,347.26 L219.50,347.33 L220.00,347.24 L220.50,347.31 L221.00,347.33 L221.50,347.49 L222.00,347.31 L222.50,347.39 L223.00,347.29 L223.50,347.31 L224.00,347.42 L224.50,347.44 L225.00,347.43 L225.50,347.54 L226.00,347.44 L226.50,347.48 L227.00,347.53 L227.50,347.40 L228.00,347.52 L228.50,347.41 L229.00,347.55 L229.50,347.53 L230.00,347.54 L230.50,347.55 L231.00,347.43" fill="none" stroke="#d01616" stroke-width="1.35" stroke-linejoin="round"/>
<line x1="133.40" y1="271.50" x2="232.70" y2="271.50" stroke="#a8a8a8" stroke-width="1" />
<line x1="232.70" y1="271.50" x2="232.70" y2="347.70" stroke="#a8a8a8" stroke-width="1" />
<line x1="133.40" y1="271.50" x2="133.40" y2="347.70" stroke="#8a8a8a" stroke-width="1" />
<line x1="132.90" y1="347.70" x2="233.20" y2="347.70" stroke="#5a5a5a" stroke-width="1.2" />
<line x1="131.90" y1="271.50" x2="133.40" y2="271.50" stroke="#999" stroke-width="0.6" />
<line x1="131.90" y1="279.12" x2="133.40" y2="279.12" stroke="#999" stroke-width="0.6" />
<line x1="131.90" y1="286.74" x2="133.40" y2="286.74" stroke="#999" stroke-width="0.6" />
<line x1="131.90" y1="294.36" x2="133.40" y2="294.36" stroke="#999" stroke-width="0.6" />
<line x1="131.90" y1="301.98" x2="133.40" y2="301.98" stroke="#999" stroke-width="0.6" />
<line x1="131.90" y1="309.60" x2="133.40" y2="309.60" stroke="#999" stroke-width="0.6" />
<line x1="131.90" y1="317.22" x2="133.40" y2="317.22" stroke="#999" stroke-width="0.6" />
<line x1="131.90" y1="324.84" x2="133.40" y2="324.84" stroke="#999" stroke-width="0.6" />
<line x1="131.90" y1="332.46" x2="133.40" y2="332.46" stroke="#999" stroke-width="0.6" />
<line x1="131.90" y1="340.08" x2="133.40" y2="340.08" stroke="#999" stroke-width="0.6" />
<line x1="131.90" y1="347.70" x2="133.40" y2="347.70" stroke="#999" stroke-width="0.6" />
<text x="130.80" y="277.50" font-size="5.6" fill="#333" transform="rotate(-90 130.80 277.50)" >100</text>
<text x="130.20" y="349.50" font-size="5.6" fill="#333" transform="rotate(-90 130.20 349.50)" >0</text>
<text x="130.60" y="356.30" font-size="6.6" fill="#2a2a2a" >10</text>
<text x="138.00" y="352.90" font-size="3.9" fill="#2a2a2a" >0</text>
<line x1="133.40" y1="347.70" x2="133.40" y2="349.20" stroke="#2a2a2a" stroke-width="0.5" />
<text x="178.45" y="356.30" font-size="6.6" fill="#2a2a2a" >10</text>
<text x="185.85" y="352.90" font-size="3.9" fill="#2a2a2a" >1</text>
<line x1="183.05" y1="347.70" x2="183.05" y2="349.20" stroke="#2a2a2a" stroke-width="0.5" />
<text x="223.70" y="356.30" font-size="6.6" fill="#2a2a2a" >10</text>
<text x="231.10" y="352.90" font-size="3.9" fill="#2a2a2a" >2</text>
<line x1="232.70" y1="347.70" x2="232.70" y2="349.20" stroke="#2a2a2a" stroke-width="0.5" />
<text x="180.00" y="282.30" font-size="9.0" fill="#222" textLength="49.60" lengthAdjust="spacingAndGlyphs" stroke="#222" stroke-width="0.22">AP2µ2 siRNA</text>
<text x="203.40" y="305.00" font-size="9.4" fill="#111" font-weight="bold" textLength="16.80" lengthAdjust="spacingAndGlyphs" >MFI</text>
<text x="197.40" y="317.30" font-size="9.4" fill="#333" textLength="28.70" lengthAdjust="spacingAndGlyphs" stroke="#333" stroke-width="0.22">4+/-0.5</text>
<text x="197.80" y="328.70" font-size="9.4" fill="#cc2020" textLength="28.00" lengthAdjust="spacingAndGlyphs" stroke="#cc2020" stroke-width="0.22">5+/-1.4</text>
<path d="M21.60,429.60 L22.10,427.38 L22.60,427.58 L23.10,423.90 L23.60,423.86 L24.10,426.09 L24.60,421.80 L25.10,423.54 L25.60,420.59 L26.10,420.97 L26.60,419.24 L27.10,419.49 L27.60,418.98 L28.10,418.39 L28.60,415.02 L29.10,416.04 L29.60,411.83 L30.10,408.74 L30.60,410.45 L31.10,408.21 L31.60,405.73 L32.10,403.39 L32.60,401.68 L33.10,397.73 L33.60,395.21 L34.10,394.47 L34.60,396.22 L35.10,391.29 L35.60,391.00 L36.10,388.18 L36.60,384.55 L37.10,381.91 L37.60,375.57 L38.10,372.26 L38.60,376.96 L39.10,372.59 L39.60,368.54 L40.10,370.23 L40.60,366.58 L41.10,364.17 L41.60,365.70 L42.10,364.34 L42.60,361.86 L43.10,360.40 L43.60,360.37 L44.10,365.53 L44.60,369.31 L45.10,367.65 L45.60,364.06 L46.10,360.00 L46.60,366.35 L47.10,364.46 L47.60,369.77 L48.10,369.91 L48.60,367.86 L49.10,371.21 L49.60,372.84 L50.10,376.45 L50.60,373.62 L51.10,383.22 L51.60,383.45 L52.10,386.61 L52.60,383.45 L53.10,387.81 L53.60,394.21 L54.10,391.78 L54.60,400.73 L55.10,395.40 L55.60,403.24 L56.10,407.87 L56.60,411.28 L57.10,411.28 L57.60,415.43 L58.10,416.46 L58.60,416.73 L59.10,419.39 L59.60,420.65 L60.10,424.22 L60.60,422.25 L61.10,425.00 L61.60,424.36 L62.10,425.77 L62.60,425.28 L63.10,426.24 L63.60,429.82 L64.10,429.91 L64.60,431.84 L65.10,431.56 L65.60,431.29 L66.10,431.51 L66.60,431.74 L67.10,431.66 L67.60,431.80 L68.10,432.93 L68.60,432.73 L69.10,433.20 L69.60,433.73 L70.10,433.53 L70.60,433.89 L71.10,433.97 L71.60,434.09 L72.10,434.36 L72.60,434.06 L73.10,434.32 L73.60,434.24 L74.10,434.62 L74.60,434.53 L75.10,434.92 L75.60,434.81 L76.10,434.97 L76.60,435.02 L77.10,435.18 L77.60,435.23 L78.10,435.29 L78.60,435.31 L79.10,435.40 L79.60,435.47 L79.60,435.50 L21.60,435.50 Z" fill="#cecece" stroke="none"/>
<path d="M21.60,429.60 L22.10,427.38 L22.60,427.58 L23.10,423.90 L23.60,423.86 L24.10,426.09 L24.60,421.80 L25.10,423.54 L25.60,420.59 L26.10,420.97 L26.60,419.24 L27.10,419.49 L27.60,418.98 L28.10,418.39 L28.60,415.02 L29.10,416.04 L29.60,411.83 L30.10,408.74 L30.60,410.45 L31.10,408.21 L31.60,405.73 L32.10,403.39 L32.60,401.68 L33.10,397.73 L33.60,395.21 L34.10,394.47 L34.60,396.22 L35.10,391.29 L35.60,391.00 L36.10,388.18 L36.60,384.55 L37.10,381.91 L37.60,375.57 L38.10,372.26 L38.60,376.96 L39.10,372.59 L39.60,368.54 L40.10,370.23 L40.60,366.58 L41.10,364.17 L41.60,365.70 L42.10,364.34 L42.60,361.86 L43.10,360.40 L43.60,360.37 L44.10,365.53 L44.60,369.31 L45.10,367.65 L45.60,364.06 L46.10,360.00 L46.60,366.35 L47.10,364.46 L47.60,369.77 L48.10,369.91 L48.60,367.86 L49.10,371.21 L49.60,372.84 L50.10,376.45 L50.60,373.62 L51.10,383.22 L51.60,383.45 L52.10,386.61 L52.60,383.45 L53.10,387.81 L53.60,394.21 L54.10,391.78 L54.60,400.73 L55.10,395.40 L55.60,403.24 L56.10,407.87 L56.60,411.28 L57.10,411.28 L57.60,415.43 L58.10,416.46 L58.60,416.73 L59.10,419.39 L59.60,420.65 L60.10,424.22 L60.60,422.25 L61.10,425.00 L61.60,424.36 L62.10,425.77 L62.60,425.28 L63.10,426.24 L63.60,429.82 L64.10,429.91 L64.60,431.84 L65.10,431.56 L65.60,431.29 L66.10,431.51 L66.60,431.74 L67.10,431.66 L67.60,431.80 L68.10,432.93 L68.60,432.73 L69.10,433.20 L69.60,433.73 L70.10,433.53 L70.60,433.89 L71.10,433.97 L71.60,434.09 L72.10,434.36 L72.60,434.06 L73.10,434.32 L73.60,434.24 L74.10,434.62 L74.60,434.53 L75.10,434.92 L75.60,434.81 L76.10,434.97 L76.60,435.02 L77.10,435.18 L77.60,435.23 L78.10,435.29 L78.60,435.31 L79.10,435.40 L79.60,435.47" fill="none" stroke="#151515" stroke-width="1.15" stroke-dasharray="2 1.1" stroke-linejoin="round"/>
<path d="M21.60,424.22 L22.10,426.56 L22.60,427.14 L23.10,426.97 L23.60,425.94 L24.10,421.29 L24.60,421.68 L25.10,426.04 L25.60,421.67 L26.10,420.97 L26.60,418.25 L27.10,418.53 L27.60,415.12 L28.10,415.42 L28.60,414.33 L29.10,410.06 L29.60,414.46 L30.10,410.55 L30.60,408.22 L31.10,405.62 L31.60,402.08 L32.10,400.21 L32.60,398.07 L33.10,398.06 L33.60,401.33 L34.10,393.83 L34.60,396.01 L35.10,396.51 L35.60,396.30 L36.10,395.79 L36.60,393.59 L37.10,389.70 L37.60,386.74 L38.10,388.33 L38.60,388.32 L39.10,377.41 L39.60,377.59 L40.10,383.15 L40.60,377.74 L41.10,373.40 L41.60,377.88 L42.10,372.62 L42.60,382.15 L43.10,382.55 L43.60,373.26 L44.10,379.81 L44.60,378.48 L45.10,382.26 L45.60,383.40 L46.10,377.65 L46.60,382.44 L47.10,379.18 L47.60,372.99 L48.10,378.88 L48.60,377.85 L49.10,369.71 L49.60,381.28 L50.10,378.66 L50.60,382.84 L51.10,375.61 L51.60,381.73 L52.10,382.85 L52.60,378.31 L53.10,385.14 L53.60,384.88 L54.10,389.49 L54.60,390.47 L55.10,391.23 L55.60,388.54 L56.10,390.20 L56.60,389.23 L57.10,392.32 L57.60,397.29 L58.10,396.16 L58.60,404.50 L59.10,405.78 L59.60,407.65 L60.10,406.34 L60.60,412.46 L61.10,408.97 L61.60,412.02 L62.10,413.29 L62.60,417.43 L63.10,420.95 L63.60,418.96 L64.10,419.06 L64.60,422.76 L65.10,423.17 L65.60,424.62 L66.10,424.26 L66.60,426.21 L67.10,425.29 L67.60,427.74 L68.10,431.19 L68.60,428.23 L69.10,427.90 L69.60,431.15 L70.10,430.34 L70.60,429.21 L71.10,432.31 L71.60,431.57 L72.10,432.18 L72.60,430.98 L73.10,432.64 L73.60,431.69 L74.10,432.47 L74.60,433.29 L75.10,434.14 L75.60,434.06 L76.10,432.88 L76.60,434.08 L77.10,434.10 L77.60,432.92 L78.10,432.94 L78.60,433.24 L79.10,434.41 L79.60,433.49 L80.10,433.93 L80.60,434.15 L81.10,433.93 L81.60,433.92 L82.10,434.23 L82.60,434.53 L83.10,434.03 L83.60,433.93 L84.10,434.35 L84.60,434.81 L85.10,434.76 L85.60,434.17 L86.10,434.68 L86.60,434.82 L87.10,434.77 L87.60,434.16 L88.10,434.16 L88.60,434.49 L89.10,434.87 L89.60,434.84 L90.10,434.40 L90.60,434.88 L91.10,434.78 L91.60,434.51 L92.10,434.34 L92.60,434.32 L93.10,434.48 L93.60,434.30 L94.10,434.61 L94.60,434.69 L95.10,434.94 L95.60,434.34 L96.10,434.36 L96.60,434.72 L97.10,434.43 L97.60,434.44 L98.10,434.73 L98.60,434.80 L99.10,434.86 L99.60,434.62 L100.10,434.49 L100.60,434.42 L101.10,434.90 L101.60,434.87 L102.10,434.51 L102.60,434.80 L103.10,434.51 L103.60,434.75 L104.10,434.97 L104.60,435.05 L105.10,434.85 L105.60,435.01 L106.10,434.82 L106.60,435.07 L107.10,434.70 L107.60,434.61 L108.10,434.85 L108.60,435.11 L109.10,434.94 L109.60,434.97 L110.10,435.02 L110.60,434.99 L111.10,435.02 L111.60,434.85 L112.10,434.85 L112.60,435.09 L113.10,434.83 L113.60,434.95 L114.10,434.84 L114.60,435.02 L115.10,434.95 L115.60,435.13 L116.10,434.90 L116.60,434.85 L117.10,434.79 L117.60,434.80 L118.10,434.90 L118.60,435.13" fill="none" stroke="#d01616" stroke-width="1.35" stroke-linejoin="round"/>
<line x1="21.00" y1="359.50" x2="120.50" y2="359.50" stroke="#a8a8a8" stroke-width="1" />
<line x1="120.50" y1="359.50" x2="120.50" y2="435.50" stroke="#a8a8a8" stroke-width="1" />
<line x1="21.00" y1="359.50" x2="21.00" y2="435.50" stroke="#8a8a8a" stroke-width="1" />
<line x1="20.50" y1="435.50" x2="121.00" y2="435.50" stroke="#5a5a5a" stroke-width="1.2" />
<line x1="19.50" y1="359.50" x2="21.00" y2="359.50" stroke="#999" stroke-width="0.6" />
<line x1="19.50" y1="367.10" x2="21.00" y2="367.10" stroke="#999" stroke-width="0.6" />
<line x1="19.50" y1="374.70" x2="21.00" y2="374.70" stroke="#999" stroke-width="0.6" />
<line x1="19.50" y1="382.30" x2="21.00" y2="382.30" stroke="#999" stroke-width="0.6" />
<line x1="19.50" y1="389.90" x2="21.00" y2="389.90" stroke="#999" stroke-width="0.6" />
<line x1="19.50" y1="397.50" x2="21.00" y2="397.50" stroke="#999" stroke-width="0.6" />
<line x1="19.50" y1="405.10" x2="21.00" y2="405.10" stroke="#999" stroke-width="0.6" />
<line x1="19.50" y1="412.70" x2="21.00" y2="412.70" stroke="#999" stroke-width="0.6" />
<line x1="19.50" y1="420.30" x2="21.00" y2="420.30" stroke="#999" stroke-width="0.6" />
<line x1="19.50" y1="427.90" x2="21.00" y2="427.90" stroke="#999" stroke-width="0.6" />
<line x1="19.50" y1="435.50" x2="21.00" y2="435.50" stroke="#999" stroke-width="0.6" />
<text x="18.40" y="365.50" font-size="5.6" fill="#333" transform="rotate(-90 18.40 365.50)" >100</text>
<text x="17.80" y="437.30" font-size="5.6" fill="#333" transform="rotate(-90 17.80 437.30)" >0</text>
<text x="18.20" y="444.10" font-size="6.6" fill="#2a2a2a" >10</text>
<text x="25.60" y="440.70" font-size="3.9" fill="#2a2a2a" >0</text>
<line x1="21.00" y1="435.50" x2="21.00" y2="437.00" stroke="#2a2a2a" stroke-width="0.5" />
<text x="66.15" y="444.10" font-size="6.6" fill="#2a2a2a" >10</text>
<text x="73.55" y="440.70" font-size="3.9" fill="#2a2a2a" >1</text>
<line x1="70.75" y1="435.50" x2="70.75" y2="437.00" stroke="#2a2a2a" stroke-width="0.5" />
<text x="111.50" y="444.10" font-size="6.6" fill="#2a2a2a" >10</text>
<text x="118.90" y="440.70" font-size="3.9" fill="#2a2a2a" >2</text>
<line x1="120.50" y1="435.50" x2="120.50" y2="437.00" stroke="#2a2a2a" stroke-width="0.5" />
<text x="74.90" y="371.10" font-size="9.0" fill="#222" textLength="42.70" lengthAdjust="spacingAndGlyphs" stroke="#222" stroke-width="0.22">CHC siRNA</text>
<text x="90.10" y="395.70" font-size="9.4" fill="#111" font-weight="bold" textLength="16.70" lengthAdjust="spacingAndGlyphs" >MFI</text>
<text x="80.20" y="407.00" font-size="9.4" fill="#333" textLength="36.70" lengthAdjust="spacingAndGlyphs" stroke="#333" stroke-width="0.22">3.5+/-0.5</text>
<text x="84.00" y="419.60" font-size="9.4" fill="#cc2020" textLength="28.60" lengthAdjust="spacingAndGlyphs" stroke="#cc2020" stroke-width="0.22">5+/-1.2</text>
<path d="M133.60,429.54 L134.10,428.48 L134.60,425.03 L135.10,425.69 L135.60,422.38 L136.10,424.49 L136.60,421.97 L137.10,420.26 L137.60,418.59 L138.10,416.53 L138.60,416.53 L139.10,413.85 L139.60,410.68 L140.10,408.10 L140.60,410.39 L141.10,405.81 L141.60,407.07 L142.10,404.71 L142.60,398.79 L143.10,399.01 L143.60,396.34 L144.10,396.24 L144.60,387.78 L145.10,383.49 L145.60,383.03 L146.10,377.96 L146.60,375.02 L147.10,378.05 L147.60,373.22 L148.10,371.99 L148.60,371.52 L149.10,370.38 L149.60,368.39 L150.10,363.31 L150.60,360.00 L151.10,360.00 L151.60,360.00 L152.10,361.25 L152.60,361.36 L153.10,360.78 L153.60,361.43 L154.10,360.00 L154.60,360.00 L155.10,360.00 L155.60,360.00 L156.10,360.00 L156.60,362.31 L157.10,360.00 L157.60,361.47 L158.10,363.54 L158.60,364.75 L159.10,369.58 L159.60,373.55 L160.10,378.58 L160.60,380.97 L161.10,387.54 L161.60,386.77 L162.10,389.61 L162.60,397.70 L163.10,396.37 L163.60,398.37 L164.10,403.78 L164.60,404.47 L165.10,408.71 L165.60,411.39 L166.10,412.36 L166.60,415.22 L167.10,418.22 L167.60,415.32 L168.10,419.82 L168.60,422.05 L169.10,424.38 L169.60,425.00 L170.10,425.23 L170.60,425.85 L171.10,427.76 L171.60,428.36 L172.10,426.78 L172.60,427.65 L173.10,430.16 L173.60,430.62 L174.10,430.60 L174.60,430.27 L175.10,429.32 L175.60,429.92 L176.10,429.80 L176.60,432.26 L177.10,430.90 L177.60,432.42 L178.10,431.53 L178.60,432.36 L179.10,433.09 L179.60,432.77 L180.10,432.81 L180.60,433.84 L181.10,433.27 L181.60,433.13 L182.10,433.95 L182.60,434.33 L183.10,434.12 L183.60,433.95 L184.10,434.39 L184.60,434.66 L185.10,434.68 L185.60,434.92 L186.10,435.15 L186.60,435.25 L187.10,435.37 L187.60,435.45 L187.60,435.50 L133.60,435.50 Z" fill="#cecece" stroke="none"/>
<path d="M133.60,429.54 L134.10,428.48 L134.60,425.03 L135.10,425.69 L135.60,422.38 L136.10,424.49 L136.60,421.97 L137.10,420.26 L137.60,418.59 L138.10,416.53 L138.60,416.53 L139.10,413.85 L139.60,410.68 L140.10,408.10 L140.60,410.39 L141.10,405.81 L141.60,407.07 L142.10,404.71 L142.60,398.79 L143.10,399.01 L143.60,396.34 L144.10,396.24 L144.60,387.78 L145.10,383.49 L145.60,383.03 L146.10,377.96 L146.60,375.02 L147.10,378.05 L147.60,373.22 L148.10,371.99 L148.60,371.52 L149.10,370.38 L149.60,368.39 L150.10,363.31 L150.60,360.00 L151.10,360.00 L151.60,360.00 L152.10,361.25 L152.60,361.36 L153.10,360.78 L153.60,361.43 L154.10,360.00 L154.60,360.00 L155.10,360.00 L155.60,360.00 L156.10,360.00 L156.60,362.31 L157.10,360.00 L157.60,361.47 L158.10,363.54 L158.60,364.75 L159.10,369.58 L159.60,373.55 L160.10,378.58 L160.60,380.97 L161.10,387.54 L161.60,386.77 L162.10,389.61 L162.60,397.70 L163.10,396.37 L163.60,398.37 L164.10,403.78 L164.60,404.47 L165.10,408.71 L165.60,411.39 L166.10,412.36 L166.60,415.22 L167.10,418.22 L167.60,415.32 L168.10,419.82 L168.60,422.05 L169.10,424.38 L169.60,425.00 L170.10,425.23 L170.60,425.85 L171.10,427.76 L171.60,428.36 L172.10,426.78 L172.60,427.65 L173.10,430.16 L173.60,430.62 L174.10,430.60 L174.60,430.27 L175.10,429.32 L175.60,429.92 L176.10,429.80 L176.60,432.26 L177.10,430.90 L177.60,432.42 L178.10,431.53 L178.60,432.36 L179.10,433.09 L179.60,432.77 L180.10,432.81 L180.60,433.84 L181.10,433.27 L181.60,433.13 L182.10,433.95 L182.60,434.33 L183.10,434.12 L183.60,433.95 L184.10,434.39 L184.60,434.66 L185.10,434.68 L185.60,434.92 L186.10,435.15 L186.60,435.25 L187.10,435.37 L187.60,435.45" fill="none" stroke="#151515" stroke-width="1.15" stroke-dasharray="2 1.1" stroke-linejoin="round"/>
<path d="M133.60,422.30 L134.10,423.28 L134.60,425.43 L135.10,425.85 L135.60,430.92 L136.10,427.61 L136.60,427.66 L137.10,430.06 L137.60,431.05 L138.10,429.92 L138.60,429.14 L139.10,425.14 L139.60,425.20 L140.10,423.95 L140.60,424.51 L141.10,426.37 L141.60,422.40 L142.10,422.43 L142.60,422.71 L143.10,420.37 L143.60,419.52 L144.10,420.52 L144.60,415.75 L145.10,416.67 L145.60,415.39 L146.10,412.96 L146.60,414.41 L147.10,409.21 L147.60,407.81 L148.10,409.08 L148.60,407.93 L149.10,400.23 L149.60,402.19 L150.10,401.76 L150.60,400.28 L151.10,396.31 L151.60,397.71 L152.10,399.08 L152.60,397.37 L153.10,394.32 L153.60,390.43 L154.10,391.36 L154.60,383.04 L155.10,387.90 L155.60,386.86 L156.10,379.00 L156.60,385.33 L157.10,378.34 L157.60,374.21 L158.10,374.36 L158.60,381.28 L159.10,373.12 L159.60,375.64 L160.10,380.22 L160.60,377.59 L161.10,384.11 L161.60,381.10 L162.10,372.36 L162.60,373.05 L163.10,371.70 L163.60,363.75 L164.10,366.11 L164.60,369.25 L165.10,366.13 L165.60,370.55 L166.10,368.18 L166.60,368.76 L167.10,370.74 L167.60,369.23 L168.10,368.22 L168.60,373.08 L169.10,371.96 L169.60,372.99 L170.10,374.84 L170.60,377.10 L171.10,383.88 L171.60,380.71 L172.10,391.52 L172.60,390.69 L173.10,390.75 L173.60,395.06 L174.10,398.77 L174.60,395.83 L175.10,402.79 L175.60,399.40 L176.10,403.88 L176.60,409.36 L177.10,407.99 L177.60,410.36 L178.10,411.11 L178.60,411.14 L179.10,415.28 L179.60,418.60 L180.10,417.59 L180.60,417.79 L181.10,419.89 L181.60,421.58 L182.10,422.21 L182.60,426.69 L183.10,425.88 L183.60,424.48 L184.10,427.54 L184.60,427.77 L185.10,426.07 L185.60,430.11 L186.10,429.42 L186.60,427.40 L187.10,431.88 L187.60,429.08 L188.10,429.59 L188.60,431.16 L189.10,432.89 L189.60,431.22 L190.10,431.16 L190.60,432.56 L191.10,432.62 L191.60,433.53 L192.10,432.54 L192.60,432.60 L193.10,433.09 L193.60,432.36 L194.10,432.90 L194.60,433.87 L195.10,433.18 L195.60,434.19 L196.10,433.50 L196.60,433.30 L197.10,433.44 L197.60,433.39 L198.10,433.66 L198.60,434.04 L199.10,434.42 L199.60,433.67 L200.10,433.72 L200.60,434.16 L201.10,433.60 L201.60,433.59 L202.10,434.14 L202.60,433.36 L203.10,434.38 L203.60,433.49 L204.10,433.66 L204.60,434.01 L205.10,433.63 L205.60,433.55 L206.10,434.54 L206.60,434.03 L207.10,434.18 L207.60,434.61 L208.10,434.35 L208.60,434.36 L209.10,434.41 L209.60,434.67 L210.10,434.59 L210.60,433.98 L211.10,434.43 L211.60,434.01 L212.10,433.83 L212.60,434.18 L213.10,434.66 L213.60,434.14 L214.10,434.77 L214.60,434.74 L215.10,434.72 L215.60,434.47 L216.10,434.22 L216.60,434.87 L217.10,434.15 L217.60,434.76 L218.10,434.82 L218.60,434.61 L219.10,434.84 L219.60,434.72 L220.10,434.62 L220.60,434.85 L221.10,434.76 L221.60,434.97 L222.10,434.78 L222.60,434.73 L223.10,435.00 L223.60,434.90 L224.10,434.65 L224.60,434.85 L225.10,434.90 L225.60,434.84 L226.10,434.84 L226.60,435.00 L227.10,434.93 L227.60,434.76 L228.10,435.08 L228.60,435.03 L229.10,434.80 L229.60,435.09 L230.10,435.09 L230.60,434.87" fill="none" stroke="#d01616" stroke-width="1.35" stroke-linejoin="round"/>
<line x1="133.40" y1="359.50" x2="232.70" y2="359.50" stroke="#a8a8a8" stroke-width="1" />
<line x1="232.70" y1="359.50" x2="232.70" y2="435.50" stroke="#a8a8a8" stroke-width="1" />
<line x1="133.40" y1="359.50" x2="133.40" y2="435.50" stroke="#8a8a8a" stroke-width="1" />
<line x1="132.90" y1="435.50" x2="233.20" y2="435.50" stroke="#5a5a5a" stroke-width="1.2" />
<line x1="131.90" y1="359.50" x2="133.40" y2="359.50" stroke="#999" stroke-width="0.6" />
<line x1="131.90" y1="367.10" x2="133.40" y2="367.10" stroke="#999" stroke-width="0.6" />
<line x1="131.90" y1="374.70" x2="133.40" y2="374.70" stroke="#999" stroke-width="0.6" />
<line x1="131.90" y1="382.30" x2="133.40" y2="382.30" stroke="#999" stroke-width="0.6" />
<line x1="131.90" y1="389.90" x2="133.40" y2="389.90" stroke="#999" stroke-width="0.6" />
<line x1="131.90" y1="397.50" x2="133.40" y2="397.50" stroke="#999" stroke-width="0.6" />
<line x1="131.90" y1="405.10" x2="133.40" y2="405.10" stroke="#999" stroke-width="0.6" />
<line x1="131.90" y1="412.70" x2="133.40" y2="412.70" stroke="#999" stroke-width="0.6" />
<line x1="131.90" y1="420.30" x2="133.40" y2="420.30" stroke="#999" stroke-width="0.6" />
<line x1="131.90" y1="427.90" x2="133.40" y2="427.90" stroke="#999" stroke-width="0.6" />
<line x1="131.90" y1="435.50" x2="133.40" y2="435.50" stroke="#999" stroke-width="0.6" />
<text x="130.80" y="365.50" font-size="5.6" fill="#333" transform="rotate(-90 130.80 365.50)" >100</text>
<text x="130.20" y="437.30" font-size="5.6" fill="#333" transform="rotate(-90 130.20 437.30)" >0</text>
<text x="130.60" y="444.10" font-size="6.6" fill="#2a2a2a" >10</text>
<text x="138.00" y="440.70" font-size="3.9" fill="#2a2a2a" >0</text>
<line x1="133.40" y1="435.50" x2="133.40" y2="437.00" stroke="#2a2a2a" stroke-width="0.5" />
<text x="178.45" y="444.10" font-size="6.6" fill="#2a2a2a" >10</text>
<text x="185.85" y="440.70" font-size="3.9" fill="#2a2a2a" >1</text>
<line x1="183.05" y1="435.50" x2="183.05" y2="437.00" stroke="#2a2a2a" stroke-width="0.5" />
<text x="223.70" y="444.10" font-size="6.6" fill="#2a2a2a" >10</text>
<text x="231.10" y="440.70" font-size="3.9" fill="#2a2a2a" >2</text>
<line x1="232.70" y1="435.50" x2="232.70" y2="437.00" stroke="#2a2a2a" stroke-width="0.5" />
<text x="172.90" y="369.90" font-size="9.0" fill="#222" textLength="56.10" lengthAdjust="spacingAndGlyphs" stroke="#222" stroke-width="0.22">Flotillin-1 siRNA</text>
<text x="203.40" y="395.10" font-size="9.4" fill="#111" font-weight="bold" textLength="16.80" lengthAdjust="spacingAndGlyphs" >MFI</text>
<text x="197.40" y="407.00" font-size="9.4" fill="#333" textLength="28.70" lengthAdjust="spacingAndGlyphs" stroke="#333" stroke-width="0.22">4+/-0.5</text>
<text x="195.10" y="419.30" font-size="9.4" fill="#cc2020" textLength="34.20" lengthAdjust="spacingAndGlyphs" stroke="#cc2020" stroke-width="0.22">15+/-0.9</text>
<rect x="140.00" y="210.20" width="8.20" height="2.90" fill="#959a9a" stroke="none" stroke-width="1" />
<rect x="140.00" y="221.30" width="8.20" height="2.90" fill="#c8121c" stroke="none" stroke-width="1" />
<text x="149.40" y="215.40" font-size="9.8" fill="#111" textLength="61.60" lengthAdjust="spacingAndGlyphs" stroke="#111" stroke-width="0.22">+GzmB alone</text>
<text x="149.40" y="226.10" font-size="9.8" fill="#111" textLength="59.30" lengthAdjust="spacingAndGlyphs" stroke="#111" stroke-width="0.22">+PFN+GzmB</text>
<line x1="6.50" y1="182.80" x2="6.50" y2="284.40" stroke="#000" stroke-width="1.8" />
<line x1="6.50" y1="326.00" x2="6.50" y2="440.30" stroke="#000" stroke-width="1.8" />
<text x="9.50" y="306.50" font-size="10" fill="#000" text-anchor="middle" transform="rotate(-90 9.50 306.50)" stroke="#000" stroke-width="0.22">Counts</text>
<line x1="12.50" y1="453.30" x2="92.50" y2="453.30" stroke="#000" stroke-width="1.8" />
<line x1="147.50" y1="453.30" x2="227.80" y2="453.30" stroke="#000" stroke-width="1.8" />
<text x="92.30" y="456.60" font-size="9.8" fill="#000" textLength="55.40" lengthAdjust="spacingAndGlyphs" stroke="#000" stroke-width="0.22">A488-GzmB</text>
<text x="263.60" y="167.60" font-size="14" fill="#000" font-weight="bold" >D</text>
<text x="314.70" y="169.50" font-size="9.8" fill="#222" textLength="46.10" lengthAdjust="spacingAndGlyphs" stroke="#222" stroke-width="0.22">Ctrl siRNA</text>
<text x="384.10" y="169.50" font-size="9.8" fill="#222" textLength="52.00" lengthAdjust="spacingAndGlyphs" stroke="#222" stroke-width="0.22">CHC siRNA</text>
<text x="448.20" y="169.50" font-size="9.8" fill="#222" textLength="70.00" lengthAdjust="spacingAndGlyphs" stroke="#222" stroke-width="0.22">Flotillin-1 siRNA</text>
<text x="298.30" y="212.30" font-size="9.8" fill="#222" text-anchor="end" stroke="#222" stroke-width="0.22">+GzmB</text>
<text x="294.60" y="276.80" font-size="9.8" fill="#222" text-anchor="end" stroke="#222" stroke-width="0.22">+PFN</text>
<text x="298.30" y="288.80" font-size="9.8" fill="#222" text-anchor="end" stroke="#222" stroke-width="0.22">+GzmB</text>
<defs><filter id="bl" x="-50%" y="-50%" width="200%" height="200%"><feGaussianBlur stdDeviation="1.2"/></filter><filter id="bl0" x="-50%" y="-50%" width="200%" height="200%"><feGaussianBlur stdDeviation="0.6"/></filter><filter id="bl2" x="-50%" y="-50%" width="200%" height="200%"><feGaussianBlur stdDeviation="2.5"/></filter><radialGradient id="gg" cx="50%" cy="50%" r="50%"><stop offset="0" stop-color="#40e040"/><stop offset="0.7" stop-color="#20b020"/><stop offset="1" stop-color="#108010"/></radialGradient></defs>
<rect x="302.00" y="173.00" width="70.90" height="70.90" fill="#050000" stroke="none" stroke-width="1" />
<clipPath id="cp00"><rect x="302" y="173" width="70.9" height="70.9"/></clipPath>
<g clip-path="url(#cp00)">
<rect x="361.2" y="226.2" width="0.8" height="1.0" fill="#8a1c10" opacity="0.17"/>
<rect x="330.9" y="228.0" width="0.9" height="1.0" fill="#8a1c10" opacity="0.15"/>
<rect x="365.6" y="208.8" width="1.1" height="1.0" fill="#8a1c10" opacity="0.14"/>
<rect x="320.3" y="236.7" width="1.2" height="1.2" fill="#8a1c10" opacity="0.30"/>
<rect x="324.4" y="224.3" width="1.1" height="0.9" fill="#8a1c10" opacity="0.28"/>
<rect x="309.9" y="203.9" width="1.2" height="1.3" fill="#8a1c10" opacity="0.21"/>
<rect x="335.9" y="233.6" width="1.2" height="1.0" fill="#8a1c10" opacity="0.14"/>
<rect x="304.0" y="223.6" width="1.2" height="1.1" fill="#8a1c10" opacity="0.17"/>
<rect x="303.1" y="208.0" width="0.8" height="0.8" fill="#8a1c10" opacity="0.27"/>
<rect x="363.0" y="187.2" width="0.8" height="1.3" fill="#8a1c10" opacity="0.20"/>
<rect x="358.3" y="204.9" width="0.8" height="1.0" fill="#8a1c10" opacity="0.10"/>
<rect x="367.3" y="181.5" width="1.1" height="1.0" fill="#8a1c10" opacity="0.20"/>
<rect x="359.1" y="211.2" width="1.0" height="1.0" fill="#8a1c10" opacity="0.29"/>
<rect x="333.7" y="215.1" width="1.0" height="0.8" fill="#8a1c10" opacity="0.16"/>
<rect x="316.0" y="186.9" width="1.1" height="0.9" fill="#8a1c10" opacity="0.21"/>
<rect x="309.2" y="226.2" width="1.2" height="1.2" fill="#8a1c10" opacity="0.27"/>
<rect x="364.9" y="237.6" width="0.9" height="1.1" fill="#8a1c10" opacity="0.20"/>
<rect x="322.0" y="229.9" width="1.2" height="1.0" fill="#8a1c10" opacity="0.27"/>
<rect x="368.4" y="213.9" width="1.1" height="1.3" fill="#8a1c10" opacity="0.18"/>
<rect x="366.2" y="228.7" width="1.0" height="0.9" fill="#8a1c10" opacity="0.10"/>
<rect x="346.4" y="232.2" width="1.1" height="0.7" fill="#8a1c10" opacity="0.13"/>
<rect x="318.2" y="228.7" width="1.2" height="0.7" fill="#8a1c10" opacity="0.15"/>
<rect x="313.1" y="222.1" width="1.0" height="1.2" fill="#8a1c10" opacity="0.09"/>
<rect x="339.8" y="220.9" width="1.0" height="1.0" fill="#8a1c10" opacity="0.09"/>
<rect x="342.7" y="201.0" width="1.3" height="0.6" fill="#8a1c10" opacity="0.16"/>
<rect x="304.5" y="240.2" width="0.7" height="0.7" fill="#8a1c10" opacity="0.12"/>
<rect x="358.2" y="238.6" width="0.9" height="0.7" fill="#8a1c10" opacity="0.09"/>
<rect x="320.9" y="189.2" width="0.8" height="0.7" fill="#8a1c10" opacity="0.22"/>
<rect x="337.7" y="176.7" width="1.3" height="0.7" fill="#8a1c10" opacity="0.10"/>
<rect x="327.7" y="224.4" width="1.2" height="0.7" fill="#8a1c10" opacity="0.26"/>
<rect x="349.3" y="240.6" width="1.1" height="1.2" fill="#8a1c10" opacity="0.09"/>
<rect x="326.6" y="191.3" width="0.9" height="0.7" fill="#8a1c10" opacity="0.21"/>
<rect x="335.5" y="202.2" width="1.0" height="0.8" fill="#8a1c10" opacity="0.21"/>
<rect x="327.6" y="231.7" width="1.0" height="0.6" fill="#8a1c10" opacity="0.14"/>
<rect x="354.1" y="197.1" width="0.8" height="0.8" fill="#8a1c10" opacity="0.09"/>
<rect x="368.7" y="198.3" width="0.9" height="1.3" fill="#8a1c10" opacity="0.14"/>
<rect x="346.7" y="216.8" width="0.9" height="0.9" fill="#8a1c10" opacity="0.24"/>
<rect x="347.8" y="174.1" width="0.8" height="0.8" fill="#8a1c10" opacity="0.12"/>
<rect x="346.9" y="200.1" width="1.0" height="0.9" fill="#8a1c10" opacity="0.27"/>
<rect x="330.7" y="222.4" width="1.1" height="0.6" fill="#8a1c10" opacity="0.17"/>
<rect x="333.7" y="191.9" width="1.0" height="0.9" fill="#8a1c10" opacity="0.11"/>
<rect x="341.7" y="226.1" width="0.9" height="0.8" fill="#8a1c10" opacity="0.27"/>
<rect x="335.2" y="229.7" width="1.2" height="0.7" fill="#8a1c10" opacity="0.27"/>
<rect x="371.9" y="217.6" width="1.1" height="1.3" fill="#8a1c10" opacity="0.10"/>
<rect x="330.7" y="220.7" width="0.7" height="1.1" fill="#8a1c10" opacity="0.15"/>
<rect x="303.2" y="230.7" width="0.7" height="0.7" fill="#8a1c10" opacity="0.20"/>
<rect x="347.7" y="234.2" width="1.3" height="0.7" fill="#8a1c10" opacity="0.14"/>
<rect x="361.8" y="201.3" width="0.8" height="0.9" fill="#8a1c10" opacity="0.10"/>
<rect x="357.6" y="233.3" width="1.0" height="1.1" fill="#8a1c10" opacity="0.11"/>
<rect x="326.9" y="234.1" width="0.6" height="0.6" fill="#8a1c10" opacity="0.14"/>
<rect x="349.9" y="212.5" width="1.3" height="1.2" fill="#8a1c10" opacity="0.29"/>
<rect x="305.9" y="225.6" width="1.1" height="1.1" fill="#8a1c10" opacity="0.23"/>
<rect x="365.2" y="218.1" width="1.0" height="0.7" fill="#8a1c10" opacity="0.16"/>
<rect x="343.5" y="174.6" width="0.8" height="1.2" fill="#8a1c10" opacity="0.11"/>
<rect x="352.5" y="197.3" width="0.6" height="0.7" fill="#8a1c10" opacity="0.22"/>
<rect x="370.7" y="193.9" width="1.0" height="0.8" fill="#8a1c10" opacity="0.17"/>
<rect x="335.9" y="190.5" width="0.7" height="1.0" fill="#8a1c10" opacity="0.09"/>
<rect x="307.9" y="201.8" width="0.9" height="0.7" fill="#8a1c10" opacity="0.15"/>
<rect x="365.6" y="206.7" width="1.3" height="0.8" fill="#8a1c10" opacity="0.26"/>
<rect x="336.0" y="222.2" width="0.8" height="1.1" fill="#8a1c10" opacity="0.17"/>
<rect x="364.6" y="237.4" width="0.9" height="1.3" fill="#8a1c10" opacity="0.22"/>
<rect x="347.0" y="178.5" width="1.1" height="0.6" fill="#8a1c10" opacity="0.10"/>
<rect x="303.5" y="201.1" width="0.9" height="0.9" fill="#8a1c10" opacity="0.19"/>
<rect x="343.3" y="220.8" width="0.9" height="1.3" fill="#8a1c10" opacity="0.17"/>
<rect x="321.0" y="227.5" width="0.9" height="0.6" fill="#8a1c10" opacity="0.17"/>
<rect x="362.5" y="222.4" width="0.9" height="1.1" fill="#8a1c10" opacity="0.28"/>
<rect x="311.2" y="201.4" width="0.6" height="1.3" fill="#8a1c10" opacity="0.13"/>
<rect x="317.9" y="184.1" width="0.9" height="1.0" fill="#8a1c10" opacity="0.12"/>
<rect x="313.4" y="242.1" width="0.7" height="0.9" fill="#8a1c10" opacity="0.30"/>
<rect x="349.8" y="234.5" width="1.2" height="0.8" fill="#8a1c10" opacity="0.19"/>
<rect x="337.3" y="208.4" width="0.7" height="1.0" fill="#8a1c10" opacity="0.23"/>
<rect x="318.1" y="197.4" width="1.2" height="1.2" fill="#8a1c10" opacity="0.29"/>
<rect x="305.4" y="184.2" width="1.1" height="1.2" fill="#8a1c10" opacity="0.14"/>
<rect x="343.2" y="223.5" width="0.6" height="0.7" fill="#8a1c10" opacity="0.26"/>
<rect x="362.9" y="176.7" width="0.6" height="0.6" fill="#8a1c10" opacity="0.13"/>
<rect x="361.1" y="196.8" width="0.7" height="1.1" fill="#8a1c10" opacity="0.12"/>
<rect x="369.7" y="208.8" width="1.0" height="1.0" fill="#8a1c10" opacity="0.28"/>
<rect x="349.8" y="229.5" width="1.3" height="1.1" fill="#8a1c10" opacity="0.25"/>
<rect x="365.4" y="188.2" width="1.0" height="1.2" fill="#8a1c10" opacity="0.20"/>
<rect x="336.2" y="228.5" width="1.0" height="1.2" fill="#8a1c10" opacity="0.17"/>
<rect x="358.0" y="219.3" width="0.7" height="1.0" fill="#8a1c10" opacity="0.08"/>
<rect x="320.5" y="178.5" width="1.3" height="0.8" fill="#8a1c10" opacity="0.27"/>
<rect x="331.1" y="229.8" width="1.0" height="0.7" fill="#8a1c10" opacity="0.09"/>
<rect x="322.8" y="231.2" width="0.6" height="0.9" fill="#8a1c10" opacity="0.09"/>
<rect x="336.9" y="233.5" width="1.1" height="0.7" fill="#8a1c10" opacity="0.24"/>
<rect x="371.0" y="202.3" width="0.9" height="0.6" fill="#8a1c10" opacity="0.21"/>
<rect x="335.4" y="184.4" width="1.0" height="1.0" fill="#8a1c10" opacity="0.09"/>
<rect x="310.3" y="211.8" width="0.9" height="1.1" fill="#8a1c10" opacity="0.16"/>
<rect x="336.8" y="234.7" width="0.9" height="1.0" fill="#8a1c10" opacity="0.21"/>
<rect x="326.3" y="182.6" width="1.0" height="1.2" fill="#8a1c10" opacity="0.23"/>
<rect x="311.8" y="236.8" width="1.2" height="1.2" fill="#8a1c10" opacity="0.26"/>
<rect x="349.9" y="229.8" width="1.1" height="0.7" fill="#8a1c10" opacity="0.19"/>
<rect x="356.9" y="204.6" width="0.9" height="1.2" fill="#8a1c10" opacity="0.25"/>
<rect x="308.2" y="177.1" width="0.9" height="1.2" fill="#8a1c10" opacity="0.29"/>
<rect x="368.1" y="219.9" width="0.8" height="0.7" fill="#8a1c10" opacity="0.21"/>
<rect x="359.5" y="235.2" width="1.1" height="0.9" fill="#8a1c10" opacity="0.25"/>
<rect x="324.0" y="181.8" width="1.0" height="1.2" fill="#8a1c10" opacity="0.17"/>
<rect x="367.5" y="202.6" width="1.1" height="1.1" fill="#8a1c10" opacity="0.10"/>
<rect x="305.1" y="204.8" width="0.6" height="1.2" fill="#8a1c10" opacity="0.23"/>
<rect x="369.3" y="223.8" width="0.6" height="0.9" fill="#8a1c10" opacity="0.10"/>
<rect x="305.0" y="198.0" width="1.3" height="1.2" fill="#8a1c10" opacity="0.08"/>
<rect x="307.9" y="235.6" width="0.7" height="1.1" fill="#8a1c10" opacity="0.13"/>
<rect x="367.6" y="182.5" width="0.9" height="0.6" fill="#8a1c10" opacity="0.08"/>
<rect x="344.7" y="233.2" width="0.7" height="0.8" fill="#8a1c10" opacity="0.12"/>
<rect x="369.1" y="183.0" width="0.9" height="0.9" fill="#8a1c10" opacity="0.29"/>
<rect x="323.2" y="238.6" width="1.0" height="0.7" fill="#8a1c10" opacity="0.29"/>
<rect x="371.4" y="181.1" width="0.7" height="1.2" fill="#8a1c10" opacity="0.21"/>
<rect x="368.2" y="229.4" width="0.8" height="1.1" fill="#8a1c10" opacity="0.15"/>
<rect x="323.1" y="202.9" width="0.7" height="0.6" fill="#8a1c10" opacity="0.09"/>
<rect x="308.4" y="179.0" width="1.0" height="1.1" fill="#8a1c10" opacity="0.17"/>
<rect x="312.8" y="203.1" width="0.7" height="0.9" fill="#8a1c10" opacity="0.22"/>
<rect x="328.4" y="239.4" width="0.9" height="0.9" fill="#8a1c10" opacity="0.09"/>
<rect x="353.2" y="196.1" width="0.8" height="0.9" fill="#8a1c10" opacity="0.12"/>
<rect x="368.5" y="228.9" width="1.0" height="1.1" fill="#8a1c10" opacity="0.14"/>
<rect x="357.8" y="204.7" width="1.1" height="0.9" fill="#8a1c10" opacity="0.17"/>
<rect x="320.1" y="205.2" width="0.7" height="0.9" fill="#8a1c10" opacity="0.29"/>
<rect x="346.9" y="207.3" width="0.6" height="1.1" fill="#8a1c10" opacity="0.12"/>
<rect x="345.6" y="174.5" width="1.1" height="1.0" fill="#8a1c10" opacity="0.15"/>
<rect x="340.6" y="184.8" width="0.9" height="1.1" fill="#8a1c10" opacity="0.24"/>
<rect x="355.4" y="190.0" width="0.8" height="1.3" fill="#8a1c10" opacity="0.25"/>
<!--cell00-->
</g>
<rect x="375.20" y="173.00" width="70.30" height="70.90" fill="#030000" stroke="none" stroke-width="1" />
<clipPath id="cp01"><rect x="375.2" y="173" width="70.3" height="70.9"/></clipPath>
<g clip-path="url(#cp01)">
<rect x="385.4" y="232.4" width="0.8" height="0.9" fill="#8a1c10" opacity="0.25"/>
<rect x="406.9" y="218.9" width="0.7" height="0.6" fill="#8a1c10" opacity="0.25"/>
<rect x="433.3" y="203.8" width="0.6" height="0.9" fill="#8a1c10" opacity="0.25"/>
<rect x="425.5" y="189.8" width="1.2" height="0.6" fill="#8a1c10" opacity="0.29"/>
<rect x="377.9" y="211.3" width="0.9" height="0.8" fill="#8a1c10" opacity="0.29"/>
<rect x="405.0" y="176.0" width="0.9" height="0.9" fill="#8a1c10" opacity="0.13"/>
<rect x="392.1" y="189.9" width="0.9" height="0.8" fill="#8a1c10" opacity="0.13"/>
<rect x="377.7" y="231.7" width="1.0" height="0.7" fill="#8a1c10" opacity="0.20"/>
<rect x="444.0" y="233.3" width="0.8" height="1.1" fill="#8a1c10" opacity="0.11"/>
<rect x="424.8" y="238.5" width="1.2" height="1.1" fill="#8a1c10" opacity="0.17"/>
<rect x="396.9" y="214.5" width="1.2" height="1.0" fill="#8a1c10" opacity="0.27"/>
<rect x="416.4" y="176.4" width="1.2" height="0.9" fill="#8a1c10" opacity="0.13"/>
<rect x="388.0" y="211.8" width="1.1" height="0.9" fill="#8a1c10" opacity="0.23"/>
<rect x="406.2" y="209.0" width="1.0" height="0.9" fill="#8a1c10" opacity="0.25"/>
<rect x="409.6" y="176.0" width="1.1" height="1.3" fill="#8a1c10" opacity="0.09"/>
<rect x="416.7" y="201.1" width="1.0" height="1.3" fill="#8a1c10" opacity="0.12"/>
<rect x="428.8" y="211.2" width="0.8" height="1.0" fill="#8a1c10" opacity="0.27"/>
<rect x="441.3" y="213.8" width="0.8" height="1.0" fill="#8a1c10" opacity="0.18"/>
<rect x="441.6" y="174.4" width="1.2" height="1.2" fill="#8a1c10" opacity="0.25"/>
<rect x="426.8" y="229.7" width="1.0" height="0.9" fill="#8a1c10" opacity="0.19"/>
<rect x="380.0" y="233.9" width="0.7" height="1.0" fill="#8a1c10" opacity="0.21"/>
<rect x="409.3" y="198.6" width="1.0" height="1.0" fill="#8a1c10" opacity="0.16"/>
<rect x="418.0" y="205.6" width="0.8" height="0.7" fill="#8a1c10" opacity="0.09"/>
<rect x="416.1" y="233.3" width="1.2" height="1.2" fill="#8a1c10" opacity="0.26"/>
<rect x="393.6" y="232.0" width="0.7" height="0.6" fill="#8a1c10" opacity="0.23"/>
<rect x="377.2" y="226.1" width="0.7" height="1.0" fill="#8a1c10" opacity="0.13"/>
<rect x="399.7" y="178.8" width="1.0" height="0.7" fill="#8a1c10" opacity="0.12"/>
<rect x="394.8" y="223.0" width="0.8" height="0.9" fill="#8a1c10" opacity="0.18"/>
<rect x="377.8" y="200.6" width="0.7" height="0.7" fill="#8a1c10" opacity="0.17"/>
<rect x="437.7" y="209.1" width="1.0" height="1.2" fill="#8a1c10" opacity="0.13"/>
<rect x="377.6" y="175.2" width="1.1" height="0.7" fill="#8a1c10" opacity="0.11"/>
<rect x="424.3" y="220.7" width="0.8" height="1.3" fill="#8a1c10" opacity="0.20"/>
<rect x="430.7" y="209.6" width="1.1" height="0.9" fill="#8a1c10" opacity="0.13"/>
<rect x="415.5" y="196.1" width="0.6" height="0.8" fill="#8a1c10" opacity="0.22"/>
<rect x="442.3" y="234.3" width="1.2" height="0.8" fill="#8a1c10" opacity="0.15"/>
<rect x="440.4" y="225.3" width="0.8" height="0.6" fill="#8a1c10" opacity="0.17"/>
<rect x="436.2" y="176.6" width="1.3" height="1.0" fill="#8a1c10" opacity="0.26"/>
<rect x="387.9" y="233.8" width="1.1" height="1.0" fill="#8a1c10" opacity="0.29"/>
<rect x="402.0" y="197.9" width="1.1" height="0.9" fill="#8a1c10" opacity="0.13"/>
<rect x="389.5" y="181.2" width="0.8" height="0.9" fill="#8a1c10" opacity="0.23"/>
<rect x="398.4" y="234.1" width="0.6" height="0.7" fill="#8a1c10" opacity="0.28"/>
<rect x="398.6" y="242.0" width="0.8" height="0.7" fill="#8a1c10" opacity="0.25"/>
<rect x="422.3" y="231.7" width="0.8" height="1.2" fill="#8a1c10" opacity="0.29"/>
<rect x="423.1" y="207.4" width="0.8" height="1.1" fill="#8a1c10" opacity="0.30"/>
<rect x="382.0" y="185.7" width="0.7" height="1.1" fill="#8a1c10" opacity="0.28"/>
<rect x="417.2" y="232.0" width="0.8" height="0.8" fill="#8a1c10" opacity="0.16"/>
<rect x="435.4" y="215.6" width="1.2" height="0.7" fill="#8a1c10" opacity="0.29"/>
<rect x="413.8" y="181.2" width="0.7" height="1.2" fill="#8a1c10" opacity="0.09"/>
<rect x="430.0" y="231.1" width="1.0" height="1.1" fill="#8a1c10" opacity="0.15"/>
<rect x="402.0" y="213.3" width="0.7" height="0.8" fill="#8a1c10" opacity="0.13"/>
<rect x="437.0" y="212.9" width="0.9" height="0.8" fill="#8a1c10" opacity="0.28"/>
<rect x="430.0" y="231.0" width="1.1" height="0.7" fill="#8a1c10" opacity="0.08"/>
<rect x="384.1" y="235.0" width="0.8" height="1.3" fill="#8a1c10" opacity="0.09"/>
<rect x="405.0" y="182.0" width="0.8" height="1.1" fill="#8a1c10" opacity="0.12"/>
<rect x="383.2" y="236.8" width="1.3" height="1.2" fill="#8a1c10" opacity="0.16"/>
<rect x="396.3" y="191.5" width="0.7" height="1.1" fill="#8a1c10" opacity="0.18"/>
<rect x="378.9" y="174.7" width="0.8" height="1.0" fill="#8a1c10" opacity="0.30"/>
<rect x="406.9" y="195.6" width="1.2" height="1.3" fill="#8a1c10" opacity="0.09"/>
<rect x="442.4" y="181.7" width="1.0" height="1.3" fill="#8a1c10" opacity="0.13"/>
<rect x="413.3" y="221.4" width="0.8" height="1.0" fill="#8a1c10" opacity="0.23"/>
<rect x="397.2" y="191.0" width="0.8" height="1.3" fill="#8a1c10" opacity="0.10"/>
<rect x="406.8" y="218.9" width="1.3" height="0.9" fill="#8a1c10" opacity="0.22"/>
<rect x="397.2" y="196.5" width="1.2" height="1.2" fill="#8a1c10" opacity="0.15"/>
<rect x="396.9" y="197.0" width="1.0" height="1.0" fill="#8a1c10" opacity="0.20"/>
<rect x="392.9" y="175.4" width="0.7" height="1.0" fill="#8a1c10" opacity="0.13"/>
<rect x="381.0" y="179.2" width="0.8" height="1.2" fill="#8a1c10" opacity="0.22"/>
<rect x="409.9" y="233.4" width="1.0" height="1.2" fill="#8a1c10" opacity="0.11"/>
<rect x="381.5" y="239.4" width="1.1" height="1.3" fill="#8a1c10" opacity="0.12"/>
<rect x="432.3" y="196.0" width="1.0" height="1.2" fill="#8a1c10" opacity="0.10"/>
<rect x="396.2" y="235.6" width="1.2" height="0.6" fill="#8a1c10" opacity="0.11"/>
<rect x="397.8" y="236.2" width="1.2" height="1.2" fill="#8a1c10" opacity="0.26"/>
<rect x="427.2" y="221.5" width="0.9" height="0.7" fill="#8a1c10" opacity="0.12"/>
<rect x="425.0" y="220.0" width="0.6" height="1.3" fill="#8a1c10" opacity="0.14"/>
<rect x="431.4" y="211.8" width="1.2" height="0.9" fill="#8a1c10" opacity="0.20"/>
<rect x="403.2" y="197.3" width="0.6" height="1.1" fill="#8a1c10" opacity="0.14"/>
<rect x="404.7" y="213.3" width="0.8" height="0.7" fill="#8a1c10" opacity="0.09"/>
<rect x="384.7" y="191.9" width="0.9" height="0.9" fill="#8a1c10" opacity="0.26"/>
<rect x="418.0" y="190.1" width="1.0" height="1.0" fill="#8a1c10" opacity="0.08"/>
<rect x="420.5" y="204.2" width="1.1" height="0.8" fill="#8a1c10" opacity="0.23"/>
<rect x="410.0" y="207.0" width="0.9" height="1.0" fill="#8a1c10" opacity="0.13"/>
<rect x="438.1" y="237.2" width="1.1" height="0.6" fill="#8a1c10" opacity="0.14"/>
<rect x="381.1" y="209.3" width="0.7" height="1.1" fill="#8a1c10" opacity="0.27"/>
<rect x="436.5" y="195.5" width="1.2" height="0.9" fill="#8a1c10" opacity="0.23"/>
<rect x="424.1" y="224.7" width="1.2" height="1.2" fill="#8a1c10" opacity="0.21"/>
<rect x="441.8" y="213.4" width="0.8" height="0.8" fill="#8a1c10" opacity="0.12"/>
<rect x="415.1" y="226.2" width="1.1" height="1.1" fill="#8a1c10" opacity="0.09"/>
<rect x="400.0" y="209.5" width="1.1" height="0.6" fill="#8a1c10" opacity="0.12"/>
<rect x="443.2" y="229.7" width="0.8" height="1.2" fill="#8a1c10" opacity="0.22"/>
<rect x="441.7" y="183.6" width="1.2" height="1.1" fill="#8a1c10" opacity="0.25"/>
<rect x="424.0" y="204.7" width="1.3" height="0.9" fill="#8a1c10" opacity="0.28"/>
<rect x="431.0" y="203.8" width="0.8" height="0.7" fill="#8a1c10" opacity="0.12"/>
<rect x="438.3" y="240.1" width="1.0" height="0.9" fill="#8a1c10" opacity="0.11"/>
<rect x="384.3" y="194.4" width="1.1" height="0.6" fill="#8a1c10" opacity="0.13"/>
<rect x="389.2" y="204.2" width="1.0" height="1.0" fill="#8a1c10" opacity="0.08"/>
<rect x="433.3" y="188.2" width="1.0" height="0.8" fill="#8a1c10" opacity="0.14"/>
<rect x="416.2" y="191.3" width="1.2" height="1.2" fill="#8a1c10" opacity="0.23"/>
<rect x="442.7" y="211.6" width="1.2" height="1.1" fill="#8a1c10" opacity="0.19"/>
<rect x="415.2" y="200.4" width="0.7" height="1.2" fill="#8a1c10" opacity="0.14"/>
<rect x="384.3" y="225.5" width="1.3" height="1.1" fill="#8a1c10" opacity="0.20"/>
<rect x="442.7" y="183.4" width="1.0" height="0.8" fill="#8a1c10" opacity="0.19"/>
<rect x="410.6" y="198.6" width="0.6" height="0.9" fill="#8a1c10" opacity="0.20"/>
<rect x="406.9" y="195.0" width="1.1" height="1.1" fill="#8a1c10" opacity="0.17"/>
<rect x="409.8" y="218.6" width="0.7" height="0.6" fill="#8a1c10" opacity="0.16"/>
<rect x="395.2" y="215.2" width="1.2" height="1.0" fill="#8a1c10" opacity="0.27"/>
<rect x="443.6" y="205.8" width="0.9" height="1.1" fill="#8a1c10" opacity="0.26"/>
<rect x="443.7" y="195.0" width="1.0" height="1.0" fill="#8a1c10" opacity="0.12"/>
<rect x="400.7" y="174.2" width="0.9" height="0.9" fill="#8a1c10" opacity="0.17"/>
<rect x="435.0" y="214.3" width="1.2" height="1.1" fill="#8a1c10" opacity="0.24"/>
<rect x="409.9" y="225.4" width="1.1" height="1.0" fill="#8a1c10" opacity="0.22"/>
<rect x="404.0" y="217.4" width="1.3" height="1.1" fill="#8a1c10" opacity="0.22"/>
<rect x="434.0" y="226.9" width="1.0" height="0.8" fill="#8a1c10" opacity="0.26"/>
<rect x="394.3" y="222.8" width="1.0" height="0.7" fill="#8a1c10" opacity="0.27"/>
<rect x="433.1" y="207.4" width="0.6" height="1.0" fill="#8a1c10" opacity="0.18"/>
<rect x="427.1" y="203.1" width="1.1" height="0.6" fill="#8a1c10" opacity="0.16"/>
<rect x="410.8" y="239.2" width="0.9" height="1.1" fill="#8a1c10" opacity="0.23"/>
<rect x="417.5" y="188.4" width="1.2" height="0.8" fill="#8a1c10" opacity="0.13"/>
<rect x="381.3" y="231.2" width="0.9" height="1.0" fill="#8a1c10" opacity="0.20"/>
<rect x="426.5" y="185.6" width="1.1" height="1.2" fill="#8a1c10" opacity="0.22"/>
<rect x="394.6" y="216.0" width="1.0" height="0.7" fill="#8a1c10" opacity="0.13"/>
<rect x="430.1" y="233.7" width="0.8" height="1.3" fill="#8a1c10" opacity="0.15"/>
<!--cell01-->
</g>
<rect x="447.90" y="173.00" width="70.10" height="70.90" fill="#140404" stroke="none" stroke-width="1" />
<clipPath id="cp02"><rect x="447.9" y="173" width="70.1" height="70.9"/></clipPath>
<g clip-path="url(#cp02)">
<rect x="514.0" y="239.3" width="0.7" height="1.2" fill="#8a1c10" opacity="0.09"/>
<rect x="499.0" y="220.1" width="1.0" height="1.0" fill="#8a1c10" opacity="0.15"/>
<rect x="488.5" y="184.9" width="0.9" height="1.1" fill="#8a1c10" opacity="0.17"/>
<rect x="516.6" y="239.4" width="0.9" height="0.8" fill="#8a1c10" opacity="0.20"/>
<rect x="451.3" y="175.9" width="0.8" height="0.9" fill="#8a1c10" opacity="0.18"/>
<rect x="509.6" y="210.2" width="0.8" height="0.6" fill="#8a1c10" opacity="0.20"/>
<rect x="471.0" y="183.4" width="1.3" height="1.1" fill="#8a1c10" opacity="0.19"/>
<rect x="461.3" y="235.6" width="1.1" height="1.2" fill="#8a1c10" opacity="0.26"/>
<rect x="500.9" y="228.4" width="1.3" height="1.3" fill="#8a1c10" opacity="0.16"/>
<rect x="459.9" y="226.0" width="0.9" height="1.0" fill="#8a1c10" opacity="0.24"/>
<rect x="482.3" y="237.7" width="1.2" height="0.8" fill="#8a1c10" opacity="0.19"/>
<rect x="509.0" y="236.0" width="1.0" height="1.2" fill="#8a1c10" opacity="0.18"/>
<rect x="498.2" y="207.5" width="0.8" height="1.1" fill="#8a1c10" opacity="0.13"/>
<rect x="460.2" y="236.6" width="1.2" height="0.8" fill="#8a1c10" opacity="0.14"/>
<rect x="514.1" y="222.7" width="1.0" height="1.1" fill="#8a1c10" opacity="0.19"/>
<rect x="488.9" y="195.5" width="1.0" height="1.3" fill="#8a1c10" opacity="0.13"/>
<rect x="491.3" y="179.2" width="1.1" height="1.2" fill="#8a1c10" opacity="0.26"/>
<rect x="461.9" y="225.3" width="1.1" height="0.8" fill="#8a1c10" opacity="0.09"/>
<rect x="464.3" y="234.3" width="1.0" height="1.2" fill="#8a1c10" opacity="0.10"/>
<rect x="465.6" y="188.5" width="0.9" height="1.1" fill="#8a1c10" opacity="0.27"/>
<rect x="451.1" y="199.0" width="1.1" height="0.7" fill="#8a1c10" opacity="0.12"/>
<rect x="513.9" y="175.7" width="0.6" height="0.8" fill="#8a1c10" opacity="0.24"/>
<rect x="504.3" y="184.8" width="1.1" height="0.9" fill="#8a1c10" opacity="0.12"/>
<rect x="451.8" y="242.2" width="0.6" height="0.8" fill="#8a1c10" opacity="0.11"/>
<rect x="490.8" y="225.2" width="0.8" height="0.6" fill="#8a1c10" opacity="0.10"/>
<rect x="479.5" y="226.8" width="1.2" height="1.1" fill="#8a1c10" opacity="0.24"/>
<rect x="507.6" y="222.6" width="0.8" height="1.1" fill="#8a1c10" opacity="0.18"/>
<rect x="470.4" y="181.0" width="1.2" height="0.7" fill="#8a1c10" opacity="0.18"/>
<rect x="488.7" y="201.1" width="0.7" height="1.3" fill="#8a1c10" opacity="0.19"/>
<rect x="466.5" y="215.8" width="0.6" height="1.0" fill="#8a1c10" opacity="0.17"/>
<rect x="458.5" y="177.9" width="0.7" height="0.7" fill="#8a1c10" opacity="0.09"/>
<rect x="492.1" y="209.0" width="1.3" height="1.3" fill="#8a1c10" opacity="0.30"/>
<rect x="464.7" y="204.6" width="1.0" height="1.0" fill="#8a1c10" opacity="0.14"/>
<rect x="503.4" y="222.9" width="0.9" height="1.0" fill="#8a1c10" opacity="0.14"/>
<rect x="449.2" y="176.4" width="0.7" height="1.1" fill="#8a1c10" opacity="0.17"/>
<rect x="465.3" y="180.9" width="0.8" height="0.8" fill="#8a1c10" opacity="0.12"/>
<rect x="484.4" y="206.0" width="1.0" height="0.7" fill="#8a1c10" opacity="0.15"/>
<rect x="510.6" y="240.4" width="0.9" height="1.0" fill="#8a1c10" opacity="0.24"/>
<rect x="488.5" y="177.5" width="1.0" height="0.7" fill="#8a1c10" opacity="0.17"/>
<rect x="455.3" y="229.3" width="1.0" height="1.2" fill="#8a1c10" opacity="0.16"/>
<rect x="490.5" y="194.0" width="0.9" height="0.6" fill="#8a1c10" opacity="0.30"/>
<rect x="495.6" y="181.0" width="1.2" height="1.1" fill="#8a1c10" opacity="0.15"/>
<rect x="450.0" y="205.1" width="0.9" height="0.7" fill="#8a1c10" opacity="0.17"/>
<rect x="489.0" y="179.1" width="0.9" height="1.3" fill="#8a1c10" opacity="0.14"/>
<rect x="454.1" y="226.0" width="1.0" height="0.9" fill="#8a1c10" opacity="0.12"/>
<rect x="480.4" y="225.9" width="0.7" height="0.7" fill="#8a1c10" opacity="0.17"/>
<rect x="454.4" y="232.6" width="1.3" height="1.1" fill="#8a1c10" opacity="0.22"/>
<rect x="450.6" y="219.4" width="1.1" height="0.9" fill="#8a1c10" opacity="0.25"/>
<rect x="473.3" y="205.5" width="0.8" height="1.0" fill="#8a1c10" opacity="0.26"/>
<rect x="481.4" y="239.8" width="1.3" height="1.2" fill="#8a1c10" opacity="0.26"/>
<rect x="469.1" y="190.0" width="0.8" height="0.9" fill="#8a1c10" opacity="0.19"/>
<rect x="495.1" y="237.3" width="1.2" height="0.7" fill="#8a1c10" opacity="0.21"/>
<rect x="473.1" y="242.7" width="0.9" height="0.6" fill="#8a1c10" opacity="0.11"/>
<rect x="454.8" y="235.7" width="1.1" height="0.7" fill="#8a1c10" opacity="0.30"/>
<rect x="469.1" y="190.0" width="1.1" height="0.9" fill="#8a1c10" opacity="0.23"/>
<rect x="484.6" y="181.7" width="1.3" height="1.1" fill="#8a1c10" opacity="0.20"/>
<rect x="455.4" y="209.6" width="0.8" height="1.2" fill="#8a1c10" opacity="0.24"/>
<rect x="480.3" y="222.5" width="1.3" height="1.1" fill="#8a1c10" opacity="0.17"/>
<rect x="488.0" y="184.0" width="0.6" height="1.0" fill="#8a1c10" opacity="0.18"/>
<rect x="509.0" y="186.4" width="0.9" height="0.9" fill="#8a1c10" opacity="0.19"/>
<rect x="497.3" y="238.5" width="0.9" height="1.3" fill="#8a1c10" opacity="0.24"/>
<rect x="471.4" y="225.4" width="1.1" height="1.2" fill="#8a1c10" opacity="0.22"/>
<rect x="464.2" y="216.8" width="1.1" height="1.3" fill="#8a1c10" opacity="0.17"/>
<rect x="492.1" y="174.8" width="1.1" height="1.2" fill="#8a1c10" opacity="0.18"/>
<rect x="493.2" y="230.2" width="1.3" height="1.1" fill="#8a1c10" opacity="0.08"/>
<rect x="490.2" y="236.4" width="0.7" height="1.2" fill="#8a1c10" opacity="0.27"/>
<rect x="501.1" y="187.7" width="1.0" height="0.7" fill="#8a1c10" opacity="0.24"/>
<rect x="503.7" y="183.5" width="0.9" height="0.8" fill="#8a1c10" opacity="0.21"/>
<rect x="487.5" y="206.2" width="1.3" height="0.7" fill="#8a1c10" opacity="0.13"/>
<rect x="449.1" y="207.4" width="1.1" height="1.1" fill="#8a1c10" opacity="0.26"/>
<rect x="481.9" y="220.5" width="0.8" height="1.0" fill="#8a1c10" opacity="0.15"/>
<rect x="450.8" y="179.5" width="0.7" height="1.1" fill="#8a1c10" opacity="0.25"/>
<rect x="502.3" y="201.9" width="1.2" height="1.2" fill="#8a1c10" opacity="0.23"/>
<rect x="458.1" y="185.2" width="0.9" height="0.8" fill="#8a1c10" opacity="0.16"/>
<rect x="449.6" y="212.4" width="0.9" height="1.0" fill="#8a1c10" opacity="0.29"/>
<rect x="474.9" y="204.5" width="0.8" height="1.1" fill="#8a1c10" opacity="0.27"/>
<rect x="481.8" y="211.1" width="0.7" height="1.2" fill="#8a1c10" opacity="0.28"/>
<rect x="469.6" y="218.5" width="1.1" height="0.9" fill="#8a1c10" opacity="0.26"/>
<rect x="506.2" y="180.4" width="0.9" height="1.0" fill="#8a1c10" opacity="0.22"/>
<rect x="506.8" y="229.0" width="0.8" height="0.8" fill="#8a1c10" opacity="0.22"/>
<rect x="480.1" y="190.0" width="1.3" height="0.7" fill="#8a1c10" opacity="0.14"/>
<rect x="504.6" y="200.1" width="0.8" height="0.7" fill="#8a1c10" opacity="0.16"/>
<rect x="480.0" y="185.5" width="0.8" height="1.2" fill="#8a1c10" opacity="0.18"/>
<rect x="511.7" y="204.5" width="1.3" height="0.8" fill="#8a1c10" opacity="0.22"/>
<rect x="455.7" y="190.4" width="1.1" height="0.9" fill="#8a1c10" opacity="0.12"/>
<rect x="473.2" y="228.8" width="1.2" height="1.0" fill="#8a1c10" opacity="0.13"/>
<rect x="476.2" y="230.7" width="1.2" height="1.2" fill="#8a1c10" opacity="0.16"/>
<rect x="483.1" y="221.5" width="1.1" height="1.1" fill="#8a1c10" opacity="0.29"/>
<rect x="508.1" y="238.5" width="1.3" height="0.8" fill="#8a1c10" opacity="0.25"/>
<rect x="491.3" y="220.2" width="0.9" height="0.7" fill="#8a1c10" opacity="0.16"/>
<rect x="514.1" y="198.4" width="1.2" height="0.7" fill="#8a1c10" opacity="0.18"/>
<rect x="514.3" y="182.8" width="0.8" height="0.9" fill="#8a1c10" opacity="0.09"/>
<rect x="511.4" y="234.9" width="0.9" height="1.0" fill="#8a1c10" opacity="0.25"/>
<rect x="465.0" y="231.4" width="0.8" height="1.0" fill="#8a1c10" opacity="0.17"/>
<rect x="459.2" y="195.8" width="0.7" height="0.7" fill="#8a1c10" opacity="0.28"/>
<rect x="462.8" y="191.3" width="0.8" height="0.8" fill="#8a1c10" opacity="0.17"/>
<rect x="465.7" y="190.5" width="0.8" height="0.9" fill="#8a1c10" opacity="0.21"/>
<rect x="501.2" y="178.3" width="1.2" height="0.9" fill="#8a1c10" opacity="0.11"/>
<rect x="501.9" y="183.1" width="1.2" height="0.8" fill="#8a1c10" opacity="0.20"/>
<rect x="501.2" y="216.1" width="1.3" height="0.9" fill="#8a1c10" opacity="0.17"/>
<rect x="481.2" y="216.7" width="1.2" height="1.0" fill="#8a1c10" opacity="0.15"/>
<rect x="488.9" y="211.1" width="1.3" height="1.2" fill="#8a1c10" opacity="0.30"/>
<rect x="479.9" y="202.4" width="0.6" height="0.7" fill="#8a1c10" opacity="0.20"/>
<rect x="516.7" y="182.8" width="1.1" height="1.2" fill="#8a1c10" opacity="0.29"/>
<rect x="454.2" y="195.1" width="0.6" height="0.7" fill="#8a1c10" opacity="0.26"/>
<rect x="472.8" y="185.9" width="1.1" height="0.7" fill="#8a1c10" opacity="0.11"/>
<rect x="515.1" y="218.7" width="1.2" height="0.8" fill="#8a1c10" opacity="0.09"/>
<rect x="481.7" y="212.5" width="1.0" height="0.6" fill="#8a1c10" opacity="0.11"/>
<rect x="462.5" y="237.3" width="1.0" height="1.1" fill="#8a1c10" opacity="0.26"/>
<rect x="508.5" y="183.6" width="0.7" height="0.7" fill="#8a1c10" opacity="0.19"/>
<rect x="456.3" y="188.6" width="0.8" height="0.9" fill="#8a1c10" opacity="0.09"/>
<rect x="491.3" y="233.2" width="1.1" height="1.0" fill="#8a1c10" opacity="0.28"/>
<rect x="511.3" y="185.2" width="1.2" height="1.0" fill="#8a1c10" opacity="0.10"/>
<rect x="463.2" y="200.0" width="0.9" height="0.9" fill="#8a1c10" opacity="0.15"/>
<rect x="476.0" y="229.0" width="1.0" height="0.9" fill="#8a1c10" opacity="0.26"/>
<rect x="468.3" y="226.7" width="0.8" height="1.1" fill="#8a1c10" opacity="0.30"/>
<rect x="496.5" y="219.4" width="1.0" height="0.7" fill="#8a1c10" opacity="0.09"/>
<rect x="462.1" y="213.9" width="1.0" height="1.1" fill="#8a1c10" opacity="0.22"/>
<rect x="496.8" y="206.7" width="1.1" height="1.2" fill="#8a1c10" opacity="0.09"/>
<rect x="505.8" y="215.2" width="0.7" height="0.7" fill="#8a1c10" opacity="0.09"/>
<!--cell02-->
</g>
<rect x="302.00" y="246.90" width="70.90" height="70.40" fill="#050101" stroke="none" stroke-width="1" />
<clipPath id="cp10"><rect x="302" y="246.9" width="70.9" height="70.4"/></clipPath>
<g clip-path="url(#cp10)">
<rect x="342.4" y="277.2" width="0.7" height="1.2" fill="#8a1c10" opacity="0.21"/>
<rect x="359.7" y="292.6" width="1.0" height="0.8" fill="#8a1c10" opacity="0.12"/>
<rect x="320.2" y="313.1" width="0.6" height="1.2" fill="#8a1c10" opacity="0.30"/>
<rect x="344.6" y="274.0" width="1.1" height="0.9" fill="#8a1c10" opacity="0.14"/>
<rect x="350.3" y="293.2" width="1.1" height="1.3" fill="#8a1c10" opacity="0.11"/>
<rect x="369.8" y="289.9" width="0.6" height="0.7" fill="#8a1c10" opacity="0.09"/>
<rect x="367.8" y="268.6" width="1.2" height="0.8" fill="#8a1c10" opacity="0.16"/>
<rect x="340.8" y="277.7" width="1.0" height="1.2" fill="#8a1c10" opacity="0.09"/>
<rect x="313.8" y="263.2" width="0.6" height="0.9" fill="#8a1c10" opacity="0.17"/>
<rect x="359.4" y="292.9" width="1.2" height="0.7" fill="#8a1c10" opacity="0.20"/>
<rect x="342.1" y="273.5" width="0.7" height="1.1" fill="#8a1c10" opacity="0.21"/>
<rect x="309.7" y="259.3" width="1.3" height="0.9" fill="#8a1c10" opacity="0.26"/>
<rect x="331.5" y="264.7" width="1.0" height="0.7" fill="#8a1c10" opacity="0.14"/>
<rect x="311.2" y="279.1" width="1.1" height="1.2" fill="#8a1c10" opacity="0.12"/>
<rect x="356.6" y="280.7" width="0.9" height="0.6" fill="#8a1c10" opacity="0.16"/>
<rect x="352.1" y="270.6" width="0.7" height="0.9" fill="#8a1c10" opacity="0.15"/>
<rect x="343.2" y="274.6" width="1.1" height="0.8" fill="#8a1c10" opacity="0.27"/>
<rect x="339.2" y="310.2" width="1.0" height="0.6" fill="#8a1c10" opacity="0.19"/>
<rect x="336.7" y="279.5" width="0.9" height="1.0" fill="#8a1c10" opacity="0.17"/>
<rect x="340.1" y="281.4" width="0.9" height="1.3" fill="#8a1c10" opacity="0.12"/>
<rect x="331.6" y="250.3" width="1.0" height="0.6" fill="#8a1c10" opacity="0.08"/>
<rect x="309.4" y="255.3" width="1.3" height="0.9" fill="#8a1c10" opacity="0.18"/>
<rect x="334.6" y="277.8" width="0.9" height="1.1" fill="#8a1c10" opacity="0.19"/>
<rect x="364.9" y="295.6" width="1.1" height="1.2" fill="#8a1c10" opacity="0.17"/>
<rect x="313.6" y="264.1" width="1.1" height="1.0" fill="#8a1c10" opacity="0.22"/>
<rect x="343.5" y="304.6" width="1.2" height="1.3" fill="#8a1c10" opacity="0.19"/>
<rect x="333.0" y="306.6" width="1.2" height="0.6" fill="#8a1c10" opacity="0.24"/>
<rect x="365.9" y="300.4" width="1.3" height="0.8" fill="#8a1c10" opacity="0.29"/>
<rect x="349.2" y="257.6" width="1.2" height="0.7" fill="#8a1c10" opacity="0.21"/>
<rect x="327.1" y="253.4" width="0.7" height="0.7" fill="#8a1c10" opacity="0.12"/>
<rect x="371.9" y="308.6" width="1.1" height="1.1" fill="#8a1c10" opacity="0.18"/>
<rect x="339.0" y="276.9" width="1.0" height="0.8" fill="#8a1c10" opacity="0.23"/>
<rect x="328.1" y="290.8" width="0.7" height="1.0" fill="#8a1c10" opacity="0.22"/>
<rect x="363.3" y="307.5" width="0.6" height="0.9" fill="#8a1c10" opacity="0.22"/>
<rect x="309.1" y="251.7" width="0.9" height="1.1" fill="#8a1c10" opacity="0.14"/>
<rect x="346.3" y="267.2" width="1.0" height="1.0" fill="#8a1c10" opacity="0.23"/>
<rect x="321.2" y="278.1" width="1.1" height="0.9" fill="#8a1c10" opacity="0.16"/>
<rect x="333.8" y="280.5" width="1.1" height="1.1" fill="#8a1c10" opacity="0.19"/>
<rect x="358.2" y="275.6" width="1.3" height="1.3" fill="#8a1c10" opacity="0.25"/>
<rect x="352.7" y="252.4" width="1.2" height="0.6" fill="#8a1c10" opacity="0.27"/>
<rect x="325.6" y="269.9" width="1.0" height="0.8" fill="#8a1c10" opacity="0.24"/>
<rect x="315.8" y="259.4" width="1.2" height="1.3" fill="#8a1c10" opacity="0.10"/>
<rect x="318.1" y="298.9" width="0.7" height="1.0" fill="#8a1c10" opacity="0.29"/>
<rect x="333.3" y="314.6" width="0.6" height="0.7" fill="#8a1c10" opacity="0.27"/>
<rect x="361.4" y="287.2" width="1.2" height="1.1" fill="#8a1c10" opacity="0.20"/>
<rect x="368.8" y="270.2" width="1.1" height="0.6" fill="#8a1c10" opacity="0.09"/>
<rect x="341.9" y="306.7" width="1.0" height="0.7" fill="#8a1c10" opacity="0.17"/>
<rect x="313.9" y="289.4" width="1.3" height="0.6" fill="#8a1c10" opacity="0.27"/>
<rect x="366.5" y="282.9" width="0.9" height="1.0" fill="#8a1c10" opacity="0.16"/>
<rect x="327.0" y="257.9" width="1.1" height="1.0" fill="#8a1c10" opacity="0.27"/>
<rect x="352.8" y="315.3" width="1.2" height="1.2" fill="#8a1c10" opacity="0.12"/>
<rect x="326.7" y="286.1" width="0.7" height="0.9" fill="#8a1c10" opacity="0.18"/>
<rect x="313.5" y="311.7" width="1.0" height="1.0" fill="#8a1c10" opacity="0.12"/>
<rect x="370.2" y="302.2" width="0.9" height="0.6" fill="#8a1c10" opacity="0.16"/>
<rect x="306.6" y="269.2" width="0.6" height="0.7" fill="#8a1c10" opacity="0.29"/>
<rect x="346.8" y="272.6" width="1.3" height="0.6" fill="#8a1c10" opacity="0.12"/>
<rect x="344.2" y="277.2" width="0.7" height="0.7" fill="#8a1c10" opacity="0.16"/>
<rect x="330.9" y="299.4" width="1.1" height="1.2" fill="#8a1c10" opacity="0.18"/>
<rect x="314.9" y="308.1" width="0.9" height="1.0" fill="#8a1c10" opacity="0.21"/>
<rect x="364.3" y="274.7" width="1.3" height="0.7" fill="#8a1c10" opacity="0.10"/>
<rect x="310.4" y="297.3" width="0.8" height="1.1" fill="#8a1c10" opacity="0.15"/>
<rect x="364.4" y="271.5" width="1.0" height="1.0" fill="#8a1c10" opacity="0.28"/>
<rect x="339.7" y="248.7" width="1.1" height="1.1" fill="#8a1c10" opacity="0.11"/>
<rect x="309.7" y="291.5" width="1.0" height="0.9" fill="#8a1c10" opacity="0.18"/>
<rect x="318.0" y="272.2" width="0.7" height="1.2" fill="#8a1c10" opacity="0.29"/>
<rect x="339.6" y="253.0" width="0.6" height="1.2" fill="#8a1c10" opacity="0.26"/>
<rect x="326.3" y="310.7" width="0.9" height="1.0" fill="#8a1c10" opacity="0.24"/>
<rect x="371.0" y="259.6" width="0.8" height="1.2" fill="#8a1c10" opacity="0.13"/>
<rect x="320.0" y="264.8" width="1.0" height="0.9" fill="#8a1c10" opacity="0.22"/>
<rect x="341.0" y="250.0" width="0.6" height="0.6" fill="#8a1c10" opacity="0.08"/>
<rect x="356.1" y="314.9" width="0.9" height="0.6" fill="#8a1c10" opacity="0.11"/>
<rect x="332.9" y="293.2" width="1.2" height="1.0" fill="#8a1c10" opacity="0.22"/>
<rect x="306.6" y="273.6" width="0.8" height="0.6" fill="#8a1c10" opacity="0.18"/>
<rect x="346.2" y="281.3" width="0.9" height="0.6" fill="#8a1c10" opacity="0.24"/>
<rect x="321.3" y="259.9" width="0.7" height="0.7" fill="#8a1c10" opacity="0.18"/>
<rect x="339.2" y="257.5" width="0.7" height="1.1" fill="#8a1c10" opacity="0.10"/>
<rect x="358.6" y="303.3" width="1.0" height="1.1" fill="#8a1c10" opacity="0.21"/>
<rect x="332.5" y="282.8" width="1.0" height="1.0" fill="#8a1c10" opacity="0.24"/>
<rect x="347.5" y="284.5" width="0.8" height="1.1" fill="#8a1c10" opacity="0.13"/>
<rect x="331.9" y="306.6" width="1.1" height="0.7" fill="#8a1c10" opacity="0.16"/>
<rect x="323.6" y="306.1" width="1.0" height="0.6" fill="#8a1c10" opacity="0.12"/>
<rect x="345.0" y="278.8" width="1.2" height="1.1" fill="#8a1c10" opacity="0.28"/>
<rect x="326.3" y="293.7" width="0.9" height="0.9" fill="#8a1c10" opacity="0.11"/>
<rect x="335.4" y="266.6" width="1.0" height="1.1" fill="#8a1c10" opacity="0.13"/>
<rect x="341.8" y="313.1" width="0.7" height="1.0" fill="#8a1c10" opacity="0.20"/>
<rect x="324.8" y="312.1" width="0.9" height="1.1" fill="#8a1c10" opacity="0.11"/>
<rect x="369.8" y="283.6" width="1.1" height="1.2" fill="#8a1c10" opacity="0.16"/>
<rect x="366.0" y="297.2" width="1.3" height="1.3" fill="#8a1c10" opacity="0.11"/>
<rect x="333.0" y="293.0" width="1.2" height="1.1" fill="#8a1c10" opacity="0.26"/>
<rect x="309.2" y="252.5" width="0.9" height="0.8" fill="#8a1c10" opacity="0.16"/>
<rect x="354.6" y="300.1" width="1.1" height="0.7" fill="#8a1c10" opacity="0.17"/>
<rect x="368.6" y="264.4" width="0.9" height="1.2" fill="#8a1c10" opacity="0.11"/>
<rect x="344.2" y="294.8" width="0.9" height="1.3" fill="#8a1c10" opacity="0.26"/>
<rect x="371.0" y="284.5" width="1.2" height="1.0" fill="#8a1c10" opacity="0.24"/>
<rect x="312.0" y="292.8" width="1.2" height="0.7" fill="#8a1c10" opacity="0.18"/>
<rect x="303.8" y="260.1" width="0.9" height="0.7" fill="#8a1c10" opacity="0.12"/>
<rect x="326.0" y="288.2" width="0.9" height="0.8" fill="#8a1c10" opacity="0.11"/>
<rect x="303.3" y="294.0" width="1.1" height="1.2" fill="#8a1c10" opacity="0.19"/>
<rect x="306.3" y="296.7" width="1.2" height="0.7" fill="#8a1c10" opacity="0.18"/>
<rect x="360.8" y="277.3" width="0.9" height="1.2" fill="#8a1c10" opacity="0.10"/>
<rect x="308.1" y="273.8" width="0.6" height="1.2" fill="#8a1c10" opacity="0.10"/>
<rect x="340.9" y="286.9" width="0.7" height="1.3" fill="#8a1c10" opacity="0.28"/>
<rect x="354.9" y="306.1" width="0.9" height="0.6" fill="#8a1c10" opacity="0.26"/>
<rect x="371.7" y="291.2" width="1.1" height="0.8" fill="#8a1c10" opacity="0.24"/>
<rect x="348.3" y="278.7" width="0.9" height="0.9" fill="#8a1c10" opacity="0.13"/>
<rect x="323.8" y="299.2" width="1.0" height="0.6" fill="#8a1c10" opacity="0.28"/>
<rect x="340.5" y="291.1" width="0.8" height="0.8" fill="#8a1c10" opacity="0.26"/>
<rect x="328.8" y="258.9" width="0.6" height="1.0" fill="#8a1c10" opacity="0.25"/>
<rect x="360.4" y="250.1" width="1.3" height="0.8" fill="#8a1c10" opacity="0.12"/>
<rect x="355.9" y="249.8" width="0.6" height="0.8" fill="#8a1c10" opacity="0.18"/>
<rect x="304.2" y="294.4" width="0.8" height="0.9" fill="#8a1c10" opacity="0.18"/>
<rect x="349.9" y="265.6" width="0.6" height="1.1" fill="#8a1c10" opacity="0.11"/>
<rect x="348.8" y="264.3" width="1.3" height="0.9" fill="#8a1c10" opacity="0.19"/>
<rect x="355.8" y="271.9" width="1.1" height="1.1" fill="#8a1c10" opacity="0.20"/>
<rect x="344.2" y="268.1" width="0.9" height="1.1" fill="#8a1c10" opacity="0.09"/>
<rect x="327.8" y="297.6" width="0.6" height="1.0" fill="#8a1c10" opacity="0.18"/>
<rect x="340.8" y="269.9" width="1.3" height="1.0" fill="#8a1c10" opacity="0.12"/>
<rect x="352.9" y="250.8" width="0.7" height="0.9" fill="#8a1c10" opacity="0.24"/>
<rect x="330.1" y="274.5" width="0.7" height="1.3" fill="#8a1c10" opacity="0.25"/>
<rect x="361.6" y="281.5" width="1.0" height="1.2" fill="#8a1c10" opacity="0.27"/>
<!--cell10-->
</g>
<rect x="375.20" y="246.90" width="70.30" height="70.40" fill="#050000" stroke="none" stroke-width="1" />
<clipPath id="cp11"><rect x="375.2" y="246.9" width="70.3" height="70.4"/></clipPath>
<g clip-path="url(#cp11)">
<rect x="407.1" y="286.2" width="0.9" height="1.0" fill="#8a1c10" opacity="0.28"/>
<rect x="416.3" y="260.5" width="1.0" height="1.2" fill="#8a1c10" opacity="0.19"/>
<rect x="382.6" y="268.7" width="1.2" height="1.1" fill="#8a1c10" opacity="0.10"/>
<rect x="379.1" y="315.1" width="1.1" height="1.0" fill="#8a1c10" opacity="0.29"/>
<rect x="387.0" y="248.9" width="0.6" height="0.7" fill="#8a1c10" opacity="0.20"/>
<rect x="392.7" y="250.0" width="0.9" height="1.2" fill="#8a1c10" opacity="0.18"/>
<rect x="411.7" y="291.7" width="1.1" height="0.9" fill="#8a1c10" opacity="0.19"/>
<rect x="395.2" y="316.1" width="1.2" height="1.1" fill="#8a1c10" opacity="0.30"/>
<rect x="397.7" y="263.6" width="0.6" height="1.1" fill="#8a1c10" opacity="0.14"/>
<rect x="403.5" y="305.8" width="1.3" height="1.2" fill="#8a1c10" opacity="0.17"/>
<rect x="376.2" y="262.2" width="0.9" height="1.3" fill="#8a1c10" opacity="0.28"/>
<rect x="403.3" y="252.9" width="1.1" height="0.8" fill="#8a1c10" opacity="0.22"/>
<rect x="382.2" y="270.6" width="1.1" height="0.7" fill="#8a1c10" opacity="0.29"/>
<rect x="393.0" y="254.8" width="1.2" height="0.7" fill="#8a1c10" opacity="0.09"/>
<rect x="414.4" y="278.5" width="1.1" height="0.7" fill="#8a1c10" opacity="0.12"/>
<rect x="420.2" y="255.9" width="0.7" height="0.8" fill="#8a1c10" opacity="0.17"/>
<rect x="442.5" y="302.9" width="1.2" height="0.7" fill="#8a1c10" opacity="0.15"/>
<rect x="403.1" y="306.3" width="0.7" height="1.3" fill="#8a1c10" opacity="0.22"/>
<rect x="390.8" y="265.6" width="0.8" height="0.8" fill="#8a1c10" opacity="0.25"/>
<rect x="381.2" y="254.1" width="0.8" height="1.0" fill="#8a1c10" opacity="0.21"/>
<rect x="401.6" y="278.9" width="0.9" height="1.0" fill="#8a1c10" opacity="0.29"/>
<rect x="435.4" y="260.4" width="1.2" height="1.2" fill="#8a1c10" opacity="0.11"/>
<rect x="393.2" y="260.9" width="1.3" height="0.7" fill="#8a1c10" opacity="0.24"/>
<rect x="441.1" y="308.2" width="0.9" height="0.7" fill="#8a1c10" opacity="0.21"/>
<rect x="378.8" y="313.7" width="1.1" height="0.8" fill="#8a1c10" opacity="0.13"/>
<rect x="432.5" y="288.7" width="0.7" height="1.1" fill="#8a1c10" opacity="0.14"/>
<rect x="380.9" y="263.5" width="1.2" height="1.0" fill="#8a1c10" opacity="0.20"/>
<rect x="395.3" y="310.6" width="0.6" height="0.8" fill="#8a1c10" opacity="0.12"/>
<rect x="406.6" y="252.0" width="0.9" height="1.0" fill="#8a1c10" opacity="0.12"/>
<rect x="385.2" y="272.7" width="1.3" height="1.1" fill="#8a1c10" opacity="0.28"/>
<rect x="423.4" y="287.9" width="0.6" height="0.6" fill="#8a1c10" opacity="0.11"/>
<rect x="438.4" y="295.8" width="0.6" height="1.0" fill="#8a1c10" opacity="0.29"/>
<rect x="409.1" y="297.9" width="1.3" height="0.7" fill="#8a1c10" opacity="0.15"/>
<rect x="413.5" y="298.3" width="1.1" height="1.1" fill="#8a1c10" opacity="0.28"/>
<rect x="430.4" y="310.5" width="1.1" height="1.2" fill="#8a1c10" opacity="0.16"/>
<rect x="435.7" y="276.4" width="1.2" height="1.0" fill="#8a1c10" opacity="0.25"/>
<rect x="418.9" y="274.1" width="1.0" height="0.7" fill="#8a1c10" opacity="0.21"/>
<rect x="419.9" y="315.8" width="1.1" height="0.9" fill="#8a1c10" opacity="0.27"/>
<rect x="426.4" y="287.6" width="1.2" height="0.7" fill="#8a1c10" opacity="0.18"/>
<rect x="427.4" y="249.9" width="0.9" height="0.8" fill="#8a1c10" opacity="0.21"/>
<rect x="423.9" y="281.9" width="1.2" height="0.8" fill="#8a1c10" opacity="0.22"/>
<rect x="377.0" y="268.5" width="0.7" height="0.7" fill="#8a1c10" opacity="0.23"/>
<rect x="438.1" y="293.0" width="1.2" height="0.8" fill="#8a1c10" opacity="0.18"/>
<rect x="421.7" y="261.5" width="1.2" height="1.2" fill="#8a1c10" opacity="0.17"/>
<rect x="436.3" y="274.2" width="0.8" height="0.7" fill="#8a1c10" opacity="0.21"/>
<rect x="410.1" y="305.2" width="1.1" height="1.3" fill="#8a1c10" opacity="0.27"/>
<rect x="395.1" y="259.5" width="0.8" height="0.7" fill="#8a1c10" opacity="0.18"/>
<rect x="404.5" y="290.7" width="0.8" height="1.2" fill="#8a1c10" opacity="0.19"/>
<rect x="443.3" y="278.8" width="0.6" height="1.2" fill="#8a1c10" opacity="0.10"/>
<rect x="379.0" y="296.4" width="0.8" height="1.2" fill="#8a1c10" opacity="0.21"/>
<rect x="377.5" y="257.2" width="0.6" height="1.2" fill="#8a1c10" opacity="0.18"/>
<rect x="392.4" y="257.5" width="1.0" height="0.9" fill="#8a1c10" opacity="0.09"/>
<rect x="419.2" y="292.7" width="1.3" height="1.1" fill="#8a1c10" opacity="0.26"/>
<rect x="389.8" y="280.4" width="0.6" height="0.9" fill="#8a1c10" opacity="0.12"/>
<rect x="425.0" y="260.2" width="0.8" height="1.1" fill="#8a1c10" opacity="0.14"/>
<rect x="411.7" y="289.9" width="0.9" height="1.2" fill="#8a1c10" opacity="0.25"/>
<rect x="438.1" y="253.9" width="1.1" height="0.7" fill="#8a1c10" opacity="0.29"/>
<rect x="407.2" y="290.7" width="0.9" height="1.0" fill="#8a1c10" opacity="0.28"/>
<rect x="436.3" y="302.4" width="0.9" height="1.1" fill="#8a1c10" opacity="0.29"/>
<rect x="390.2" y="297.3" width="1.0" height="1.1" fill="#8a1c10" opacity="0.26"/>
<rect x="390.8" y="309.5" width="1.3" height="1.0" fill="#8a1c10" opacity="0.30"/>
<rect x="430.2" y="269.8" width="1.2" height="0.8" fill="#8a1c10" opacity="0.28"/>
<rect x="381.9" y="278.1" width="1.1" height="0.9" fill="#8a1c10" opacity="0.20"/>
<rect x="378.1" y="303.2" width="1.2" height="0.7" fill="#8a1c10" opacity="0.09"/>
<rect x="399.1" y="301.8" width="0.7" height="1.0" fill="#8a1c10" opacity="0.11"/>
<rect x="425.6" y="305.4" width="1.3" height="0.9" fill="#8a1c10" opacity="0.23"/>
<rect x="441.0" y="253.8" width="1.0" height="0.8" fill="#8a1c10" opacity="0.13"/>
<rect x="426.0" y="291.6" width="1.2" height="1.0" fill="#8a1c10" opacity="0.20"/>
<rect x="397.5" y="274.0" width="1.2" height="0.7" fill="#8a1c10" opacity="0.27"/>
<rect x="434.3" y="314.1" width="1.0" height="0.7" fill="#8a1c10" opacity="0.20"/>
<rect x="412.8" y="282.3" width="0.6" height="1.3" fill="#8a1c10" opacity="0.21"/>
<rect x="411.4" y="275.3" width="1.0" height="0.9" fill="#8a1c10" opacity="0.26"/>
<rect x="423.4" y="252.4" width="0.9" height="1.3" fill="#8a1c10" opacity="0.20"/>
<rect x="439.3" y="266.3" width="0.7" height="0.9" fill="#8a1c10" opacity="0.18"/>
<rect x="431.9" y="309.5" width="0.8" height="0.7" fill="#8a1c10" opacity="0.18"/>
<rect x="418.4" y="311.2" width="1.1" height="0.6" fill="#8a1c10" opacity="0.11"/>
<rect x="389.5" y="263.4" width="0.8" height="0.8" fill="#8a1c10" opacity="0.23"/>
<rect x="418.5" y="255.1" width="0.7" height="1.0" fill="#8a1c10" opacity="0.24"/>
<rect x="393.3" y="261.4" width="0.9" height="0.9" fill="#8a1c10" opacity="0.20"/>
<rect x="404.4" y="284.1" width="0.7" height="1.0" fill="#8a1c10" opacity="0.12"/>
<rect x="419.8" y="284.1" width="1.0" height="1.2" fill="#8a1c10" opacity="0.27"/>
<rect x="392.1" y="298.6" width="1.2" height="0.8" fill="#8a1c10" opacity="0.26"/>
<rect x="397.7" y="311.0" width="1.3" height="1.2" fill="#8a1c10" opacity="0.13"/>
<rect x="385.3" y="264.3" width="0.8" height="0.7" fill="#8a1c10" opacity="0.24"/>
<rect x="433.0" y="276.7" width="0.7" height="0.9" fill="#8a1c10" opacity="0.25"/>
<rect x="423.0" y="249.1" width="1.1" height="1.2" fill="#8a1c10" opacity="0.12"/>
<rect x="442.3" y="255.8" width="1.1" height="1.0" fill="#8a1c10" opacity="0.19"/>
<rect x="423.0" y="260.8" width="0.7" height="0.6" fill="#8a1c10" opacity="0.10"/>
<rect x="413.9" y="283.1" width="0.7" height="0.7" fill="#8a1c10" opacity="0.21"/>
<rect x="390.1" y="305.4" width="1.2" height="0.7" fill="#8a1c10" opacity="0.30"/>
<rect x="380.4" y="313.0" width="1.1" height="0.8" fill="#8a1c10" opacity="0.18"/>
<rect x="408.1" y="283.1" width="1.0" height="0.6" fill="#8a1c10" opacity="0.17"/>
<rect x="424.1" y="305.6" width="0.9" height="1.1" fill="#8a1c10" opacity="0.12"/>
<rect x="403.9" y="261.2" width="1.0" height="0.6" fill="#8a1c10" opacity="0.12"/>
<rect x="437.2" y="302.7" width="1.2" height="1.0" fill="#8a1c10" opacity="0.24"/>
<rect x="403.8" y="288.9" width="1.3" height="1.2" fill="#8a1c10" opacity="0.19"/>
<rect x="393.8" y="310.2" width="1.1" height="1.2" fill="#8a1c10" opacity="0.24"/>
<rect x="403.9" y="309.2" width="1.1" height="1.1" fill="#8a1c10" opacity="0.27"/>
<rect x="428.5" y="275.7" width="0.6" height="0.8" fill="#8a1c10" opacity="0.24"/>
<rect x="408.2" y="248.6" width="1.0" height="1.0" fill="#8a1c10" opacity="0.16"/>
<rect x="392.1" y="312.5" width="0.8" height="1.1" fill="#8a1c10" opacity="0.23"/>
<rect x="415.1" y="284.4" width="1.3" height="1.0" fill="#8a1c10" opacity="0.17"/>
<rect x="424.1" y="300.0" width="0.6" height="1.0" fill="#8a1c10" opacity="0.30"/>
<rect x="426.7" y="265.5" width="0.6" height="0.7" fill="#8a1c10" opacity="0.17"/>
<rect x="401.9" y="254.6" width="1.2" height="1.0" fill="#8a1c10" opacity="0.14"/>
<rect x="410.9" y="314.1" width="1.3" height="1.0" fill="#8a1c10" opacity="0.20"/>
<rect x="431.5" y="253.1" width="1.1" height="0.6" fill="#8a1c10" opacity="0.21"/>
<rect x="439.7" y="258.8" width="0.7" height="0.9" fill="#8a1c10" opacity="0.18"/>
<rect x="417.9" y="251.9" width="0.9" height="1.0" fill="#8a1c10" opacity="0.29"/>
<rect x="417.0" y="272.9" width="1.1" height="1.0" fill="#8a1c10" opacity="0.14"/>
<rect x="395.6" y="296.9" width="0.6" height="0.8" fill="#8a1c10" opacity="0.15"/>
<rect x="379.1" y="258.6" width="0.9" height="1.2" fill="#8a1c10" opacity="0.25"/>
<rect x="427.3" y="251.3" width="1.3" height="0.7" fill="#8a1c10" opacity="0.30"/>
<rect x="438.0" y="277.3" width="1.3" height="0.8" fill="#8a1c10" opacity="0.19"/>
<rect x="411.9" y="312.0" width="0.9" height="1.3" fill="#8a1c10" opacity="0.24"/>
<rect x="432.0" y="289.2" width="1.0" height="0.9" fill="#8a1c10" opacity="0.11"/>
<rect x="390.1" y="251.5" width="0.7" height="0.9" fill="#8a1c10" opacity="0.20"/>
<rect x="421.8" y="279.1" width="1.0" height="0.9" fill="#8a1c10" opacity="0.14"/>
<rect x="429.3" y="284.2" width="1.3" height="1.1" fill="#8a1c10" opacity="0.30"/>
<rect x="392.5" y="255.7" width="1.1" height="1.0" fill="#8a1c10" opacity="0.28"/>
<!--cell11-->
</g>
<rect x="447.90" y="246.90" width="70.10" height="70.40" fill="#120303" stroke="none" stroke-width="1" />
<clipPath id="cp12"><rect x="447.9" y="246.9" width="70.1" height="70.4"/></clipPath>
<g clip-path="url(#cp12)">
<rect x="481.2" y="292.9" width="0.7" height="0.6" fill="#8a1c10" opacity="0.23"/>
<rect x="474.4" y="266.6" width="1.1" height="1.0" fill="#8a1c10" opacity="0.26"/>
<rect x="486.9" y="293.1" width="0.9" height="0.7" fill="#8a1c10" opacity="0.11"/>
<rect x="510.6" y="251.9" width="0.7" height="1.1" fill="#8a1c10" opacity="0.26"/>
<rect x="471.8" y="275.6" width="0.6" height="0.6" fill="#8a1c10" opacity="0.27"/>
<rect x="511.2" y="282.7" width="1.3" height="1.3" fill="#8a1c10" opacity="0.10"/>
<rect x="456.6" y="276.8" width="0.8" height="1.0" fill="#8a1c10" opacity="0.11"/>
<rect x="460.0" y="295.6" width="0.7" height="1.2" fill="#8a1c10" opacity="0.09"/>
<rect x="476.2" y="276.5" width="0.9" height="0.9" fill="#8a1c10" opacity="0.21"/>
<rect x="451.0" y="297.6" width="1.3" height="1.1" fill="#8a1c10" opacity="0.29"/>
<rect x="473.2" y="272.7" width="1.1" height="0.7" fill="#8a1c10" opacity="0.23"/>
<rect x="464.9" y="272.8" width="1.2" height="1.0" fill="#8a1c10" opacity="0.19"/>
<rect x="450.8" y="304.2" width="1.0" height="0.8" fill="#8a1c10" opacity="0.17"/>
<rect x="478.0" y="274.5" width="0.7" height="1.0" fill="#8a1c10" opacity="0.25"/>
<rect x="461.0" y="295.5" width="0.8" height="0.8" fill="#8a1c10" opacity="0.09"/>
<rect x="492.3" y="251.5" width="0.7" height="0.8" fill="#8a1c10" opacity="0.18"/>
<rect x="481.3" y="313.5" width="1.3" height="0.7" fill="#8a1c10" opacity="0.19"/>
<rect x="511.8" y="272.8" width="1.1" height="1.2" fill="#8a1c10" opacity="0.12"/>
<rect x="449.4" y="266.2" width="0.8" height="0.8" fill="#8a1c10" opacity="0.25"/>
<rect x="449.5" y="250.6" width="1.3" height="1.3" fill="#8a1c10" opacity="0.22"/>
<rect x="483.2" y="249.5" width="1.2" height="1.2" fill="#8a1c10" opacity="0.15"/>
<rect x="492.4" y="263.6" width="0.9" height="1.0" fill="#8a1c10" opacity="0.20"/>
<rect x="466.8" y="312.7" width="0.7" height="0.8" fill="#8a1c10" opacity="0.28"/>
<rect x="508.4" y="266.9" width="1.0" height="1.1" fill="#8a1c10" opacity="0.29"/>
<rect x="496.9" y="262.5" width="0.8" height="1.1" fill="#8a1c10" opacity="0.14"/>
<rect x="496.2" y="256.9" width="0.9" height="0.8" fill="#8a1c10" opacity="0.28"/>
<rect x="478.5" y="314.9" width="1.0" height="1.2" fill="#8a1c10" opacity="0.20"/>
<rect x="514.4" y="299.9" width="1.0" height="1.2" fill="#8a1c10" opacity="0.17"/>
<rect x="502.6" y="287.6" width="0.9" height="1.1" fill="#8a1c10" opacity="0.16"/>
<rect x="487.3" y="249.1" width="1.2" height="1.2" fill="#8a1c10" opacity="0.24"/>
<rect x="510.0" y="310.2" width="1.2" height="0.9" fill="#8a1c10" opacity="0.20"/>
<rect x="455.6" y="272.1" width="1.3" height="1.1" fill="#8a1c10" opacity="0.15"/>
<rect x="485.8" y="290.5" width="1.0" height="1.1" fill="#8a1c10" opacity="0.11"/>
<rect x="475.7" y="264.7" width="0.8" height="1.1" fill="#8a1c10" opacity="0.17"/>
<rect x="458.6" y="254.1" width="1.1" height="1.1" fill="#8a1c10" opacity="0.15"/>
<rect x="493.8" y="311.8" width="0.6" height="0.9" fill="#8a1c10" opacity="0.16"/>
<rect x="479.1" y="260.2" width="0.8" height="0.8" fill="#8a1c10" opacity="0.23"/>
<rect x="471.2" y="312.5" width="0.9" height="0.8" fill="#8a1c10" opacity="0.08"/>
<rect x="462.6" y="277.5" width="1.2" height="1.0" fill="#8a1c10" opacity="0.13"/>
<rect x="496.4" y="259.0" width="1.0" height="1.2" fill="#8a1c10" opacity="0.18"/>
<rect x="465.9" y="279.3" width="1.2" height="0.8" fill="#8a1c10" opacity="0.27"/>
<rect x="485.5" y="300.0" width="1.1" height="1.1" fill="#8a1c10" opacity="0.17"/>
<rect x="515.1" y="285.8" width="0.8" height="1.1" fill="#8a1c10" opacity="0.23"/>
<rect x="470.8" y="282.1" width="0.8" height="0.7" fill="#8a1c10" opacity="0.16"/>
<rect x="464.3" y="285.1" width="0.6" height="1.2" fill="#8a1c10" opacity="0.14"/>
<rect x="468.4" y="311.9" width="0.9" height="1.2" fill="#8a1c10" opacity="0.21"/>
<rect x="510.0" y="269.9" width="1.0" height="1.2" fill="#8a1c10" opacity="0.11"/>
<rect x="490.3" y="301.5" width="1.0" height="0.8" fill="#8a1c10" opacity="0.17"/>
<rect x="476.6" y="273.9" width="0.9" height="1.2" fill="#8a1c10" opacity="0.16"/>
<rect x="460.5" y="261.9" width="1.3" height="1.0" fill="#8a1c10" opacity="0.14"/>
<rect x="452.5" y="305.0" width="1.2" height="0.9" fill="#8a1c10" opacity="0.27"/>
<rect x="498.9" y="268.8" width="1.2" height="1.2" fill="#8a1c10" opacity="0.11"/>
<rect x="463.3" y="308.1" width="0.8" height="0.6" fill="#8a1c10" opacity="0.09"/>
<rect x="460.5" y="259.1" width="0.8" height="0.7" fill="#8a1c10" opacity="0.24"/>
<rect x="461.4" y="269.2" width="1.0" height="0.7" fill="#8a1c10" opacity="0.27"/>
<rect x="495.5" y="284.6" width="1.0" height="1.1" fill="#8a1c10" opacity="0.18"/>
<rect x="503.4" y="282.5" width="0.9" height="1.0" fill="#8a1c10" opacity="0.22"/>
<rect x="475.4" y="276.3" width="1.1" height="0.8" fill="#8a1c10" opacity="0.19"/>
<rect x="511.9" y="281.5" width="1.1" height="1.3" fill="#8a1c10" opacity="0.27"/>
<rect x="495.4" y="277.1" width="1.0" height="1.1" fill="#8a1c10" opacity="0.17"/>
<rect x="506.0" y="256.7" width="0.7" height="0.7" fill="#8a1c10" opacity="0.09"/>
<rect x="452.7" y="248.5" width="0.7" height="1.1" fill="#8a1c10" opacity="0.13"/>
<rect x="490.8" y="314.0" width="1.1" height="1.3" fill="#8a1c10" opacity="0.29"/>
<rect x="450.8" y="263.5" width="0.9" height="0.7" fill="#8a1c10" opacity="0.28"/>
<rect x="500.4" y="276.9" width="0.8" height="0.8" fill="#8a1c10" opacity="0.20"/>
<rect x="454.8" y="289.4" width="1.3" height="1.1" fill="#8a1c10" opacity="0.29"/>
<rect x="512.5" y="272.7" width="1.2" height="1.0" fill="#8a1c10" opacity="0.15"/>
<rect x="494.5" y="248.8" width="0.9" height="1.1" fill="#8a1c10" opacity="0.13"/>
<rect x="505.1" y="299.7" width="0.9" height="1.2" fill="#8a1c10" opacity="0.15"/>
<rect x="516.3" y="281.1" width="1.0" height="1.0" fill="#8a1c10" opacity="0.12"/>
<rect x="473.5" y="263.7" width="1.0" height="0.7" fill="#8a1c10" opacity="0.16"/>
<rect x="485.7" y="313.0" width="0.8" height="0.9" fill="#8a1c10" opacity="0.24"/>
<rect x="455.9" y="298.3" width="0.7" height="1.0" fill="#8a1c10" opacity="0.22"/>
<rect x="489.5" y="287.4" width="0.8" height="0.8" fill="#8a1c10" opacity="0.16"/>
<rect x="516.8" y="270.5" width="0.9" height="0.7" fill="#8a1c10" opacity="0.19"/>
<rect x="476.1" y="261.9" width="0.9" height="0.8" fill="#8a1c10" opacity="0.15"/>
<rect x="512.8" y="268.2" width="1.1" height="0.9" fill="#8a1c10" opacity="0.15"/>
<rect x="484.0" y="292.2" width="1.1" height="0.7" fill="#8a1c10" opacity="0.10"/>
<rect x="465.9" y="303.3" width="1.1" height="0.7" fill="#8a1c10" opacity="0.30"/>
<rect x="478.7" y="267.2" width="0.8" height="0.7" fill="#8a1c10" opacity="0.27"/>
<rect x="492.4" y="291.5" width="0.9" height="1.3" fill="#8a1c10" opacity="0.21"/>
<rect x="480.1" y="312.0" width="0.9" height="0.9" fill="#8a1c10" opacity="0.17"/>
<rect x="497.6" y="299.3" width="1.0" height="1.1" fill="#8a1c10" opacity="0.13"/>
<rect x="483.1" y="293.2" width="1.1" height="0.8" fill="#8a1c10" opacity="0.22"/>
<rect x="469.8" y="249.6" width="1.2" height="0.9" fill="#8a1c10" opacity="0.28"/>
<rect x="514.8" y="309.6" width="1.2" height="0.9" fill="#8a1c10" opacity="0.11"/>
<rect x="470.3" y="265.6" width="0.6" height="0.6" fill="#8a1c10" opacity="0.17"/>
<rect x="456.9" y="268.9" width="0.7" height="1.2" fill="#8a1c10" opacity="0.11"/>
<rect x="474.8" y="281.4" width="1.3" height="0.7" fill="#8a1c10" opacity="0.21"/>
<rect x="464.4" y="306.7" width="1.3" height="1.0" fill="#8a1c10" opacity="0.28"/>
<rect x="473.9" y="260.8" width="1.1" height="1.0" fill="#8a1c10" opacity="0.28"/>
<rect x="502.8" y="265.7" width="1.2" height="0.7" fill="#8a1c10" opacity="0.20"/>
<rect x="490.9" y="260.6" width="1.2" height="1.1" fill="#8a1c10" opacity="0.26"/>
<rect x="478.6" y="249.4" width="0.9" height="0.9" fill="#8a1c10" opacity="0.19"/>
<rect x="454.2" y="310.8" width="1.0" height="1.2" fill="#8a1c10" opacity="0.19"/>
<rect x="509.9" y="285.5" width="1.2" height="0.9" fill="#8a1c10" opacity="0.20"/>
<rect x="510.2" y="249.6" width="1.0" height="1.0" fill="#8a1c10" opacity="0.26"/>
<rect x="516.3" y="262.9" width="1.2" height="1.1" fill="#8a1c10" opacity="0.17"/>
<rect x="484.6" y="301.0" width="1.2" height="1.1" fill="#8a1c10" opacity="0.23"/>
<rect x="473.6" y="267.5" width="0.7" height="0.6" fill="#8a1c10" opacity="0.10"/>
<rect x="515.3" y="257.5" width="0.7" height="1.3" fill="#8a1c10" opacity="0.21"/>
<rect x="485.2" y="260.0" width="1.2" height="1.3" fill="#8a1c10" opacity="0.26"/>
<rect x="464.1" y="275.4" width="0.8" height="1.0" fill="#8a1c10" opacity="0.23"/>
<rect x="496.6" y="299.3" width="1.1" height="0.8" fill="#8a1c10" opacity="0.26"/>
<rect x="500.4" y="277.6" width="0.6" height="1.0" fill="#8a1c10" opacity="0.12"/>
<rect x="473.3" y="254.3" width="0.9" height="0.8" fill="#8a1c10" opacity="0.19"/>
<rect x="487.5" y="284.8" width="1.3" height="1.2" fill="#8a1c10" opacity="0.20"/>
<rect x="469.2" y="307.5" width="1.3" height="0.6" fill="#8a1c10" opacity="0.15"/>
<rect x="470.6" y="311.6" width="1.1" height="0.7" fill="#8a1c10" opacity="0.23"/>
<rect x="457.2" y="313.5" width="0.7" height="0.9" fill="#8a1c10" opacity="0.09"/>
<rect x="504.7" y="294.4" width="1.1" height="0.9" fill="#8a1c10" opacity="0.30"/>
<rect x="511.0" y="269.6" width="1.3" height="1.2" fill="#8a1c10" opacity="0.09"/>
<rect x="493.9" y="280.7" width="0.8" height="0.6" fill="#8a1c10" opacity="0.12"/>
<rect x="455.3" y="280.7" width="1.3" height="1.0" fill="#8a1c10" opacity="0.28"/>
<rect x="494.8" y="279.9" width="1.1" height="1.3" fill="#8a1c10" opacity="0.25"/>
<rect x="506.5" y="294.3" width="0.7" height="0.9" fill="#8a1c10" opacity="0.21"/>
<rect x="479.4" y="258.5" width="0.9" height="0.7" fill="#8a1c10" opacity="0.12"/>
<rect x="491.4" y="270.3" width="1.1" height="1.0" fill="#8a1c10" opacity="0.30"/>
<rect x="478.4" y="274.7" width="1.3" height="1.2" fill="#8a1c10" opacity="0.12"/>
<rect x="493.2" y="292.4" width="1.0" height="0.7" fill="#8a1c10" opacity="0.11"/>
<!--cell12-->
</g>
<g clip-path="url(#cp10)">
<polygon points="327.5,298.5 333,294 339.5,290 340,295 333.5,298.5" fill="#1eaa1e" filter="url(#bl0)"/>
<ellipse cx="349.2" cy="285.9" rx="14" ry="6.3" fill="#178a17" transform="rotate(-36 349.2 285.9)" filter="url(#bl0)"/>
<rect x="348.4" y="281.3" width="1.6" height="1.6" fill="#34d034" opacity="0.8"/>
<rect x="355.0" y="286.6" width="1.6" height="1.6" fill="#107010" opacity="0.8"/>
<rect x="341.0" y="291.2" width="1.6" height="1.6" fill="#24b424" opacity="0.8"/>
<rect x="351.4" y="288.0" width="1.6" height="1.6" fill="#24b424" opacity="0.8"/>
<rect x="354.0" y="281.1" width="1.6" height="1.6" fill="#0c600c" opacity="0.8"/>
<rect x="355.5" y="285.5" width="1.6" height="1.6" fill="#24b424" opacity="0.8"/>
<rect x="354.9" y="280.3" width="1.6" height="1.6" fill="#107010" opacity="0.8"/>
<rect x="347.9" y="287.3" width="1.6" height="1.6" fill="#107010" opacity="0.8"/>
<rect x="343.4" y="288.0" width="1.6" height="1.6" fill="#34d034" opacity="0.8"/>
<rect x="358.4" y="280.6" width="1.6" height="1.6" fill="#24b424" opacity="0.8"/>
<rect x="353.5" y="278.3" width="1.6" height="1.6" fill="#24b424" opacity="0.8"/>
<rect x="358.3" y="280.8" width="1.6" height="1.6" fill="#34d034" opacity="0.8"/>
<rect x="345.0" y="281.2" width="1.6" height="1.6" fill="#2ec82e" opacity="0.8"/>
<rect x="338.5" y="289.3" width="1.6" height="1.6" fill="#24b424" opacity="0.8"/>
<rect x="353.5" y="280.8" width="1.6" height="1.6" fill="#24b424" opacity="0.8"/>
<rect x="354.3" y="280.2" width="1.6" height="1.6" fill="#24b424" opacity="0.8"/>
<rect x="358.5" y="280.0" width="1.6" height="1.6" fill="#0c600c" opacity="0.8"/>
<rect x="345.3" y="280.6" width="1.6" height="1.6" fill="#24b424" opacity="0.8"/>
<rect x="351.0" y="288.4" width="1.6" height="1.6" fill="#0c600c" opacity="0.8"/>
<rect x="344.8" y="281.6" width="1.6" height="1.6" fill="#0c600c" opacity="0.8"/>
<rect x="359.1" y="277.9" width="1.6" height="1.6" fill="#2ec82e" opacity="0.8"/>
<rect x="346.3" y="286.6" width="1.6" height="1.6" fill="#107010" opacity="0.8"/>
<rect x="346.7" y="281.8" width="1.6" height="1.6" fill="#107010" opacity="0.8"/>
<rect x="358.1" y="277.5" width="1.6" height="1.6" fill="#0c600c" opacity="0.8"/>
<rect x="356.0" y="281.2" width="1.6" height="1.6" fill="#2ec82e" opacity="0.8"/>
<rect x="354.9" y="284.4" width="1.6" height="1.6" fill="#2ec82e" opacity="0.8"/>
<rect x="351.4" y="277.4" width="1.6" height="1.6" fill="#0c600c" opacity="0.8"/>
<rect x="345.7" y="286.3" width="1.6" height="1.6" fill="#0c600c" opacity="0.8"/>
<rect x="356.6" y="284.2" width="1.6" height="1.6" fill="#2ec82e" opacity="0.8"/>
<rect x="345.3" y="284.1" width="1.6" height="1.6" fill="#0c600c" opacity="0.8"/>
<rect x="354.7" y="283.3" width="1.6" height="1.6" fill="#0c600c" opacity="0.8"/>
<rect x="358.0" y="282.0" width="1.6" height="1.6" fill="#34d034" opacity="0.8"/>
<rect x="350.6" y="289.6" width="1.6" height="1.6" fill="#2ec82e" opacity="0.8"/>
<rect x="351.6" y="285.0" width="1.6" height="1.6" fill="#2ec82e" opacity="0.8"/>
<rect x="352.9" y="281.0" width="1.6" height="1.6" fill="#24b424" opacity="0.8"/>
<rect x="346.5" y="279.8" width="1.6" height="1.6" fill="#24b424" opacity="0.8"/>
<rect x="344.0" y="283.1" width="1.6" height="1.6" fill="#0c600c" opacity="0.8"/>
<rect x="340.2" y="290.9" width="1.6" height="1.6" fill="#2ec82e" opacity="0.8"/>
<rect x="342.1" y="290.5" width="1.6" height="1.6" fill="#24b424" opacity="0.8"/>
<rect x="349.4" y="289.0" width="1.6" height="1.6" fill="#34d034" opacity="0.8"/>
<rect x="356.0" y="280.2" width="1.6" height="1.6" fill="#2ec82e" opacity="0.8"/>
<rect x="352.5" y="282.4" width="1.6" height="1.6" fill="#2ec82e" opacity="0.8"/>
<rect x="345.6" y="285.2" width="1.6" height="1.6" fill="#34d034" opacity="0.8"/>
<rect x="341.8" y="284.4" width="1.6" height="1.6" fill="#34d034" opacity="0.8"/>
<rect x="356.7" y="282.6" width="1.6" height="1.6" fill="#107010" opacity="0.8"/>
<rect x="345.0" y="263.9" width="1.2" height="1.2" fill="#902018" opacity="0.32"/>
<rect x="360.4" y="254.4" width="1.2" height="1.2" fill="#902018" opacity="0.36"/>
<rect x="343.4" y="257.6" width="1.2" height="1.2" fill="#902018" opacity="0.37"/>
<rect x="365.6" y="271.8" width="1.2" height="1.2" fill="#902018" opacity="0.23"/>
<rect x="367.7" y="269.4" width="1.2" height="1.2" fill="#902018" opacity="0.39"/>
<rect x="359.7" y="276.2" width="1.2" height="1.2" fill="#902018" opacity="0.27"/>
<rect x="359.5" y="270.3" width="1.2" height="1.2" fill="#902018" opacity="0.28"/>
<rect x="347.2" y="261.3" width="1.2" height="1.2" fill="#902018" opacity="0.37"/>
<rect x="340.9" y="271.3" width="1.2" height="1.2" fill="#902018" opacity="0.29"/>
<rect x="357.3" y="257.8" width="1.2" height="1.2" fill="#902018" opacity="0.17"/>
<rect x="355.8" y="253.5" width="1.2" height="1.2" fill="#902018" opacity="0.24"/>
<rect x="361.1" y="250.4" width="1.2" height="1.2" fill="#902018" opacity="0.38"/>
<rect x="351.4" y="265.2" width="1.2" height="1.2" fill="#902018" opacity="0.32"/>
<rect x="324.8" y="253.3" width="1.2" height="1.2" fill="#902018" opacity="0.33"/>
<rect x="351.3" y="267.3" width="1.2" height="1.2" fill="#902018" opacity="0.36"/>
<rect x="335.5" y="256.0" width="1.2" height="1.2" fill="#902018" opacity="0.39"/>
<rect x="325.0" y="266.6" width="1.2" height="1.2" fill="#902018" opacity="0.31"/>
<rect x="369.8" y="250.6" width="1.2" height="1.2" fill="#902018" opacity="0.33"/>
<rect x="325.9" y="264.9" width="1.2" height="1.2" fill="#902018" opacity="0.31"/>
<rect x="364.4" y="250.0" width="1.2" height="1.2" fill="#902018" opacity="0.34"/>
<rect x="329.4" y="263.2" width="1.2" height="1.2" fill="#902018" opacity="0.40"/>
<rect x="364.5" y="250.8" width="1.2" height="1.2" fill="#902018" opacity="0.15"/>
<rect x="323.6" y="273.9" width="1.2" height="1.2" fill="#902018" opacity="0.16"/>
<rect x="361.2" y="270.9" width="1.2" height="1.2" fill="#902018" opacity="0.35"/>
<rect x="368.8" y="265.4" width="1.2" height="1.2" fill="#902018" opacity="0.36"/>
<rect x="349.1" y="268.3" width="1.2" height="1.2" fill="#902018" opacity="0.17"/>
<rect x="349.5" y="277.0" width="1.2" height="1.2" fill="#902018" opacity="0.25"/>
<rect x="357.7" y="254.2" width="1.2" height="1.2" fill="#902018" opacity="0.27"/>
<rect x="349.1" y="271.1" width="1.2" height="1.2" fill="#902018" opacity="0.23"/>
<rect x="345.4" y="255.8" width="1.2" height="1.2" fill="#902018" opacity="0.29"/>
</g>
<g clip-path="url(#cp12)">
<ellipse cx="470" cy="280" rx="12" ry="22" fill="#300606" transform="rotate(20 470 280)" filter="url(#bl2)" opacity="0.6"/>
<ellipse cx="470.5" cy="276" rx="6.5" ry="13.5" fill="#420a0a" transform="rotate(20 470.5 276)" filter="url(#bl)"/>
<ellipse cx="494.3" cy="282.6" rx="6" ry="9.6" fill="#139013" filter="url(#bl0)"/>
<ellipse cx="494.3" cy="282.6" rx="4.4" ry="7.6" fill="#2ee02e" filter="url(#bl)"/>
</g>
<g clip-path="url(#cp11)">
<ellipse cx="412" cy="296" rx="15" ry="14" fill="#3c0a0a" filter="url(#bl2)" opacity="0.45"/>
</g>
<g clip-path="url(#cp10)">
<ellipse cx="345" cy="258" rx="22" ry="6" fill="#3c0a0a" transform="rotate(-20 345 258)" filter="url(#bl2)" opacity="0.45"/>
</g>
<g clip-path="url(#cp00)">
<ellipse cx="352" cy="205" rx="10" ry="10" fill="#2a0606" filter="url(#bl2)" opacity="0.4"/>
</g>
<ellipse cx="340.20" cy="197.10" rx="6.60" ry="10.70" fill="none" stroke="#f4f4f4" stroke-width="1.25" stroke-dasharray="1.5 1.4" transform="rotate(10 340.20 197.10)" />
<ellipse cx="360.80" cy="211.40" rx="7.10" ry="10.30" fill="none" stroke="#f4f4f4" stroke-width="1.25" stroke-dasharray="1.5 1.4" />
<ellipse cx="321.00" cy="219.30" rx="8.40" ry="10.40" fill="none" stroke="#f4f4f4" stroke-width="1.25" stroke-dasharray="1.5 1.4" transform="rotate(-8 321.00 219.30)" />
<ellipse cx="401.20" cy="198.20" rx="10.30" ry="6.00" fill="none" stroke="#f4f4f4" stroke-width="1.25" stroke-dasharray="1.5 1.4" transform="rotate(30 401.20 198.20)" />
<g clip-path="url(#cp01)">
<ellipse cx="433.80" cy="235.50" rx="10.00" ry="6.50" fill="none" stroke="#f4f4f4" stroke-width="1.25" stroke-dasharray="1.5 1.4" transform="rotate(50 433.80 235.50)" />
</g>
<ellipse cx="463.00" cy="192.20" rx="9.50" ry="6.80" fill="none" stroke="#f4f4f4" stroke-width="1.25" stroke-dasharray="1.5 1.4" transform="rotate(35 463.00 192.20)" />
<ellipse cx="492.30" cy="216.40" rx="11.30" ry="8.20" fill="none" stroke="#f4f4f4" stroke-width="1.25" stroke-dasharray="1.5 1.4" transform="rotate(52 492.30 216.40)" />
<g clip-path="url(#cp10)">
<ellipse cx="366.00" cy="254.70" rx="12.00" ry="7.00" fill="none" stroke="#f4f4f4" stroke-width="1.25" stroke-dasharray="1.5 1.4" />
</g>
<ellipse cx="349.20" cy="285.90" rx="14.30" ry="6.60" fill="none" stroke="#f4f4f4" stroke-width="1.25" stroke-dasharray="1.5 1.4" transform="rotate(-36 349.20 285.90)" />
<ellipse cx="414.00" cy="267.00" rx="9.40" ry="11.50" fill="none" stroke="#f4f4f4" stroke-width="1.25" stroke-dasharray="1.5 1.4" />
<ellipse cx="412.10" cy="299.00" rx="10.00" ry="8.00" fill="none" stroke="#f4f4f4" stroke-width="1.25" stroke-dasharray="1.5 1.4" />
<ellipse cx="470.50" cy="276.00" rx="6.50" ry="13.50" fill="none" stroke="#f4f4f4" stroke-width="1.25" stroke-dasharray="1.5 1.4" transform="rotate(20 470.50 276.00)" />
<ellipse cx="494.30" cy="282.60" rx="5.70" ry="9.40" fill="none" stroke="#f4f4f4" stroke-width="1.25" stroke-dasharray="1.5 1.4" />
<line x1="304.60" y1="241.70" x2="314.40" y2="241.70" stroke="#fff" stroke-width="1.7" />
<line x1="376.40" y1="241.80" x2="386.50" y2="241.80" stroke="#fff" stroke-width="1.7" />
<line x1="449.90" y1="241.70" x2="459.80" y2="241.70" stroke="#fff" stroke-width="1.7" />
<line x1="304.80" y1="314.80" x2="317.90" y2="314.80" stroke="#fff" stroke-width="1.7" />
<line x1="376.60" y1="315.00" x2="389.70" y2="315.00" stroke="#fff" stroke-width="1.7" />
<line x1="450.00" y1="315.00" x2="462.70" y2="315.00" stroke="#fff" stroke-width="1.7" />
<text x="304.40" y="183.60" font-size="9.8" fill="#fff" font-weight="bold" textLength="20.60" lengthAdjust="spacingAndGlyphs" >2+/-1</text>
<text x="377.60" y="183.60" font-size="9.8" fill="#fff" font-weight="bold" textLength="20.80" lengthAdjust="spacingAndGlyphs" >2+/-2</text>
<text x="449.60" y="183.60" font-size="9.8" fill="#fff" font-weight="bold" textLength="20.80" lengthAdjust="spacingAndGlyphs" >3+/-2</text>
<text x="304.60" y="257.50" font-size="9.8" fill="#fff" font-weight="bold" textLength="26.60" lengthAdjust="spacingAndGlyphs" >30+/-3</text>
<text x="377.20" y="257.50" font-size="9.8" fill="#fff" font-weight="bold" textLength="21.70" lengthAdjust="spacingAndGlyphs" >8+/-3</text>
<text x="449.20" y="257.50" font-size="9.8" fill="#fff" font-weight="bold" textLength="27.40" lengthAdjust="spacingAndGlyphs" >29+/-4</text>
</svg></body></html>
